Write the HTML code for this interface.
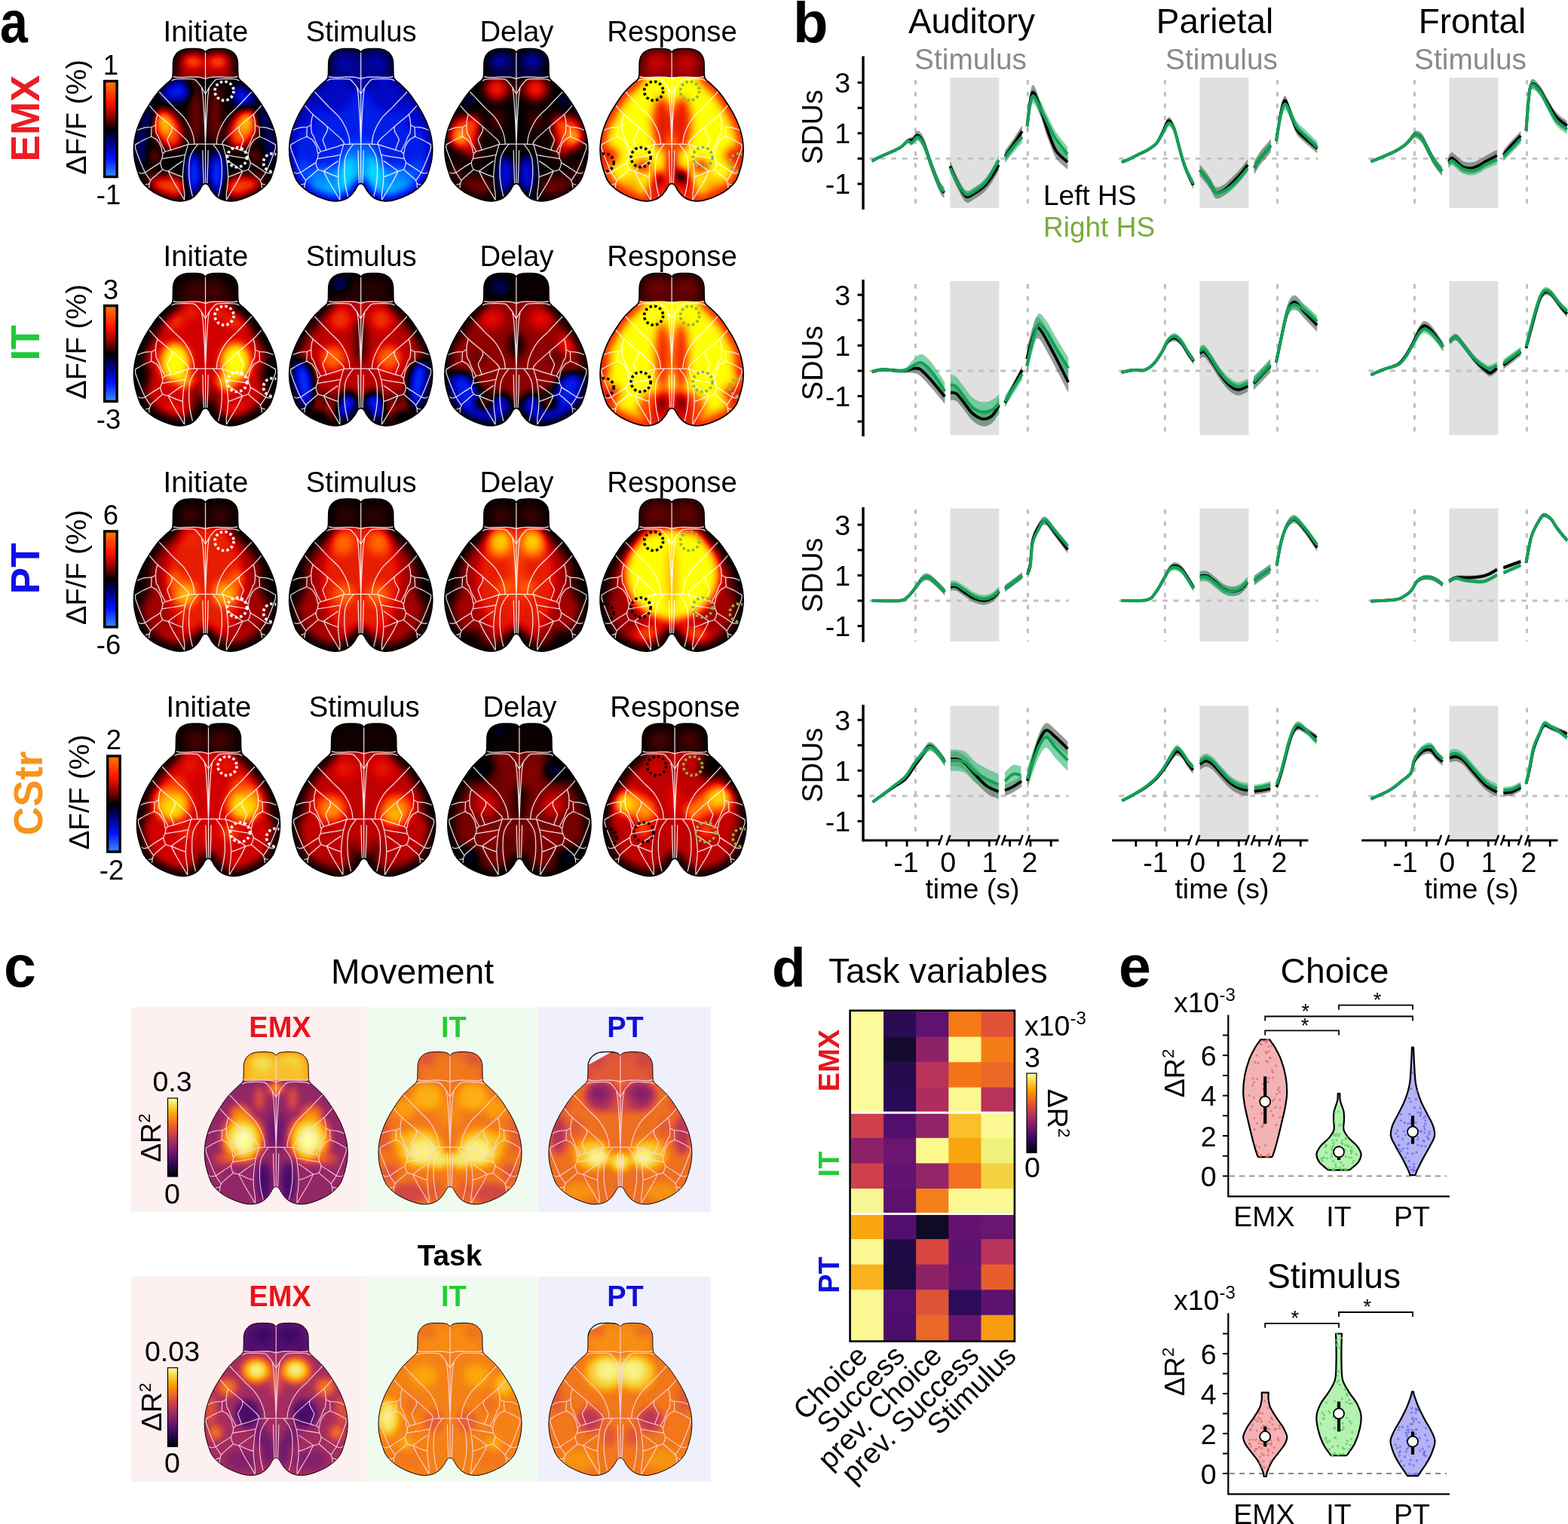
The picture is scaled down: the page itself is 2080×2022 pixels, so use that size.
<!DOCTYPE html><html><head><meta charset="utf-8"><title>Figure</title><style>html,body{margin:0;padding:0;background:#fff;}svg{display:block;}</style></head><body><svg xmlns="http://www.w3.org/2000/svg" width="2080" height="2022" viewBox="0 0 2080 2022" font-family='"Liberation Sans", Arial, sans-serif'><defs><path id="bpath" d="M0,4.3 C-0.87,4.3 -1.52,2.62 -2.6,2 C-3.68,1.38 -4.77,0.93 -6.5,0.6 C-8.23,0.27 -10.58,0.1 -13,0 C-15.42,-0.1 -18.58,-0.1 -21,0 C-23.42,0.1 -25.58,0.23 -27.5,0.6 C-29.42,0.97 -30.98,1.5 -32.5,2.2 C-34.02,2.9 -35.4,3.78 -36.6,4.8 C-37.8,5.82 -38.83,7.02 -39.7,8.3 C-40.57,9.58 -41.28,10.97 -41.8,12.5 C-42.32,14.03 -42.6,15.25 -42.8,17.5 C-43,19.75 -42.93,23.25 -43,26 C-43.07,28.75 -43.03,31.87 -43.2,34 C-43.37,36.13 -43.48,37.5 -44,38.8 C-44.52,40.1 -45.3,40.77 -46.3,41.8 C-47.3,42.83 -48.47,43.6 -50,45 C-51.53,46.4 -53.52,48.27 -55.5,50.2 C-57.48,52.13 -59.73,54.13 -61.9,56.6 C-64.07,59.07 -66.35,62 -68.5,65 C-70.65,68 -72.88,71.6 -74.8,74.6 C-76.72,77.6 -78.4,80.2 -80,83 C-81.6,85.8 -83.07,88.65 -84.4,91.4 C-85.73,94.15 -86.88,96.68 -88,99.5 C-89.12,102.32 -90.22,105.38 -91.1,108.3 C-91.98,111.22 -92.73,114.2 -93.3,117 C-93.87,119.8 -94.22,122.05 -94.5,125.1 C-94.78,128.15 -95.07,131.83 -95,135.3 C-94.93,138.77 -94.57,142.62 -94.1,145.9 C-93.63,149.18 -92.97,151.98 -92.2,155 C-91.43,158.02 -90.6,160.83 -89.5,164 C-88.4,167.17 -87.52,170.8 -85.6,174 C-83.68,177.2 -80.97,180.4 -78,183.2 C-75.03,186 -71.63,188.5 -67.8,190.8 C-63.97,193.1 -59.27,195.28 -55,197 C-50.73,198.72 -46.03,200.25 -42.2,201.1 C-38.37,201.95 -35.4,202.28 -32,202.1 C-28.6,201.92 -24.77,201.12 -21.8,200 C-18.83,198.88 -16.4,197.27 -14.2,195.4 C-12,193.53 -10.13,190.92 -8.6,188.8 C-7.07,186.68 -6.03,184.23 -5,182.7 C-3.97,181.17 -3.23,180.23 -2.4,179.6 C-1.57,178.97 -0.8,178.9 0,178.9 C0.8,178.9 1.57,178.97 2.4,179.6 C3.23,180.23 3.97,181.17 5,182.7 C6.03,184.23 7.07,186.68 8.6,188.8 C10.13,190.92 12,193.53 14.2,195.4 C16.4,197.27 18.83,198.88 21.8,200 C24.77,201.12 28.6,201.92 32,202.1 C35.4,202.28 38.37,201.95 42.2,201.1 C46.03,200.25 50.73,198.72 55,197 C59.27,195.28 63.97,193.1 67.8,190.8 C71.63,188.5 75.03,186 78,183.2 C80.97,180.4 83.68,177.2 85.6,174 C87.52,170.8 88.4,167.17 89.5,164 C90.6,160.83 91.43,158.02 92.2,155 C92.97,151.98 93.63,149.18 94.1,145.9 C94.57,142.62 94.93,138.77 95,135.3 C95.07,131.83 94.78,128.15 94.5,125.1 C94.22,122.05 93.87,119.8 93.3,117 C92.73,114.2 91.98,111.22 91.1,108.3 C90.22,105.38 89.12,102.32 88,99.5 C86.88,96.68 85.73,94.15 84.4,91.4 C83.07,88.65 81.6,85.8 80,83 C78.4,80.2 76.72,77.6 74.8,74.6 C72.88,71.6 70.65,68 68.5,65 C66.35,62 64.07,59.07 61.9,56.6 C59.73,54.13 57.48,52.13 55.5,50.2 C53.52,48.27 51.53,46.4 50,45 C48.47,43.6 47.3,42.83 46.3,41.8 C45.3,40.77 44.52,40.1 44,38.8 C43.48,37.5 43.37,36.13 43.2,34 C43.03,31.87 43.07,28.75 43,26 C42.93,23.25 43,19.75 42.8,17.5 C42.6,15.25 42.32,14.03 41.8,12.5 C41.28,10.97 40.57,9.58 39.7,8.3 C38.83,7.02 37.8,5.82 36.6,4.8 C35.4,3.78 34.02,2.9 32.5,2.2 C30.98,1.5 29.42,0.97 27.5,0.6 C25.58,0.23 23.42,0.1 21,0 C18.58,-0.1 15.42,-0.1 13,0 C10.58,0.1 8.23,0.27 6.5,0.6 C4.77,0.93 3.68,1.38 2.6,2 C1.52,2.62 0.87,4.3 0,4.3Z"/><clipPath id="bclip"><use href="#bpath"/></clipPath><path id="atlas" d="M-43.2,36.6 C-42.1,36.83 -39.8,37.83 -36.6,38 C-33.4,38.17 -28.2,37.68 -24,37.6 C-19.8,37.52 -14.73,37.33 -11.4,37.5 C-8.07,37.67 -5.9,38.18 -4,38.6 C-2.1,39.02 -0.67,39.77 0,40 M43.2,36.6 C42.1,36.83 39.8,37.83 36.6,38 C33.4,38.17 28.2,37.68 24,37.6 C19.8,37.52 14.73,37.33 11.4,37.5 C8.07,37.67 5.9,38.18 4,38.6 C2.1,39.02 0.67,39.77 0,40 M-44.5,42.2 C-43.75,41.9 -42.42,40.78 -40,40.4 C-37.58,40.02 -34.12,39.9 -30,39.9 C-25.88,39.9 -18.72,39.47 -15.3,40.4 C-11.88,41.33 -11.18,43.73 -9.5,45.5 C-7.82,47.27 -6.38,49.25 -5.2,51 C-4.02,52.75 -3.27,54.5 -2.4,56 C-1.53,57.5 -0.4,59.33 0,60 M44.5,42.2 C43.75,41.9 42.42,40.78 40,40.4 C37.58,40.02 34.12,39.9 30,39.9 C25.88,39.9 18.72,39.47 15.3,40.4 C11.88,41.33 11.18,43.73 9.5,45.5 C7.82,47.27 6.38,49.25 5.2,51 C4.02,52.75 3.27,54.5 2.4,56 C1.53,57.5 0.4,59.33 0,60 M-5.2,51 C-4.9,52.83 -3.85,58 -3.4,62 C-2.95,66 -2.85,69.5 -2.5,75 C-2.15,80.5 -1.63,88.33 -1.3,95 C-0.97,101.67 -0.72,109.75 -0.5,115 C-0.28,120.25 -0.08,124.58 0,126.5 M5.2,51 C4.9,52.83 3.85,58 3.4,62 C2.95,66 2.85,69.5 2.5,75 C2.15,80.5 1.63,88.33 1.3,95 C0.97,101.67 0.72,109.75 0.5,115 C0.28,120.25 0.08,124.58 0,126.5 M-61.9,56.6 C-60.25,58.33 -55.28,63.53 -52,67 C-48.72,70.47 -46.17,73.33 -42.2,77.4 C-38.23,81.47 -31.93,86.72 -28.2,91.4 C-24.47,96.08 -21.85,101.28 -19.8,105.5 C-17.75,109.72 -16.75,113.23 -15.9,116.7 C-15.05,120.17 -14.9,124.7 -14.7,126.3 M61.9,56.6 C60.25,58.33 55.28,63.53 52,67 C48.72,70.47 46.17,73.33 42.2,77.4 C38.23,81.47 31.93,86.72 28.2,91.4 C24.47,96.08 21.85,101.28 19.8,105.5 C17.75,109.72 16.75,113.23 15.9,116.7 C15.05,120.17 14.9,124.7 14.7,126.3 M-74.8,74.6 C-72.93,76.67 -68.55,82.32 -63.6,87 C-58.65,91.68 -51.47,97.1 -45.1,102.7 C-38.73,108.3 -29.25,116.58 -25.4,120.6 C-21.55,124.62 -22.57,125.77 -22,126.8 M74.8,74.6 C72.93,76.67 68.55,82.32 63.6,87 C58.65,91.68 51.47,97.1 45.1,102.7 C38.73,108.3 29.25,116.58 25.4,120.6 C21.55,124.62 22.57,125.77 22,126.8 M-22.9,126.8 C-21.08,126.75 -15.82,126.58 -12,126.5 C-8.18,126.42 -2,126.33 0,126.3 M22.9,126.8 C21.08,126.75 15.82,126.58 12,126.5 C8.18,126.42 2,126.33 0,126.3 M-63.6,87 C-63.97,88.68 -65.52,93.08 -65.8,97.1 C-66.08,101.12 -65.82,107.98 -65.3,111.1 C-64.78,114.22 -63.73,113.47 -62.7,115.8 C-61.67,118.13 -60.63,121.78 -59.1,125.1 C-57.57,128.42 -54.43,133.93 -53.5,135.7 M63.6,87 C63.97,88.68 65.52,93.08 65.8,97.1 C66.08,101.12 65.82,107.98 65.3,111.1 C64.78,114.22 63.73,113.47 62.7,115.8 C61.67,118.13 60.63,121.78 59.1,125.1 C57.57,128.42 54.43,133.93 53.5,135.7 M-65.8,101 C-66.73,101.47 -68.77,103.15 -71.4,103.8 C-74.03,104.45 -78.25,104.1 -81.6,104.9 C-84.95,105.7 -89.85,107.98 -91.5,108.6 M65.8,101 C66.73,101.47 68.77,103.15 71.4,103.8 C74.03,104.45 78.25,104.1 81.6,104.9 C84.95,105.7 89.85,107.98 91.5,108.6 M-71.4,103.8 C-71.43,104.83 -71.6,107.88 -71.6,110 C-71.6,112.12 -72.55,114.73 -71.4,116.5 C-70.25,118.27 -66.75,118.42 -64.7,120.6 C-62.65,122.78 -60.28,126.92 -59.1,129.6 C-57.92,132.28 -58.03,135.08 -57.6,136.7 C-57.17,138.32 -56.68,138.87 -56.5,139.3 M71.4,103.8 C71.43,104.83 71.6,107.88 71.6,110 C71.6,112.12 72.55,114.73 71.4,116.5 C70.25,118.27 66.75,118.42 64.7,120.6 C62.65,122.78 60.28,126.92 59.1,129.6 C57.92,132.28 58.03,135.08 57.6,136.7 C57.17,138.32 56.68,138.87 56.5,139.3 M-71.4,116.5 C-73.17,117.25 -78.43,119.22 -82,121 C-85.57,122.78 -91,126.17 -92.8,127.2 M71.4,116.5 C73.17,117.25 78.43,119.22 82,121 C85.57,122.78 91,126.17 92.8,127.2 M-45.1,102.7 C-45,103.63 -43.77,105.75 -44.5,108.3 C-45.23,110.85 -48.52,115.82 -49.5,118 C-50.48,120.18 -50.93,118.95 -50.4,121.4 C-49.87,123.85 -46.8,130.48 -46.3,132.7 C-45.8,134.92 -47.22,134.37 -47.4,134.7 M45.1,102.7 C45,103.63 43.77,105.75 44.5,108.3 C45.23,110.85 48.52,115.82 49.5,118 C50.48,120.18 50.93,118.95 50.4,121.4 C49.87,123.85 46.8,130.48 46.3,132.7 C45.8,134.92 47.22,134.37 47.4,134.7 M-22.9,126.8 C-24.92,127.5 -30.92,129.68 -35,131 C-39.08,132.32 -44.23,133.75 -47.4,134.7 C-50.57,135.65 -52.48,135.93 -54,136.7 C-55.52,137.47 -56.08,138.87 -56.5,139.3 M22.9,126.8 C24.92,127.5 30.92,129.68 35,131 C39.08,132.32 44.23,133.75 47.4,134.7 C50.57,135.65 52.48,135.93 54,136.7 C55.52,137.47 56.08,138.87 56.5,139.3 M-56.5,139.3 C-56.68,140.4 -57.08,143.95 -57.6,145.9 C-58.12,147.85 -59.78,148.62 -59.6,151 C-59.42,153.38 -58.2,158.32 -56.5,160.2 C-54.8,162.08 -50.58,161.95 -49.4,162.3 M56.5,139.3 C56.68,140.4 57.08,143.95 57.6,145.9 C58.12,147.85 59.78,148.62 59.6,151 C59.42,153.38 58.2,158.32 56.5,160.2 C54.8,162.08 50.58,161.95 49.4,162.3 M-57.6,145.9 C-55,145.5 -46.95,144.35 -42,143.5 C-37.05,142.65 -30.25,141.25 -27.9,140.8 M57.6,145.9 C55,145.5 46.95,144.35 42,143.5 C37.05,142.65 30.25,141.25 27.9,140.8 M-49.4,162.3 C-47.83,161.17 -43.15,157.72 -40,155.5 C-36.85,153.28 -32.08,150.08 -30.5,149 M49.4,162.3 C47.83,161.17 43.15,157.72 40,155.5 C36.85,153.28 32.08,150.08 30.5,149 M-49.4,162.3 C-47.83,163 -43.15,165.23 -40,166.5 C-36.85,167.77 -32.08,169.33 -30.5,169.9 M49.4,162.3 C47.83,163 43.15,165.23 40,166.5 C36.85,167.77 32.08,169.33 30.5,169.9 M-49.4,162.3 C-48.2,164.68 -44.6,172.23 -42.2,176.6 C-39.8,180.97 -37.28,184.68 -35,188.5 C-32.72,192.32 -29.58,197.67 -28.5,199.5 M49.4,162.3 C48.2,164.68 44.6,172.23 42.2,176.6 C39.8,180.97 37.28,184.68 35,188.5 C32.72,192.32 29.58,197.67 28.5,199.5 M-56.5,160.2 C-57.92,161.42 -62.27,165.03 -65,167.5 C-67.73,169.97 -71.25,172.22 -72.9,175 C-74.55,177.78 -74.55,181.78 -74.9,184.2 C-75.25,186.62 -74.98,188.62 -75,189.5 M56.5,160.2 C57.92,161.42 62.27,165.03 65,167.5 C67.73,169.97 71.25,172.22 72.9,175 C74.55,177.78 74.55,181.78 74.9,184.2 C75.25,186.62 74.98,188.62 75,189.5 M-72.9,175 C-74.08,173.22 -78.82,166.08 -80,164.3 M72.9,175 C74.08,173.22 78.82,166.08 80,164.3 M-59.6,151 C-61.33,152.08 -66.6,155.28 -70,157.5 C-73.4,159.72 -78.33,163.17 -80,164.3 M59.6,151 C61.33,152.08 66.6,155.28 70,157.5 C73.4,159.72 78.33,163.17 80,164.3 M-80,164.3 C-80.77,162.6 -83.1,157.65 -84.6,154.1 C-86.1,150.55 -87.63,146.67 -89,143 C-90.37,139.33 -92.17,134.73 -92.8,132.1 C-93.43,129.47 -92.8,128.02 -92.8,127.2 M80,164.3 C80.77,162.6 83.1,157.65 84.6,154.1 C86.1,150.55 87.63,146.67 89,143 C90.37,139.33 92.17,134.73 92.8,132.1 C93.43,129.47 92.8,128.02 92.8,127.2 M-80,164.3 C-81.02,164.47 -84.33,165.6 -86.1,165.3 C-87.87,165 -89.85,162.97 -90.6,162.5 M80,164.3 C81.02,164.47 84.33,165.6 86.1,165.3 C87.87,165 89.85,162.97 90.6,162.5 M-74.9,179.1 C-76.02,179.35 -79.95,181.2 -81.6,180.6 C-83.25,180 -84.27,176.35 -84.8,175.5 M74.9,179.1 C76.02,179.35 79.95,181.2 81.6,180.6 C83.25,180 84.27,176.35 84.8,175.5 M-22.9,126.8 C-23.33,128.33 -24.67,132.82 -25.5,136 C-26.33,139.18 -27.15,140.85 -27.9,145.9 C-28.65,150.95 -29.73,160.62 -30,166.3 C-30.27,171.98 -29.85,175.73 -29.5,180 C-29.15,184.27 -28.17,188.48 -27.9,191.9 C-27.63,195.32 -27.9,199.07 -27.9,200.5 M22.9,126.8 C23.33,128.33 24.67,132.82 25.5,136 C26.33,139.18 27.15,140.85 27.9,145.9 C28.65,150.95 29.73,160.62 30,166.3 C30.27,171.98 29.85,175.73 29.5,180 C29.15,184.27 28.17,188.48 27.9,191.9 C27.63,195.32 27.9,199.07 27.9,200.5 M-10.6,127.4 C-11.62,128.78 -15,132.62 -16.7,135.7 C-18.4,138.78 -19.95,140.8 -20.8,145.9 C-21.65,151 -21.9,160.28 -21.8,166.3 C-21.7,172.32 -20.97,177.15 -20.2,182 C-19.43,186.85 -17.7,193.17 -17.2,195.4 M10.6,127.4 C11.62,128.78 15,132.62 16.7,135.7 C18.4,138.78 19.95,140.8 20.8,145.9 C21.65,151 21.9,160.28 21.8,166.3 C21.7,172.32 20.97,177.15 20.2,182 C19.43,186.85 17.7,193.17 17.2,195.4 M-3.6,135 C-3.55,137.5 -3.43,145 -3.3,150 C-3.17,155 -2.98,160.17 -2.8,165 C-2.62,169.83 -2.3,176.67 -2.2,179 M3.6,135 C3.55,137.5 3.43,145 3.3,150 C3.17,155 2.98,160.17 2.8,165 C2.62,169.83 2.3,176.67 2.2,179 M0,4 L0,179" fill="none" stroke-linecap="round" stroke-linejoin="round"/><filter id="b3" filterUnits="userSpaceOnUse" x="-130" y="-40" width="260" height="290"><feGaussianBlur stdDeviation="3"/></filter><filter id="b4" filterUnits="userSpaceOnUse" x="-130" y="-40" width="260" height="290"><feGaussianBlur stdDeviation="4"/></filter><filter id="b5" filterUnits="userSpaceOnUse" x="-130" y="-40" width="260" height="290"><feGaussianBlur stdDeviation="5"/></filter><filter id="b6" filterUnits="userSpaceOnUse" x="-130" y="-40" width="260" height="290"><feGaussianBlur stdDeviation="6"/></filter><filter id="b7" filterUnits="userSpaceOnUse" x="-130" y="-40" width="260" height="290"><feGaussianBlur stdDeviation="7"/></filter><filter id="b8" filterUnits="userSpaceOnUse" x="-130" y="-40" width="260" height="290"><feGaussianBlur stdDeviation="8"/></filter><filter id="b10" filterUnits="userSpaceOnUse" x="-130" y="-40" width="260" height="290"><feGaussianBlur stdDeviation="10"/></filter><linearGradient id="hc" x1="0" y1="0" x2="0" y2="1"><stop offset="0" stop-color="#ff7a00"/><stop offset="0.22" stop-color="#ff1400"/><stop offset="0.38" stop-color="#8a0000"/><stop offset="0.5" stop-color="#000000"/><stop offset="0.62" stop-color="#000070"/><stop offset="0.8" stop-color="#0010ff"/><stop offset="1" stop-color="#3a8cff"/></linearGradient><linearGradient id="inf" x1="0" y1="0" x2="0" y2="1"><stop offset="0" stop-color="#fcffa4"/><stop offset="0.1" stop-color="#f6d746"/><stop offset="0.2" stop-color="#fca50a"/><stop offset="0.3" stop-color="#f37819"/><stop offset="0.4" stop-color="#dd513a"/><stop offset="0.5" stop-color="#bc3754"/><stop offset="0.6" stop-color="#932667"/><stop offset="0.7" stop-color="#6a176e"/><stop offset="0.8" stop-color="#420a68"/><stop offset="0.9" stop-color="#160b39"/><stop offset="1" stop-color="#000004"/></linearGradient><filter id="hc4" filterUnits="userSpaceOnUse" x="-130" y="-40" width="260" height="290" color-interpolation-filters="sRGB"><feGaussianBlur stdDeviation="4"/><feComponentTransfer><feFuncR type="table" tableValues="0 0 0 0 0 0 0.38 0.85 1 1 1"/><feFuncG type="table" tableValues="1 0.6 0.25 0.04 0 0 0 0 0.31 0.69 1"/><feFuncB type="table" tableValues="1 1 1 0.85 0.45 0 0 0 0 0 0"/></feComponentTransfer></filter><filter id="inf4" filterUnits="userSpaceOnUse" x="-130" y="-40" width="260" height="290" color-interpolation-filters="sRGB"><feGaussianBlur stdDeviation="4"/><feComponentTransfer><feFuncR type="table" tableValues="0 0.09 0.26 0.42 0.58 0.74 0.87 0.95 0.99 0.96 0.99"/><feFuncG type="table" tableValues="0 0.04 0.04 0.09 0.15 0.22 0.32 0.47 0.65 0.84 1"/><feFuncB type="table" tableValues="0.02 0.22 0.41 0.43 0.4 0.33 0.23 0.1 0.04 0.27 0.64"/></feComponentTransfer></filter><filter id="hc5" filterUnits="userSpaceOnUse" x="-130" y="-40" width="260" height="290" color-interpolation-filters="sRGB"><feGaussianBlur stdDeviation="5"/><feComponentTransfer><feFuncR type="table" tableValues="0 0 0 0 0 0 0.38 0.85 1 1 1"/><feFuncG type="table" tableValues="1 0.6 0.25 0.04 0 0 0 0 0.31 0.69 1"/><feFuncB type="table" tableValues="1 1 1 0.85 0.45 0 0 0 0 0 0"/></feComponentTransfer></filter><filter id="inf5" filterUnits="userSpaceOnUse" x="-130" y="-40" width="260" height="290" color-interpolation-filters="sRGB"><feGaussianBlur stdDeviation="5"/><feComponentTransfer><feFuncR type="table" tableValues="0 0.09 0.26 0.42 0.58 0.74 0.87 0.95 0.99 0.96 0.99"/><feFuncG type="table" tableValues="0 0.04 0.04 0.09 0.15 0.22 0.32 0.47 0.65 0.84 1"/><feFuncB type="table" tableValues="0.02 0.22 0.41 0.43 0.4 0.33 0.23 0.1 0.04 0.27 0.64"/></feComponentTransfer></filter><filter id="hc6" filterUnits="userSpaceOnUse" x="-130" y="-40" width="260" height="290" color-interpolation-filters="sRGB"><feGaussianBlur stdDeviation="6"/><feComponentTransfer><feFuncR type="table" tableValues="0 0 0 0 0 0 0.38 0.85 1 1 1"/><feFuncG type="table" tableValues="1 0.6 0.25 0.04 0 0 0 0 0.31 0.69 1"/><feFuncB type="table" tableValues="1 1 1 0.85 0.45 0 0 0 0 0 0"/></feComponentTransfer></filter><filter id="inf6" filterUnits="userSpaceOnUse" x="-130" y="-40" width="260" height="290" color-interpolation-filters="sRGB"><feGaussianBlur stdDeviation="6"/><feComponentTransfer><feFuncR type="table" tableValues="0 0.09 0.26 0.42 0.58 0.74 0.87 0.95 0.99 0.96 0.99"/><feFuncG type="table" tableValues="0 0.04 0.04 0.09 0.15 0.22 0.32 0.47 0.65 0.84 1"/><feFuncB type="table" tableValues="0.02 0.22 0.41 0.43 0.4 0.33 0.23 0.1 0.04 0.27 0.64"/></feComponentTransfer></filter><filter id="hc7" filterUnits="userSpaceOnUse" x="-130" y="-40" width="260" height="290" color-interpolation-filters="sRGB"><feGaussianBlur stdDeviation="7"/><feComponentTransfer><feFuncR type="table" tableValues="0 0 0 0 0 0 0.38 0.85 1 1 1"/><feFuncG type="table" tableValues="1 0.6 0.25 0.04 0 0 0 0 0.31 0.69 1"/><feFuncB type="table" tableValues="1 1 1 0.85 0.45 0 0 0 0 0 0"/></feComponentTransfer></filter><filter id="inf7" filterUnits="userSpaceOnUse" x="-130" y="-40" width="260" height="290" color-interpolation-filters="sRGB"><feGaussianBlur stdDeviation="7"/><feComponentTransfer><feFuncR type="table" tableValues="0 0.09 0.26 0.42 0.58 0.74 0.87 0.95 0.99 0.96 0.99"/><feFuncG type="table" tableValues="0 0.04 0.04 0.09 0.15 0.22 0.32 0.47 0.65 0.84 1"/><feFuncB type="table" tableValues="0.02 0.22 0.41 0.43 0.4 0.33 0.23 0.1 0.04 0.27 0.64"/></feComponentTransfer></filter><filter id="hc8" filterUnits="userSpaceOnUse" x="-130" y="-40" width="260" height="290" color-interpolation-filters="sRGB"><feGaussianBlur stdDeviation="8"/><feComponentTransfer><feFuncR type="table" tableValues="0 0 0 0 0 0 0.38 0.85 1 1 1"/><feFuncG type="table" tableValues="1 0.6 0.25 0.04 0 0 0 0 0.31 0.69 1"/><feFuncB type="table" tableValues="1 1 1 0.85 0.45 0 0 0 0 0 0"/></feComponentTransfer></filter><filter id="inf8" filterUnits="userSpaceOnUse" x="-130" y="-40" width="260" height="290" color-interpolation-filters="sRGB"><feGaussianBlur stdDeviation="8"/><feComponentTransfer><feFuncR type="table" tableValues="0 0.09 0.26 0.42 0.58 0.74 0.87 0.95 0.99 0.96 0.99"/><feFuncG type="table" tableValues="0 0.04 0.04 0.09 0.15 0.22 0.32 0.47 0.65 0.84 1"/><feFuncB type="table" tableValues="0.02 0.22 0.41 0.43 0.4 0.33 0.23 0.1 0.04 0.27 0.64"/></feComponentTransfer></filter><clipPath id="rtop"><rect x="-130" y="-40" width="260" height="77.8"/></clipPath><clipPath id="rbot"><rect x="-130" y="37.8" width="260" height="250"/></clipPath></defs><text x="0" y="56" font-size="78" font-weight="bold" transform="scale(0.85 1)">a</text><text x="52" y="157" font-size="53" text-anchor="middle" fill="#ee1c25" font-weight="bold" transform="rotate(-90 52 157)">EMX</text><text x="113.8" y="155.5" font-size="36.5" text-anchor="middle" fill="#000" transform="rotate(-90 113.8 155.5)" textLength="153" lengthAdjust="spacingAndGlyphs">&#916;F/F (%)</text><rect x="138.7" y="107.6" width="16.5" height="127" fill="url(#hc)" stroke="#000" stroke-width="3.4"/><text x="147" y="98.5" font-size="36.5" text-anchor="middle" fill="#000">1</text><text x="144" y="271" font-size="36.5" text-anchor="middle" fill="#000">-1</text><text x="273" y="55.3" font-size="38.3" text-anchor="middle" fill="#000">Initiate</text><g transform="translate(272.5,64.7)"><g clip-path="url(#bclip)"><g clip-path="url(#rtop)"><g filter="url(#hc6)"><rect x="-130" y="-40" width="260" height="120" fill="#a6a6a6"/><ellipse cx="-16" cy="15" rx="13" ry="11" fill="#cccccc"/><ellipse cx="16" cy="15" rx="13" ry="11" fill="#cccccc"/><use href="#bpath" fill="none" stroke="#838383" stroke-width="14"/></g></g><g clip-path="url(#rbot)"><g filter="url(#hc6)"><rect x="-130" y="0" width="260" height="250" fill="#808080"/><ellipse cx="-18" cy="50" rx="8" ry="10" fill="#969696"/><ellipse cx="-40" cy="56" rx="20" ry="13" fill="#434343"/><ellipse cx="52" cy="62" rx="15" ry="14" fill="#434343"/><ellipse cx="22" cy="55" rx="10" ry="10" fill="#898989"/><ellipse cx="-75" cy="85" rx="10" ry="18" fill="#535353"/><ellipse cx="75" cy="85" rx="10" ry="18" fill="#535353"/><ellipse cx="-88" cy="115" rx="8" ry="22" fill="#595959"/><ellipse cx="88" cy="115" rx="8" ry="22" fill="#595959"/><ellipse cx="-86" cy="140" rx="7" ry="12" fill="#606060"/><ellipse cx="86" cy="140" rx="7" ry="12" fill="#606060"/><ellipse cx="-13" cy="90" rx="8" ry="38" fill="#9f9f9f"/><ellipse cx="13" cy="90" rx="8" ry="38" fill="#9f9f9f"/><ellipse cx="-64" cy="80" rx="8" ry="6" fill="#808080"/><ellipse cx="64" cy="80" rx="8" ry="6" fill="#808080"/><ellipse cx="-28" cy="88" rx="7" ry="10" fill="#808080"/><ellipse cx="28" cy="88" rx="7" ry="10" fill="#808080"/><ellipse cx="-50" cy="106" rx="17" ry="27" fill="#cccccc" transform="rotate(-25 -50 106)"/><ellipse cx="50" cy="106" rx="17" ry="27" fill="#cccccc" transform="rotate(25 50 106)"/><ellipse cx="-54" cy="100" rx="9" ry="14" fill="#ececec" transform="rotate(-25 -54 100)"/><ellipse cx="54" cy="100" rx="9" ry="14" fill="#ececec" transform="rotate(25 54 100)"/><ellipse cx="-68" cy="142" rx="9" ry="8" fill="#9c9c9c"/><ellipse cx="68" cy="142" rx="9" ry="8" fill="#9c9c9c"/><ellipse cx="-45" cy="140" rx="8" ry="6" fill="#838383"/><ellipse cx="45" cy="140" rx="8" ry="6" fill="#838383"/><ellipse cx="-50" cy="184" rx="24" ry="15" fill="#c6c6c6"/><ellipse cx="50" cy="184" rx="24" ry="15" fill="#c6c6c6"/><ellipse cx="-72" cy="168" rx="8" ry="8" fill="#969696"/><ellipse cx="72" cy="168" rx="8" ry="8" fill="#969696"/><ellipse cx="-15" cy="168" rx="9" ry="30" fill="#363636"/><ellipse cx="15" cy="168" rx="9" ry="30" fill="#363636"/><ellipse cx="-32" cy="158" rx="5" ry="12" fill="#808080"/><ellipse cx="32" cy="158" rx="5" ry="12" fill="#808080"/><use href="#bpath" fill="none" stroke="#808080" stroke-width="8"/></g></g><use href="#atlas" stroke="#ffffff" stroke-width="1.25" stroke-opacity="0.88"/></g><circle cx="25" cy="56" r="12.5" fill="none" stroke="#fff" stroke-width="3.6" stroke-dasharray="3.4 3.2"/><circle cx="42" cy="144" r="13" fill="none" stroke="#fff" stroke-width="3.6" stroke-dasharray="3.4 3.2"/><g clip-path="url(#bclip)"><circle cx="89" cy="151" r="12" fill="none" stroke="#fff" stroke-width="3.6" stroke-dasharray="3.4 3.2"/></g><use href="#bpath" fill="none" stroke="#000" stroke-width="1.7"/></g><text x="479.2" y="55.3" font-size="38.3" text-anchor="middle" fill="#000">Stimulus</text><g transform="translate(478.7,64.7)"><g clip-path="url(#bclip)"><g clip-path="url(#rtop)"><g filter="url(#hc6)"><rect x="-130" y="-40" width="260" height="120" fill="#606060"/><ellipse cx="-22" cy="16" rx="14" ry="12" fill="#595959"/><ellipse cx="22" cy="16" rx="14" ry="12" fill="#595959"/><use href="#bpath" fill="none" stroke="#767676" stroke-width="12"/></g></g><g clip-path="url(#rbot)"><g filter="url(#hc6)"><rect x="-130" y="0" width="260" height="250" fill="#434343"/><ellipse cx="0" cy="45" rx="30" ry="12" fill="#5c5c5c"/><ellipse cx="-40" cy="62" rx="28" ry="22" fill="#525252"/><ellipse cx="40" cy="62" rx="28" ry="22" fill="#525252"/><ellipse cx="-70" cy="90" rx="14" ry="20" fill="#4c4c4c"/><ellipse cx="70" cy="90" rx="14" ry="20" fill="#4c4c4c"/><ellipse cx="-45" cy="178" rx="30" ry="22" fill="#202020"/><ellipse cx="45" cy="178" rx="30" ry="22" fill="#202020"/><ellipse cx="0" cy="160" rx="26" ry="32" fill="#1d1d1d"/><ellipse cx="-18" cy="168" rx="12" ry="26" fill="#0a0a0a"/><ellipse cx="18" cy="168" rx="12" ry="26" fill="#0a0a0a"/><ellipse cx="-50" cy="190" rx="22" ry="12" fill="#131313"/><ellipse cx="50" cy="190" rx="22" ry="12" fill="#131313"/><ellipse cx="-78" cy="165" rx="12" ry="18" fill="#303030"/><ellipse cx="78" cy="165" rx="12" ry="18" fill="#303030"/><ellipse cx="0" cy="132" rx="20" ry="10" fill="#292929"/><use href="#bpath" fill="none" stroke="#606060" stroke-width="10"/></g></g><use href="#atlas" stroke="#ffffff" stroke-width="1.25" stroke-opacity="0.88"/></g><use href="#bpath" fill="none" stroke="#000" stroke-width="1.7"/></g><text x="685.4" y="55.3" font-size="38.3" text-anchor="middle" fill="#000">Delay</text><g transform="translate(684.9,64.7)"><g clip-path="url(#bclip)"><g clip-path="url(#rtop)"><g filter="url(#hc6)"><rect x="-130" y="-40" width="260" height="120" fill="#737373"/><ellipse cx="-22" cy="14" rx="13" ry="11" fill="#565656"/><ellipse cx="22" cy="14" rx="13" ry="11" fill="#565656"/><use href="#bpath" fill="none" stroke="#808080" stroke-width="14"/></g></g><g clip-path="url(#rbot)"><g filter="url(#hc6)"><rect x="-130" y="0" width="260" height="250" fill="#838383"/><ellipse cx="-26" cy="53" rx="15" ry="15" fill="#bcbcbc"/><ellipse cx="26" cy="53" rx="15" ry="15" fill="#bcbcbc"/><ellipse cx="0" cy="55" rx="8" ry="8" fill="#969696"/><ellipse cx="-48" cy="44" rx="6" ry="6" fill="#808080"/><ellipse cx="48" cy="44" rx="6" ry="6" fill="#808080"/><ellipse cx="-66" cy="66" rx="10" ry="10" fill="#636363"/><ellipse cx="66" cy="66" rx="10" ry="10" fill="#636363"/><ellipse cx="0" cy="100" rx="10" ry="32" fill="#808080"/><ellipse cx="-25" cy="95" rx="8" ry="12" fill="#969696"/><ellipse cx="25" cy="95" rx="8" ry="12" fill="#969696"/><ellipse cx="-70" cy="112" rx="20" ry="22" fill="#c2c2c2"/><ellipse cx="70" cy="112" rx="20" ry="22" fill="#c2c2c2"/><ellipse cx="-76" cy="116" rx="10" ry="11" fill="#e6e6e6"/><ellipse cx="76" cy="116" rx="10" ry="11" fill="#e6e6e6"/><ellipse cx="-57" cy="99" rx="8" ry="9" fill="#d2d2d2"/><ellipse cx="57" cy="99" rx="8" ry="9" fill="#d2d2d2"/><ellipse cx="-60" cy="135" rx="10" ry="8" fill="#b2b2b2"/><ellipse cx="60" cy="135" rx="10" ry="8" fill="#b2b2b2"/><ellipse cx="-14" cy="168" rx="9" ry="26" fill="#464646"/><ellipse cx="14" cy="168" rx="9" ry="26" fill="#464646"/><ellipse cx="-35" cy="160" rx="7" ry="10" fill="#808080"/><ellipse cx="35" cy="160" rx="7" ry="10" fill="#808080"/><ellipse cx="-55" cy="183" rx="22" ry="13" fill="#9c9c9c"/><ellipse cx="55" cy="183" rx="22" ry="13" fill="#9c9c9c"/><ellipse cx="-82" cy="165" rx="8" ry="12" fill="#969696"/><ellipse cx="82" cy="165" rx="8" ry="12" fill="#969696"/><use href="#bpath" fill="none" stroke="#808080" stroke-width="8"/></g></g><use href="#atlas" stroke="#ffffff" stroke-width="1.25" stroke-opacity="0.88"/></g><use href="#bpath" fill="none" stroke="#000" stroke-width="1.7"/></g><text x="891.6" y="55.3" font-size="38.3" text-anchor="middle" fill="#000">Response</text><g transform="translate(891.1,64.7)"><g clip-path="url(#bclip)"><g clip-path="url(#rtop)"><g filter="url(#hc6)"><rect x="-130" y="-40" width="260" height="120" fill="#a3a3a3"/><ellipse cx="-20" cy="18" rx="14" ry="12" fill="#afafaf"/><ellipse cx="20" cy="18" rx="14" ry="12" fill="#afafaf"/><use href="#bpath" fill="none" stroke="#939393" stroke-width="10"/></g></g><g clip-path="url(#rbot)"><g filter="url(#hc6)"><rect x="-130" y="0" width="260" height="250" fill="#ffffff"/><ellipse cx="-13" cy="100" rx="13" ry="36" fill="#bcbcbc"/><ellipse cx="13" cy="100" rx="13" ry="36" fill="#bcbcbc"/><ellipse cx="-78" cy="65" rx="13" ry="11" fill="#c9c9c9"/><ellipse cx="78" cy="65" rx="13" ry="11" fill="#c9c9c9"/><ellipse cx="-82" cy="142" rx="12" ry="12" fill="#bfbfbf"/><ellipse cx="82" cy="142" rx="12" ry="12" fill="#bfbfbf"/><ellipse cx="-38" cy="156" rx="12" ry="9" fill="#bfbfbf"/><ellipse cx="38" cy="156" rx="12" ry="9" fill="#bfbfbf"/><ellipse cx="-17" cy="172" rx="6" ry="10" fill="#808080"/><ellipse cx="17" cy="172" rx="6" ry="10" fill="#808080"/><ellipse cx="13" cy="168" rx="6" ry="8" fill="#666666"/><ellipse cx="-25" cy="186" rx="8" ry="12" fill="#b9b9b9"/><ellipse cx="25" cy="186" rx="8" ry="12" fill="#b9b9b9"/><ellipse cx="-55" cy="182" rx="14" ry="12" fill="#e6e6e6"/><ellipse cx="55" cy="182" rx="14" ry="12" fill="#e6e6e6"/><ellipse cx="0" cy="155" rx="8" ry="28" fill="#acacac"/><ellipse cx="-70" cy="192" rx="10" ry="8" fill="#d2d2d2"/><ellipse cx="70" cy="192" rx="10" ry="8" fill="#d2d2d2"/><use href="#bpath" fill="none" stroke="#bcbcbc" stroke-width="16"/></g></g><use href="#atlas" stroke="#ffffff" stroke-width="1.25" stroke-opacity="0.88"/></g><circle cx="-24" cy="56" r="12.5" fill="none" stroke="#000" stroke-width="3.6" stroke-dasharray="3.4 3.2"/><circle cx="24" cy="56" r="12.5" fill="none" stroke="#8fb34a" stroke-width="3.6" stroke-dasharray="3.4 3.2"/><circle cx="-41" cy="144" r="13" fill="none" stroke="#000" stroke-width="3.6" stroke-dasharray="3.4 3.2"/><circle cx="41" cy="144" r="13" fill="none" stroke="#8fb34a" stroke-width="3.6" stroke-dasharray="3.4 3.2"/><g clip-path="url(#bclip)"><circle cx="-89" cy="151" r="12" fill="none" stroke="#000" stroke-width="3.6" stroke-dasharray="3.4 3.2"/><circle cx="89" cy="151" r="12" fill="none" stroke="#8fb34a" stroke-width="3.6" stroke-dasharray="3.4 3.2"/></g><use href="#bpath" fill="none" stroke="#000" stroke-width="1.7"/></g><text x="52" y="455" font-size="53" text-anchor="middle" fill="#22c83a" font-weight="bold" transform="rotate(-90 52 455)">IT</text><text x="113.8" y="453.5" font-size="36.5" text-anchor="middle" fill="#000" transform="rotate(-90 113.8 453.5)" textLength="153" lengthAdjust="spacingAndGlyphs">&#916;F/F (%)</text><rect x="138.7" y="405.6" width="16.5" height="127" fill="url(#hc)" stroke="#000" stroke-width="3.4"/><text x="147" y="396.5" font-size="36.5" text-anchor="middle" fill="#000">3</text><text x="144" y="569" font-size="36.5" text-anchor="middle" fill="#000">-3</text><text x="273" y="353.3" font-size="38.3" text-anchor="middle" fill="#000">Initiate</text><g transform="translate(272.5,362.7)"><g clip-path="url(#bclip)"><g clip-path="url(#rtop)"><g filter="url(#hc6)"><rect x="-130" y="-40" width="260" height="120" fill="#8c8c8c"/><ellipse cx="-30" cy="10" rx="10" ry="8" fill="#838383"/><ellipse cx="30" cy="10" rx="10" ry="8" fill="#838383"/><ellipse cx="-12" cy="22" rx="10" ry="10" fill="#939393"/><ellipse cx="12" cy="22" rx="10" ry="10" fill="#939393"/><use href="#bpath" fill="none" stroke="#808080" stroke-width="12"/></g></g><g clip-path="url(#rbot)"><g filter="url(#hc6)"><rect x="-130" y="0" width="260" height="250" fill="#b1b1b1"/><ellipse cx="-18" cy="52" rx="8" ry="8" fill="#bfbfbf"/><ellipse cx="18" cy="52" rx="8" ry="8" fill="#bfbfbf"/><ellipse cx="-42" cy="62" rx="14" ry="12" fill="#c2c2c2"/><ellipse cx="42" cy="62" rx="14" ry="12" fill="#c2c2c2"/><ellipse cx="-40" cy="118" rx="19" ry="25" fill="#ffffff"/><ellipse cx="40" cy="118" rx="19" ry="25" fill="#ffffff"/><ellipse cx="-27" cy="142" rx="10" ry="10" fill="#ececec"/><ellipse cx="27" cy="142" rx="10" ry="10" fill="#ececec"/><ellipse cx="27" cy="145" rx="11" ry="10" fill="#f2f2f2"/><ellipse cx="-86" cy="135" rx="12" ry="22" fill="#808080"/><ellipse cx="86" cy="135" rx="12" ry="22" fill="#808080"/><ellipse cx="-12" cy="162" rx="6" ry="14" fill="#969696"/><ellipse cx="12" cy="162" rx="6" ry="14" fill="#969696"/><ellipse cx="-45" cy="186" rx="20" ry="12" fill="#bcbcbc"/><ellipse cx="45" cy="186" rx="20" ry="12" fill="#bcbcbc"/><use href="#bpath" fill="none" stroke="#808080" stroke-width="22"/></g></g><use href="#atlas" stroke="#ffffff" stroke-width="1.25" stroke-opacity="0.88"/></g><circle cx="25" cy="56" r="12.5" fill="none" stroke="#fff" stroke-width="3.6" stroke-dasharray="3.4 3.2"/><circle cx="42" cy="144" r="13" fill="none" stroke="#fff" stroke-width="3.6" stroke-dasharray="3.4 3.2"/><g clip-path="url(#bclip)"><circle cx="89" cy="151" r="12" fill="none" stroke="#fff" stroke-width="3.6" stroke-dasharray="3.4 3.2"/></g><use href="#bpath" fill="none" stroke="#000" stroke-width="1.7"/></g><text x="479.2" y="353.3" font-size="38.3" text-anchor="middle" fill="#000">Stimulus</text><g transform="translate(478.7,362.7)"><g clip-path="url(#bclip)"><g clip-path="url(#rtop)"><g filter="url(#hc6)"><rect x="-130" y="-40" width="260" height="120" fill="#898989"/><ellipse cx="-28" cy="12" rx="11" ry="10" fill="#606060"/><use href="#bpath" fill="none" stroke="#808080" stroke-width="12"/></g></g><g clip-path="url(#rbot)"><g filter="url(#hc6)"><rect x="-130" y="0" width="260" height="250" fill="#acacac"/><ellipse cx="-27" cy="61" rx="14" ry="14" fill="#c2c2c2"/><ellipse cx="27" cy="61" rx="14" ry="14" fill="#c2c2c2"/><ellipse cx="0" cy="90" rx="8" ry="30" fill="#8f8f8f"/><ellipse cx="-60" cy="70" rx="10" ry="10" fill="#a6a6a6"/><ellipse cx="60" cy="70" rx="10" ry="10" fill="#a6a6a6"/><ellipse cx="-37" cy="112" rx="16" ry="16" fill="#d2d2d2"/><ellipse cx="37" cy="112" rx="16" ry="16" fill="#d2d2d2"/><ellipse cx="-80" cy="152" rx="17" ry="36" fill="#393939"/><ellipse cx="80" cy="152" rx="17" ry="36" fill="#393939"/><ellipse cx="-17" cy="182" rx="14" ry="24" fill="#3d3d3d"/><ellipse cx="17" cy="182" rx="14" ry="24" fill="#3d3d3d"/><ellipse cx="-58" cy="193" rx="14" ry="10" fill="#4c4c4c"/><ellipse cx="58" cy="193" rx="14" ry="10" fill="#4c4c4c"/><ellipse cx="-47" cy="166" rx="8" ry="8" fill="#868686"/><ellipse cx="47" cy="166" rx="8" ry="8" fill="#868686"/><use href="#bpath" fill="none" stroke="#808080" stroke-width="16"/></g></g><use href="#atlas" stroke="#ffffff" stroke-width="1.25" stroke-opacity="0.88"/></g><use href="#bpath" fill="none" stroke="#000" stroke-width="1.7"/></g><text x="685.4" y="353.3" font-size="38.3" text-anchor="middle" fill="#000">Delay</text><g transform="translate(684.9,362.7)"><g clip-path="url(#bclip)"><g clip-path="url(#rtop)"><g filter="url(#hc6)"><rect x="-130" y="-40" width="260" height="120" fill="#838383"/><ellipse cx="-22" cy="18" rx="12" ry="10" fill="#696969"/><use href="#bpath" fill="none" stroke="#808080" stroke-width="12"/></g></g><g clip-path="url(#rbot)"><g filter="url(#hc6)"><rect x="-130" y="0" width="260" height="250" fill="#a3a3a3"/><ellipse cx="-33" cy="60" rx="16" ry="14" fill="#b6b6b6"/><ellipse cx="33" cy="60" rx="16" ry="14" fill="#b6b6b6"/><ellipse cx="-83" cy="96" rx="10" ry="14" fill="#b6b6b6"/><ellipse cx="83" cy="96" rx="10" ry="14" fill="#b6b6b6"/><ellipse cx="67" cy="92" rx="10" ry="12" fill="#bfbfbf"/><ellipse cx="0" cy="95" rx="10" ry="16" fill="#808080"/><ellipse cx="-52" cy="113" rx="10" ry="10" fill="#999999"/><ellipse cx="52" cy="113" rx="10" ry="10" fill="#999999"/><ellipse cx="-75" cy="160" rx="24" ry="28" fill="#434343"/><ellipse cx="75" cy="160" rx="24" ry="28" fill="#434343"/><ellipse cx="-55" cy="192" rx="22" ry="14" fill="#404040"/><ellipse cx="55" cy="192" rx="22" ry="14" fill="#404040"/><ellipse cx="-20" cy="182" rx="14" ry="22" fill="#494949"/><ellipse cx="20" cy="182" rx="14" ry="22" fill="#494949"/><ellipse cx="-42" cy="160" rx="8" ry="8" fill="#797979"/><ellipse cx="42" cy="160" rx="8" ry="8" fill="#797979"/><use href="#bpath" fill="none" stroke="#808080" stroke-width="14"/></g></g><use href="#atlas" stroke="#ffffff" stroke-width="1.25" stroke-opacity="0.88"/></g><use href="#bpath" fill="none" stroke="#000" stroke-width="1.7"/></g><text x="891.6" y="353.3" font-size="38.3" text-anchor="middle" fill="#000">Response</text><g transform="translate(891.1,362.7)"><g clip-path="url(#bclip)"><g clip-path="url(#rtop)"><g filter="url(#hc6)"><rect x="-130" y="-40" width="260" height="120" fill="#969696"/><ellipse cx="-20" cy="18" rx="14" ry="12" fill="#9c9c9c"/><ellipse cx="20" cy="18" rx="14" ry="12" fill="#9c9c9c"/><use href="#bpath" fill="none" stroke="#868686" stroke-width="10"/></g></g><g clip-path="url(#rbot)"><g filter="url(#hc6)"><rect x="-130" y="0" width="260" height="250" fill="#ffffff"/><ellipse cx="-12" cy="110" rx="10" ry="45" fill="#bfbfbf"/><ellipse cx="12" cy="110" rx="10" ry="45" fill="#bfbfbf"/><ellipse cx="-70" cy="60" rx="12" ry="10" fill="#d2d2d2"/><ellipse cx="70" cy="60" rx="12" ry="10" fill="#d2d2d2"/><ellipse cx="0" cy="178" rx="45" ry="24" fill="#c2c2c2"/><ellipse cx="-80" cy="160" rx="12" ry="12" fill="#bfbfbf"/><ellipse cx="80" cy="160" rx="12" ry="12" fill="#bfbfbf"/><ellipse cx="-13" cy="178" rx="6" ry="18" fill="#898989"/><ellipse cx="13" cy="178" rx="6" ry="18" fill="#898989"/><ellipse cx="-30" cy="170" rx="10" ry="12" fill="#cccccc"/><ellipse cx="30" cy="170" rx="10" ry="12" fill="#cccccc"/><ellipse cx="-58" cy="188" rx="12" ry="9" fill="#efefef"/><ellipse cx="58" cy="188" rx="12" ry="9" fill="#efefef"/><ellipse cx="-88" cy="120" rx="6" ry="20" fill="#c6c6c6"/><ellipse cx="88" cy="120" rx="6" ry="20" fill="#c6c6c6"/><use href="#bpath" fill="none" stroke="#b9b9b9" stroke-width="14"/></g></g><use href="#atlas" stroke="#ffffff" stroke-width="1.25" stroke-opacity="0.88"/></g><circle cx="-24" cy="56" r="12.5" fill="none" stroke="#000" stroke-width="3.6" stroke-dasharray="3.4 3.2"/><circle cx="24" cy="56" r="12.5" fill="none" stroke="#8fb34a" stroke-width="3.6" stroke-dasharray="3.4 3.2"/><circle cx="-41" cy="144" r="13" fill="none" stroke="#000" stroke-width="3.6" stroke-dasharray="3.4 3.2"/><circle cx="41" cy="144" r="13" fill="none" stroke="#8fb34a" stroke-width="3.6" stroke-dasharray="3.4 3.2"/><g clip-path="url(#bclip)"><circle cx="-89" cy="151" r="12" fill="none" stroke="#000" stroke-width="3.6" stroke-dasharray="3.4 3.2"/><circle cx="89" cy="151" r="12" fill="none" stroke="#8fb34a" stroke-width="3.6" stroke-dasharray="3.4 3.2"/></g><use href="#bpath" fill="none" stroke="#000" stroke-width="1.7"/></g><text x="52" y="754.3" font-size="53" text-anchor="middle" fill="#1010e8" font-weight="bold" transform="rotate(-90 52 754.3)">PT</text><text x="113.8" y="752.8" font-size="36.5" text-anchor="middle" fill="#000" transform="rotate(-90 113.8 752.8)" textLength="153" lengthAdjust="spacingAndGlyphs">&#916;F/F (%)</text><rect x="138.7" y="704.9" width="16.5" height="127" fill="url(#hc)" stroke="#000" stroke-width="3.4"/><text x="147" y="695.8" font-size="36.5" text-anchor="middle" fill="#000">6</text><text x="144" y="868.3" font-size="36.5" text-anchor="middle" fill="#000">-6</text><text x="273" y="652.6" font-size="38.3" text-anchor="middle" fill="#000">Initiate</text><g transform="translate(272.5,662)"><g clip-path="url(#bclip)"><g clip-path="url(#rtop)"><g filter="url(#hc6)"><rect x="-130" y="-40" width="260" height="120" fill="#868686"/><ellipse cx="-20" cy="22" rx="12" ry="10" fill="#8f8f8f"/><ellipse cx="20" cy="22" rx="12" ry="10" fill="#8f8f8f"/><use href="#bpath" fill="none" stroke="#808080" stroke-width="10"/></g></g><g clip-path="url(#rbot)"><g filter="url(#hc6)"><rect x="-130" y="0" width="260" height="250" fill="#a7a7a7"/><ellipse cx="0" cy="110" rx="52" ry="75" fill="#bcbcbc"/><ellipse cx="-20" cy="52" rx="12" ry="12" fill="#bfbfbf"/><ellipse cx="20" cy="52" rx="12" ry="12" fill="#bfbfbf"/><ellipse cx="-26" cy="126" rx="16" ry="16" fill="#e6e6e6"/><ellipse cx="26" cy="126" rx="16" ry="16" fill="#e6e6e6"/><ellipse cx="-40" cy="108" rx="10" ry="14" fill="#d2d2d2" transform="rotate(-30 -40 108)"/><ellipse cx="40" cy="108" rx="10" ry="14" fill="#d2d2d2" transform="rotate(30 40 108)"/><ellipse cx="-86" cy="105" rx="14" ry="34" fill="#868686"/><ellipse cx="86" cy="105" rx="14" ry="34" fill="#868686"/><ellipse cx="-78" cy="58" rx="12" ry="12" fill="#8c8c8c"/><ellipse cx="78" cy="58" rx="12" ry="12" fill="#8c8c8c"/><ellipse cx="-50" cy="186" rx="20" ry="10" fill="#afafaf"/><ellipse cx="50" cy="186" rx="20" ry="10" fill="#afafaf"/><ellipse cx="0" cy="120" rx="12" ry="30" fill="#bcbcbc"/><use href="#bpath" fill="none" stroke="#808080" stroke-width="18"/></g></g><use href="#atlas" stroke="#ffffff" stroke-width="1.25" stroke-opacity="0.88"/></g><circle cx="25" cy="56" r="12.5" fill="none" stroke="#fff" stroke-width="3.6" stroke-dasharray="3.4 3.2"/><circle cx="42" cy="144" r="13" fill="none" stroke="#fff" stroke-width="3.6" stroke-dasharray="3.4 3.2"/><g clip-path="url(#bclip)"><circle cx="89" cy="151" r="12" fill="none" stroke="#fff" stroke-width="3.6" stroke-dasharray="3.4 3.2"/></g><use href="#bpath" fill="none" stroke="#000" stroke-width="1.7"/></g><text x="479.2" y="652.6" font-size="38.3" text-anchor="middle" fill="#000">Stimulus</text><g transform="translate(478.7,662)"><g clip-path="url(#bclip)"><g clip-path="url(#rtop)"><g filter="url(#hc6)"><rect x="-130" y="-40" width="260" height="120" fill="#868686"/><ellipse cx="-20" cy="22" rx="12" ry="10" fill="#8c8c8c"/><ellipse cx="20" cy="22" rx="12" ry="10" fill="#8c8c8c"/><use href="#bpath" fill="none" stroke="#808080" stroke-width="10"/></g></g><g clip-path="url(#rbot)"><g filter="url(#hc6)"><rect x="-130" y="0" width="260" height="250" fill="#a7a7a7"/><ellipse cx="0" cy="110" rx="52" ry="75" fill="#bcbcbc"/><ellipse cx="-24" cy="58" rx="15" ry="16" fill="#d2d2d2"/><ellipse cx="24" cy="58" rx="15" ry="16" fill="#d2d2d2"/><ellipse cx="-22" cy="127" rx="14" ry="14" fill="#d2d2d2"/><ellipse cx="22" cy="127" rx="14" ry="14" fill="#d2d2d2"/><ellipse cx="-86" cy="105" rx="14" ry="34" fill="#868686"/><ellipse cx="86" cy="105" rx="14" ry="34" fill="#868686"/><ellipse cx="-78" cy="58" rx="12" ry="12" fill="#8c8c8c"/><ellipse cx="78" cy="58" rx="12" ry="12" fill="#8c8c8c"/><ellipse cx="-50" cy="186" rx="20" ry="10" fill="#acacac"/><ellipse cx="50" cy="186" rx="20" ry="10" fill="#acacac"/><use href="#bpath" fill="none" stroke="#808080" stroke-width="18"/></g></g><use href="#atlas" stroke="#ffffff" stroke-width="1.25" stroke-opacity="0.88"/></g><use href="#bpath" fill="none" stroke="#000" stroke-width="1.7"/></g><text x="685.4" y="652.6" font-size="38.3" text-anchor="middle" fill="#000">Delay</text><g transform="translate(684.9,662)"><g clip-path="url(#bclip)"><g clip-path="url(#rtop)"><g filter="url(#hc6)"><rect x="-130" y="-40" width="260" height="120" fill="#868686"/><ellipse cx="-20" cy="22" rx="12" ry="10" fill="#8f8f8f"/><ellipse cx="20" cy="22" rx="12" ry="10" fill="#8f8f8f"/><use href="#bpath" fill="none" stroke="#808080" stroke-width="10"/></g></g><g clip-path="url(#rbot)"><g filter="url(#hc6)"><rect x="-130" y="0" width="260" height="250" fill="#a7a7a7"/><ellipse cx="0" cy="110" rx="52" ry="75" fill="#bcbcbc"/><ellipse cx="-22" cy="58" rx="18" ry="20" fill="#d9d9d9"/><ellipse cx="22" cy="58" rx="18" ry="20" fill="#d9d9d9"/><ellipse cx="-21" cy="57" rx="10" ry="12" fill="#f2f2f2"/><ellipse cx="21" cy="57" rx="10" ry="12" fill="#f2f2f2"/><ellipse cx="0" cy="100" rx="10" ry="40" fill="#c6c6c6"/><ellipse cx="-15" cy="118" rx="10" ry="10" fill="#d2d2d2"/><ellipse cx="15" cy="118" rx="10" ry="10" fill="#d2d2d2"/><ellipse cx="-86" cy="105" rx="14" ry="34" fill="#898989"/><ellipse cx="86" cy="105" rx="14" ry="34" fill="#898989"/><ellipse cx="-75" cy="58" rx="12" ry="12" fill="#8c8c8c"/><ellipse cx="75" cy="58" rx="12" ry="12" fill="#8c8c8c"/><ellipse cx="-62" cy="185" rx="18" ry="12" fill="#868686"/><ellipse cx="62" cy="185" rx="18" ry="12" fill="#868686"/><ellipse cx="-15" cy="160" rx="8" ry="12" fill="#b9b9b9"/><ellipse cx="15" cy="160" rx="8" ry="12" fill="#b9b9b9"/><use href="#bpath" fill="none" stroke="#808080" stroke-width="18"/></g></g><use href="#atlas" stroke="#ffffff" stroke-width="1.25" stroke-opacity="0.88"/></g><use href="#bpath" fill="none" stroke="#000" stroke-width="1.7"/></g><text x="891.6" y="652.6" font-size="38.3" text-anchor="middle" fill="#000">Response</text><g transform="translate(891.1,662)"><g clip-path="url(#bclip)"><g clip-path="url(#rtop)"><g filter="url(#hc6)"><rect x="-130" y="-40" width="260" height="120" fill="#939393"/><ellipse cx="-20" cy="18" rx="14" ry="12" fill="#999999"/><ellipse cx="20" cy="18" rx="14" ry="12" fill="#999999"/><use href="#bpath" fill="none" stroke="#868686" stroke-width="10"/></g></g><g clip-path="url(#rbot)"><g filter="url(#hc6)"><rect x="-130" y="0" width="260" height="250" fill="#a6a6a6"/><ellipse cx="0" cy="185" rx="50" ry="22" fill="#bcbcbc"/><ellipse cx="0" cy="100" rx="62" ry="60" fill="#ffffff"/><ellipse cx="-25" cy="60" rx="20" ry="16" fill="#ffffff"/><ellipse cx="25" cy="60" rx="20" ry="16" fill="#ffffff"/><ellipse cx="0" cy="105" rx="5" ry="45" fill="#dfdfdf"/><ellipse cx="-34" cy="178" rx="12" ry="10" fill="#c9c9c9"/><ellipse cx="34" cy="178" rx="12" ry="10" fill="#c9c9c9"/><ellipse cx="-55" cy="190" rx="16" ry="10" fill="#bcbcbc"/><ellipse cx="55" cy="190" rx="16" ry="10" fill="#bcbcbc"/><ellipse cx="-84" cy="112" rx="9" ry="24" fill="#9c9c9c"/><ellipse cx="84" cy="112" rx="9" ry="24" fill="#9c9c9c"/><use href="#bpath" fill="none" stroke="#808080" stroke-width="18"/></g></g><use href="#atlas" stroke="#ffffff" stroke-width="1.25" stroke-opacity="0.88"/></g><circle cx="-24" cy="56" r="12.5" fill="none" stroke="#000" stroke-width="3.6" stroke-dasharray="3.4 3.2"/><circle cx="24" cy="56" r="12.5" fill="none" stroke="#8fb34a" stroke-width="3.6" stroke-dasharray="3.4 3.2"/><circle cx="-41" cy="144" r="13" fill="none" stroke="#000" stroke-width="3.6" stroke-dasharray="3.4 3.2"/><circle cx="41" cy="144" r="13" fill="none" stroke="#8fb34a" stroke-width="3.6" stroke-dasharray="3.4 3.2"/><g clip-path="url(#bclip)"><circle cx="-89" cy="151" r="12" fill="none" stroke="#000" stroke-width="3.6" stroke-dasharray="3.4 3.2"/><circle cx="89" cy="151" r="12" fill="none" stroke="#8fb34a" stroke-width="3.6" stroke-dasharray="3.4 3.2"/></g><use href="#bpath" fill="none" stroke="#000" stroke-width="1.7"/></g><text x="56" y="1052.5" font-size="53" text-anchor="middle" fill="#f7941d" font-weight="bold" transform="rotate(-90 56 1052.5)">CStr</text><text x="117.8" y="1051" font-size="36.5" text-anchor="middle" fill="#000" transform="rotate(-90 117.8 1051)" textLength="153" lengthAdjust="spacingAndGlyphs">&#916;F/F (%)</text><rect x="142.7" y="1003.1" width="16.5" height="127" fill="url(#hc)" stroke="#000" stroke-width="3.4"/><text x="151" y="994" font-size="36.5" text-anchor="middle" fill="#000">2</text><text x="148" y="1166.5" font-size="36.5" text-anchor="middle" fill="#000">-2</text><text x="277" y="950.8" font-size="38.3" text-anchor="middle" fill="#000">Initiate</text><g transform="translate(276.5,960.2)"><g clip-path="url(#bclip)"><g clip-path="url(#rtop)"><g filter="url(#hc6)"><rect x="-130" y="-40" width="260" height="120" fill="#898989"/><ellipse cx="-15" cy="22" rx="12" ry="10" fill="#939393"/><ellipse cx="15" cy="22" rx="12" ry="10" fill="#939393"/><use href="#bpath" fill="none" stroke="#808080" stroke-width="10"/></g></g><g clip-path="url(#rbot)"><g filter="url(#hc6)"><rect x="-130" y="0" width="260" height="250" fill="#b1b1b1"/><ellipse cx="-48" cy="106" rx="24" ry="24" fill="#dcdcdc"/><ellipse cx="48" cy="106" rx="24" ry="24" fill="#dcdcdc"/><ellipse cx="-47" cy="108" rx="16" ry="18" fill="#f5f5f5"/><ellipse cx="47" cy="108" rx="16" ry="18" fill="#f5f5f5"/><ellipse cx="-54" cy="92" rx="11" ry="10" fill="#dfdfdf"/><ellipse cx="54" cy="92" rx="11" ry="10" fill="#dfdfdf"/><ellipse cx="-42" cy="80" rx="12" ry="10" fill="#c9c9c9"/><ellipse cx="42" cy="80" rx="12" ry="10" fill="#c9c9c9"/><ellipse cx="-25" cy="55" rx="14" ry="12" fill="#b9b9b9"/><ellipse cx="25" cy="55" rx="14" ry="12" fill="#b9b9b9"/><ellipse cx="-86" cy="112" rx="9" ry="20" fill="#969696"/><ellipse cx="86" cy="112" rx="9" ry="20" fill="#969696"/><ellipse cx="28" cy="145" rx="12" ry="10" fill="#c9c9c9"/><ellipse cx="-28" cy="145" rx="12" ry="9" fill="#bfbfbf"/><ellipse cx="-50" cy="186" rx="20" ry="10" fill="#b2b2b2"/><ellipse cx="50" cy="186" rx="20" ry="10" fill="#b2b2b2"/><ellipse cx="-15" cy="170" rx="8" ry="16" fill="#acacac"/><ellipse cx="15" cy="170" rx="8" ry="16" fill="#acacac"/><use href="#bpath" fill="none" stroke="#808080" stroke-width="16"/></g></g><use href="#atlas" stroke="#ffffff" stroke-width="1.25" stroke-opacity="0.88"/></g><circle cx="25" cy="56" r="12.5" fill="none" stroke="#fff" stroke-width="3.6" stroke-dasharray="3.4 3.2"/><circle cx="42" cy="144" r="13" fill="none" stroke="#fff" stroke-width="3.6" stroke-dasharray="3.4 3.2"/><g clip-path="url(#bclip)"><circle cx="89" cy="151" r="12" fill="none" stroke="#fff" stroke-width="3.6" stroke-dasharray="3.4 3.2"/></g><use href="#bpath" fill="none" stroke="#000" stroke-width="1.7"/></g><text x="483.2" y="950.8" font-size="38.3" text-anchor="middle" fill="#000">Stimulus</text><g transform="translate(482.7,960.2)"><g clip-path="url(#bclip)"><g clip-path="url(#rtop)"><g filter="url(#hc6)"><rect x="-130" y="-40" width="260" height="120" fill="#858585"/><use href="#bpath" fill="none" stroke="#808080" stroke-width="10"/></g></g><g clip-path="url(#rbot)"><g filter="url(#hc6)"><rect x="-130" y="0" width="260" height="250" fill="#adadad"/><ellipse cx="-44" cy="112" rx="20" ry="18" fill="#d2d2d2"/><ellipse cx="44" cy="112" rx="20" ry="18" fill="#d2d2d2"/><ellipse cx="-42" cy="115" rx="11" ry="10" fill="#dfdfdf"/><ellipse cx="40" cy="118" rx="18" ry="17" fill="#dcdcdc"/><ellipse cx="42" cy="122" rx="10" ry="10" fill="#e9e9e9"/><ellipse cx="-25" cy="60" rx="15" ry="13" fill="#b9b9b9"/><ellipse cx="25" cy="60" rx="15" ry="13" fill="#b9b9b9"/><ellipse cx="-86" cy="110" rx="9" ry="20" fill="#8f8f8f"/><ellipse cx="86" cy="110" rx="9" ry="20" fill="#8f8f8f"/><ellipse cx="-15" cy="170" rx="8" ry="16" fill="#999999"/><ellipse cx="15" cy="170" rx="8" ry="16" fill="#999999"/><ellipse cx="-50" cy="186" rx="20" ry="10" fill="#a9a9a9"/><ellipse cx="50" cy="186" rx="20" ry="10" fill="#a9a9a9"/><use href="#bpath" fill="none" stroke="#808080" stroke-width="16"/></g></g><use href="#atlas" stroke="#ffffff" stroke-width="1.25" stroke-opacity="0.88"/></g><use href="#bpath" fill="none" stroke="#000" stroke-width="1.7"/></g><text x="689.4" y="950.8" font-size="38.3" text-anchor="middle" fill="#000">Delay</text><g transform="translate(688.9,960.2)"><g clip-path="url(#bclip)"><g clip-path="url(#rtop)"><g filter="url(#hc6)"><rect x="-130" y="-40" width="260" height="120" fill="#838383"/><ellipse cx="-28" cy="10" rx="10" ry="8" fill="#707070"/><use href="#bpath" fill="none" stroke="#808080" stroke-width="10"/></g></g><g clip-path="url(#rbot)"><g filter="url(#hc6)"><rect x="-130" y="0" width="260" height="250" fill="#9e9e9e"/><ellipse cx="-55" cy="58" rx="22" ry="18" fill="#787878"/><ellipse cx="50" cy="62" rx="18" ry="15" fill="#737373"/><ellipse cx="-31" cy="72" rx="10" ry="9" fill="#999999"/><ellipse cx="22" cy="63" rx="10" ry="9" fill="#a3a3a3"/><ellipse cx="0" cy="105" rx="8" ry="25" fill="#868686"/><ellipse cx="7" cy="95" rx="5" ry="6" fill="#808080"/><ellipse cx="-45" cy="107" rx="15" ry="15" fill="#b2b2b2"/><ellipse cx="45" cy="107" rx="15" ry="15" fill="#b2b2b2"/><ellipse cx="-85" cy="100" rx="8" ry="12" fill="#a3a3a3"/><ellipse cx="85" cy="100" rx="8" ry="12" fill="#a3a3a3"/><ellipse cx="-74" cy="180" rx="22" ry="18" fill="#767676"/><ellipse cx="74" cy="180" rx="22" ry="18" fill="#767676"/><ellipse cx="66" cy="180" rx="18" ry="15" fill="#797979"/><ellipse cx="-15" cy="160" rx="8" ry="12" fill="#969696"/><ellipse cx="15" cy="160" rx="8" ry="12" fill="#969696"/><ellipse cx="-40" cy="150" rx="8" ry="8" fill="#a6a6a6"/><ellipse cx="40" cy="150" rx="8" ry="8" fill="#a6a6a6"/><use href="#bpath" fill="none" stroke="#808080" stroke-width="18"/></g></g><use href="#atlas" stroke="#ffffff" stroke-width="1.25" stroke-opacity="0.88"/></g><use href="#bpath" fill="none" stroke="#000" stroke-width="1.7"/></g><text x="895.6" y="950.8" font-size="38.3" text-anchor="middle" fill="#000">Response</text><g transform="translate(895.1,960.2)"><g clip-path="url(#bclip)"><g clip-path="url(#rtop)"><g filter="url(#hc6)"><rect x="-130" y="-40" width="260" height="120" fill="#898989"/><ellipse cx="-20" cy="22" rx="12" ry="10" fill="#939393"/><ellipse cx="20" cy="22" rx="12" ry="10" fill="#939393"/><use href="#bpath" fill="none" stroke="#808080" stroke-width="10"/></g></g><g clip-path="url(#rbot)"><g filter="url(#hc6)"><rect x="-130" y="0" width="260" height="250" fill="#adadad"/><ellipse cx="-25" cy="60" rx="12" ry="12" fill="#afafaf"/><ellipse cx="25" cy="60" rx="10" ry="10" fill="#acacac"/><ellipse cx="47" cy="60" rx="14" ry="13" fill="#808080"/><ellipse cx="-69" cy="65" rx="11" ry="10" fill="#999999"/><ellipse cx="69" cy="65" rx="11" ry="10" fill="#999999"/><ellipse cx="-56" cy="108" rx="30" ry="16" fill="#d9d9d9" transform="rotate(15 -56 108)"/><ellipse cx="-66" cy="104" rx="14" ry="13" fill="#f2f2f2"/><ellipse cx="-38" cy="117" rx="13" ry="12" fill="#dfdfdf"/><ellipse cx="55" cy="102" rx="30" ry="16" fill="#d9d9d9" transform="rotate(-15 55 102)"/><ellipse cx="58" cy="96" rx="14" ry="13" fill="#f2f2f2"/><ellipse cx="26" cy="116" rx="13" ry="12" fill="#d9d9d9"/><ellipse cx="-42" cy="141" rx="10" ry="9" fill="#cccccc"/><ellipse cx="42" cy="141" rx="10" ry="9" fill="#cccccc"/><ellipse cx="0" cy="100" rx="8" ry="20" fill="#b9b9b9"/><ellipse cx="-55" cy="186" rx="18" ry="10" fill="#afafaf"/><ellipse cx="55" cy="186" rx="18" ry="10" fill="#afafaf"/><ellipse cx="-86" cy="149" rx="7" ry="10" fill="#898989"/><ellipse cx="86" cy="149" rx="7" ry="10" fill="#898989"/><use href="#bpath" fill="none" stroke="#808080" stroke-width="16"/></g></g><use href="#atlas" stroke="#ffffff" stroke-width="1.25" stroke-opacity="0.88"/></g><circle cx="-24" cy="56" r="12.5" fill="none" stroke="#000" stroke-width="3.6" stroke-dasharray="3.4 3.2"/><circle cx="24" cy="56" r="12.5" fill="none" stroke="#8fb34a" stroke-width="3.6" stroke-dasharray="3.4 3.2"/><circle cx="-41" cy="144" r="13" fill="none" stroke="#000" stroke-width="3.6" stroke-dasharray="3.4 3.2"/><circle cx="41" cy="144" r="13" fill="none" stroke="#8fb34a" stroke-width="3.6" stroke-dasharray="3.4 3.2"/><g clip-path="url(#bclip)"><circle cx="-89" cy="151" r="12" fill="none" stroke="#000" stroke-width="3.6" stroke-dasharray="3.4 3.2"/><circle cx="89" cy="151" r="12" fill="none" stroke="#8fb34a" stroke-width="3.6" stroke-dasharray="3.4 3.2"/></g><use href="#bpath" fill="none" stroke="#000" stroke-width="1.7"/></g><text x="1052" y="55.5" font-size="76" text-anchor="start" fill="#000" font-weight="bold">b</text><text x="1289" y="43.5" font-size="45.8" text-anchor="middle" fill="#000">Auditory</text><text x="1287.5" y="91.7" font-size="38.8" text-anchor="middle" fill="#8a8a8a">Stimulus</text><text x="1611.5" y="43.5" font-size="45.8" text-anchor="middle" fill="#000">Parietal</text><text x="1620.5" y="91.7" font-size="38.8" text-anchor="middle" fill="#8a8a8a">Stimulus</text><text x="1953" y="43.5" font-size="45.8" text-anchor="middle" fill="#000">Frontal</text><text x="1950.5" y="91.7" font-size="38.8" text-anchor="middle" fill="#8a8a8a">Stimulus</text><rect x="1260.4" y="103" width="65" height="173" fill="#e0e0e0"/><line x1="1214.4" y1="106" x2="1214.4" y2="276" stroke="#c0c0c0" stroke-width="3.1" stroke-dasharray="6 9.8"/><line x1="1363.4" y1="106" x2="1363.4" y2="276" stroke="#c0c0c0" stroke-width="3.1" stroke-dasharray="6 9.8"/><line x1="1153.4" y1="210.4" x2="1417.4" y2="210.4" stroke="#c0c0c0" stroke-width="2.9" stroke-dasharray="6.5 8"/><path d="M1156.8,212.25 C1158.45,211.35 1160.62,209.78 1166.7,206.87 C1172.78,203.96 1187.1,198.57 1193.3,194.78 C1199.5,190.98 1200.88,186.47 1203.9,184.08 C1206.92,181.7 1209.18,182.21 1211.4,180.45 C1213.62,178.68 1214.92,173.22 1217.2,173.48 C1219.48,173.74 1222,175.49 1225.1,182.01 C1228.2,188.52 1232.25,203.01 1235.8,212.58 C1239.35,222.16 1243.63,233.53 1246.4,239.46 C1249.17,245.4 1251.4,246.74 1252.4,248.2 L1252.4,263.32 C1251.4,261.86 1249.17,260.52 1246.4,254.58 C1243.63,248.65 1239.35,237.28 1235.8,227.7 C1232.25,218.13 1228.2,204.16 1225.1,197.13 C1222,190.09 1219.48,186.69 1217.2,185.49 C1214.92,184.3 1213.62,189.14 1211.4,189.95 C1209.18,190.76 1206.92,189.04 1203.9,190.35 C1200.88,191.66 1199.5,194.54 1193.3,197.8 C1187.1,201.06 1172.78,206.98 1166.7,209.9 C1160.62,212.81 1158.45,214.38 1156.8,215.27Z" fill="#555" fill-opacity="0.6"/><path d="M1260.4,212.92 C1262.15,216.84 1267.37,229.72 1270.9,236.44 C1274.43,243.16 1278.05,251.11 1281.6,253.24 C1285.15,255.37 1288.23,251.45 1292.2,249.21 C1296.17,246.97 1301.42,243.61 1305.4,239.8 C1309.38,235.99 1312.87,231.12 1316.1,226.36 C1319.33,221.6 1323.35,213.76 1324.8,211.24 L1324.8,226.36 C1323.35,228.88 1319.33,236.72 1316.1,241.48 C1312.87,246.24 1309.38,251.11 1305.4,254.92 C1301.42,258.73 1296.17,262.09 1292.2,264.33 C1288.23,266.57 1285.15,270.49 1281.6,268.36 C1278.05,266.23 1274.43,258.28 1270.9,251.56 C1267.37,244.84 1262.15,231.96 1260.4,228.04Z" fill="#555" fill-opacity="0.6"/><path d="M1333.3,199.48 C1335.3,196.68 1341.53,188.17 1345.3,182.68 C1349.07,177.19 1354.13,169.24 1355.9,166.55 L1355.9,181.67 C1354.13,184.36 1349.07,192.31 1345.3,197.8 C1341.53,203.29 1335.3,211.8 1333.3,214.6Z" fill="#555" fill-opacity="0.6"/><path d="M1362.5,157.65 C1363.62,150.26 1366.32,117.33 1369.2,113.3 C1372.08,109.26 1376.27,124.78 1379.8,133.46 C1383.33,142.14 1386.87,155.86 1390.4,165.38 C1393.93,174.9 1396.7,183.91 1401,190.58 C1405.3,197.24 1413.67,202.9 1416.2,205.36 L1416.2,224.85 C1413.67,222.38 1405.3,216.73 1401,210.06 C1396.7,203.4 1393.93,194.38 1390.4,184.86 C1386.87,175.34 1383.33,161.62 1379.8,152.94 C1376.27,144.26 1372.08,128.75 1369.2,132.78 C1366.32,136.82 1363.62,169.74 1362.5,177.14Z" fill="#555" fill-opacity="0.6"/><path d="M1156.8,212.51 C1158.45,211.61 1160.62,210.05 1166.7,207.13 C1172.78,204.22 1187.1,198.79 1193.3,195.04 C1199.5,191.29 1201.25,186.13 1203.9,184.63 C1206.55,183.13 1206.98,187.32 1209.2,186.03 C1211.42,184.74 1214.55,177.1 1217.2,176.88 C1219.85,176.65 1222,178.49 1225.1,184.66 C1228.2,190.83 1232.25,204.54 1235.8,213.89 C1239.35,223.25 1243.63,235.12 1246.4,240.77 C1249.17,246.43 1251.4,246.65 1252.4,247.83 L1252.4,260.33 C1251.4,259.15 1249.17,258.93 1246.4,253.27 C1243.63,247.62 1239.35,235.75 1235.8,226.39 C1232.25,217.04 1228.2,203.76 1225.1,197.16 C1222,190.56 1219.85,187.48 1217.2,186.8 C1214.55,186.13 1211.42,192.6 1209.2,193.1 C1206.98,193.6 1206.55,189.07 1203.9,189.81 C1201.25,190.54 1199.5,194.23 1193.3,197.54 C1187.1,200.84 1172.78,206.72 1166.7,209.63 C1160.62,212.55 1158.45,214.11 1156.8,215.01Z" fill="#3dbb78" fill-opacity="0.65"/><path d="M1260.4,217.46 C1262.15,220.98 1267.37,232.74 1270.9,238.62 C1274.43,244.5 1278.05,251.06 1281.6,252.74 C1285.15,254.42 1288.23,251.06 1292.2,248.7 C1296.17,246.35 1301.42,242.94 1305.4,238.62 C1309.38,234.31 1312.87,228.1 1316.1,222.83 C1319.33,217.57 1323.35,209.67 1324.8,207.04 L1324.8,217.79 C1323.35,220.42 1319.33,228.32 1316.1,233.58 C1312.87,238.85 1309.38,245.06 1305.4,249.38 C1301.42,253.69 1296.17,257.1 1292.2,259.46 C1288.23,261.81 1285.15,265.17 1281.6,263.49 C1278.05,261.81 1274.43,255.26 1270.9,249.38 C1267.37,243.5 1262.15,231.74 1260.4,228.21Z" fill="#3dbb78" fill-opacity="0.65"/><path d="M1333.3,201.16 C1335.3,198.64 1341.53,190.52 1345.3,186.04 C1349.07,181.56 1354.13,176.24 1355.9,174.28 L1355.9,189.4 C1354.13,191.36 1349.07,196.68 1345.3,201.16 C1341.53,205.64 1335.3,213.76 1333.3,216.28Z" fill="#3dbb78" fill-opacity="0.65"/><path d="M1362.5,157.65 C1363.62,151.1 1366.32,122.37 1369.2,118.34 C1372.08,114.3 1376.27,127.3 1379.8,133.46 C1383.33,139.62 1386.87,148.3 1390.4,155.3 C1393.93,162.3 1396.7,168.85 1401,175.46 C1405.3,182.06 1413.67,191.7 1416.2,194.94 L1416.2,214.43 C1413.67,211.18 1405.3,201.55 1401,194.94 C1396.7,188.34 1393.93,181.78 1390.4,174.78 C1386.87,167.78 1383.33,159.1 1379.8,152.94 C1376.27,146.78 1372.08,133.79 1369.2,137.82 C1366.32,141.86 1363.62,170.58 1362.5,177.14Z" fill="#3dbb78" fill-opacity="0.65"/><path d="M1156.8,213.76 C1158.45,212.86 1160.62,211.3 1166.7,208.38 C1172.78,205.47 1187.1,199.82 1193.3,196.29 C1199.5,192.76 1200.88,189.06 1203.9,187.22 C1206.92,185.37 1209.18,186.49 1211.4,185.2 C1213.62,183.91 1214.92,178.76 1217.2,179.49 C1219.48,180.22 1222,182.79 1225.1,189.57 C1228.2,196.34 1232.25,210.57 1235.8,220.14 C1239.35,229.72 1243.63,241.09 1246.4,247.02 C1249.17,252.96 1251.4,254.3 1252.4,255.76" fill="none" stroke="#000" stroke-width="3.8" stroke-linejoin="round"/><path d="M1260.4,220.48 C1262.15,224.4 1267.37,237.28 1270.9,244 C1274.43,250.72 1278.05,258.67 1281.6,260.8 C1285.15,262.93 1288.23,259.01 1292.2,256.77 C1296.17,254.53 1301.42,251.17 1305.4,247.36 C1309.38,243.55 1312.87,238.68 1316.1,233.92 C1319.33,229.16 1323.35,221.32 1324.8,218.8" fill="none" stroke="#000" stroke-width="3.8" stroke-linejoin="round"/><path d="M1333.3,207.04 C1335.3,204.24 1341.53,195.73 1345.3,190.24 C1349.07,184.75 1354.13,176.8 1355.9,174.11" fill="none" stroke="#000" stroke-width="3.8" stroke-linejoin="round"/><path d="M1362.5,167.39 C1363.62,160 1366.32,127.07 1369.2,123.04 C1372.08,119.01 1376.27,134.52 1379.8,143.2 C1383.33,151.88 1386.87,165.6 1390.4,175.12 C1393.93,184.64 1396.7,193.66 1401,200.32 C1405.3,206.98 1413.67,212.64 1416.2,215.1" fill="none" stroke="#000" stroke-width="3.8" stroke-linejoin="round"/><path d="M1156.8,213.76 C1158.45,212.86 1160.62,211.3 1166.7,208.38 C1172.78,205.47 1187.1,199.82 1193.3,196.29 C1199.5,192.76 1201.25,188.34 1203.9,187.22 C1206.55,186.1 1206.98,190.46 1209.2,189.57 C1211.42,188.67 1214.55,181.62 1217.2,181.84 C1219.85,182.06 1222,184.53 1225.1,190.91 C1228.2,197.3 1232.25,210.79 1235.8,220.14 C1239.35,229.5 1243.63,241.37 1246.4,247.02 C1249.17,252.68 1251.4,252.9 1252.4,254.08" fill="none" stroke="#14a058" stroke-width="4" stroke-linejoin="round"/><path d="M1260.4,222.83 C1262.15,226.36 1267.37,238.12 1270.9,244 C1274.43,249.88 1278.05,256.43 1281.6,258.11 C1285.15,259.79 1288.23,256.43 1292.2,254.08 C1296.17,251.73 1301.42,248.31 1305.4,244 C1309.38,239.69 1312.87,233.47 1316.1,228.21 C1319.33,222.94 1323.35,215.05 1324.8,212.42" fill="none" stroke="#14a058" stroke-width="4" stroke-linejoin="round"/><path d="M1333.3,208.72 C1335.3,206.2 1341.53,198.08 1345.3,193.6 C1349.07,189.12 1354.13,183.8 1355.9,181.84" fill="none" stroke="#14a058" stroke-width="4" stroke-linejoin="round"/><path d="M1362.5,167.39 C1363.62,160.84 1366.32,132.11 1369.2,128.08 C1372.08,124.05 1376.27,137.04 1379.8,143.2 C1383.33,149.36 1386.87,158.04 1390.4,165.04 C1393.93,172.04 1396.7,178.59 1401,185.2 C1405.3,191.81 1413.67,201.44 1416.2,204.69" fill="none" stroke="#14a058" stroke-width="4" stroke-linejoin="round"/><rect x="1591.4" y="103" width="65" height="173" fill="#e0e0e0"/><line x1="1545.4" y1="106" x2="1545.4" y2="276" stroke="#c0c0c0" stroke-width="3.1" stroke-dasharray="6 9.8"/><line x1="1694.4" y1="106" x2="1694.4" y2="276" stroke="#c0c0c0" stroke-width="3.1" stroke-dasharray="6 9.8"/><line x1="1484.4" y1="210.4" x2="1748.4" y2="210.4" stroke="#c0c0c0" stroke-width="2.9" stroke-dasharray="6.5 8"/><path d="M1487.9,214.03 C1489.45,213.41 1493.75,211.9 1497.2,210.33 C1500.65,208.76 1504.32,206.75 1508.6,204.62 C1512.88,202.49 1518.62,200.37 1522.9,197.56 C1527.18,194.76 1530.97,192.25 1534.3,187.77 C1537.63,183.28 1540.28,176.04 1542.9,170.66 C1545.52,165.27 1547.62,156.45 1550,155.45 C1552.38,154.46 1555.05,159.86 1557.2,164.7 C1559.35,169.55 1561,177.64 1562.9,184.53 C1564.8,191.42 1566.7,199.82 1568.6,206.03 C1570.5,212.25 1571.92,216.11 1574.3,221.82 C1576.68,227.54 1581.47,237.22 1582.9,240.3 L1582.9,251.06 C1581.47,247.98 1576.68,238.29 1574.3,232.58 C1571.92,226.86 1570.5,223 1568.6,216.78 C1566.7,210.57 1564.8,202.17 1562.9,195.28 C1561,188.39 1559.35,180.58 1557.2,175.46 C1555.05,170.33 1552.38,164.19 1550,164.55 C1547.62,164.9 1545.52,172.99 1542.9,177.57 C1540.28,182.15 1537.63,188.35 1534.3,192.04 C1530.97,195.73 1527.18,197.26 1522.9,199.72 C1518.62,202.17 1512.88,204.64 1508.6,206.77 C1504.32,208.9 1500.65,210.92 1497.2,212.48 C1493.75,214.05 1489.45,215.56 1487.9,216.18Z" fill="#555" fill-opacity="0.6"/><path d="M1591.5,218.3 C1592.68,219.7 1596.22,223.62 1598.6,226.7 C1600.98,229.78 1603.42,233.19 1605.8,236.78 C1608.18,240.36 1610.05,246.8 1612.9,248.2 C1615.75,249.6 1619.8,246.86 1622.9,245.18 C1626,243.5 1628.4,240.98 1631.5,238.12 C1634.6,235.26 1638.63,231.12 1641.5,228.04 C1644.37,224.96 1646.43,222.44 1648.7,219.64 C1650.97,216.84 1654.03,212.64 1655.1,211.24 L1655.1,226.36 C1654.03,227.76 1650.97,231.96 1648.7,234.76 C1646.43,237.56 1644.37,240.08 1641.5,243.16 C1638.63,246.24 1634.6,250.38 1631.5,253.24 C1628.4,256.1 1626,258.62 1622.9,260.3 C1619.8,261.98 1615.75,264.72 1612.9,263.32 C1610.05,261.92 1608.18,255.48 1605.8,251.9 C1603.42,248.31 1600.98,244.9 1598.6,241.82 C1596.22,238.74 1592.68,234.82 1591.5,233.42Z" fill="#555" fill-opacity="0.6"/><path d="M1663.7,213.96 C1665,211.83 1668.77,205 1671.5,201.19 C1674.23,197.39 1677.72,193.97 1680.1,191.11 C1682.48,188.26 1684.85,185.23 1685.8,184.06 L1685.8,201.8 C1684.85,202.97 1682.48,206 1680.1,208.85 C1677.72,211.71 1674.23,215.13 1671.5,218.93 C1668.77,222.74 1665,229.57 1663.7,231.7Z" fill="#555" fill-opacity="0.6"/><path d="M1693,180.97 C1693.95,175.03 1696.8,154.37 1698.7,145.35 C1700.6,136.33 1702.25,127.15 1704.4,126.87 C1706.55,126.59 1708.98,137.23 1711.6,143.67 C1714.22,150.11 1716.77,159.91 1720.1,165.51 C1723.43,171.11 1727.07,173.07 1731.6,177.27 C1736.13,181.47 1744.68,188.47 1747.3,190.71 L1747.3,203.21 C1744.68,200.97 1736.13,193.97 1731.6,189.77 C1727.07,185.57 1723.43,183.61 1720.1,178.01 C1716.77,172.41 1714.22,162.61 1711.6,156.17 C1708.98,149.73 1706.55,139.09 1704.4,139.37 C1702.25,139.65 1700.6,148.83 1698.7,157.85 C1696.8,166.87 1693.95,187.53 1693,193.47Z" fill="#555" fill-opacity="0.6"/><path d="M1487.9,214.03 C1489.45,213.41 1493.75,211.9 1497.2,210.33 C1500.65,208.76 1504.32,206.75 1508.6,204.62 C1512.88,202.49 1518.62,200.37 1522.9,197.56 C1527.18,194.76 1530.97,191.97 1534.3,187.77 C1537.63,183.56 1540.28,177.16 1542.9,172.34 C1545.52,167.51 1547.62,160.09 1550,158.81 C1552.38,157.54 1555.05,160.42 1557.2,164.7 C1559.35,168.99 1561,177.64 1562.9,184.53 C1564.8,191.42 1566.7,199.82 1568.6,206.03 C1570.5,212.25 1571.92,216.45 1574.3,221.82 C1576.68,227.2 1581.47,235.54 1582.9,238.29 L1582.9,249.04 C1581.47,246.3 1576.68,237.95 1574.3,232.58 C1571.92,227.2 1570.5,223 1568.6,216.78 C1566.7,210.57 1564.8,202.17 1562.9,195.28 C1561,188.39 1559.35,180.02 1557.2,175.46 C1555.05,170.89 1552.38,167.27 1550,167.91 C1547.62,168.54 1545.52,175.23 1542.9,179.25 C1540.28,183.27 1537.63,188.63 1534.3,192.04 C1530.97,195.45 1527.18,197.26 1522.9,199.72 C1518.62,202.17 1512.88,204.64 1508.6,206.77 C1504.32,208.9 1500.65,210.92 1497.2,212.48 C1493.75,214.05 1489.45,215.56 1487.9,216.18Z" fill="#3dbb78" fill-opacity="0.65"/><path d="M1591.5,220.48 C1592.68,221.88 1596.22,225.8 1598.6,228.88 C1600.98,231.96 1603.42,235.38 1605.8,238.96 C1608.18,242.54 1610.05,248.82 1612.9,250.38 C1615.75,251.95 1619.8,249.54 1622.9,248.37 C1626,247.19 1628.4,245.74 1631.5,243.33 C1634.6,240.92 1638.63,236.83 1641.5,233.92 C1644.37,231.01 1646.43,228.54 1648.7,225.86 C1650.97,223.17 1654.03,219.14 1655.1,217.79 L1655.1,228.54 C1654.03,229.89 1650.97,233.92 1648.7,236.61 C1646.43,239.3 1644.37,241.76 1641.5,244.67 C1638.63,247.58 1634.6,251.67 1631.5,254.08 C1628.4,256.49 1626,257.94 1622.9,259.12 C1619.8,260.3 1615.75,262.7 1612.9,261.14 C1610.05,259.57 1608.18,253.3 1605.8,249.71 C1603.42,246.13 1600.98,242.71 1598.6,239.63 C1596.22,236.55 1592.68,232.63 1591.5,231.23Z" fill="#3dbb78" fill-opacity="0.65"/><path d="M1663.7,216.58 C1665,214.45 1668.77,207.62 1671.5,203.81 C1674.23,200.01 1677.72,196.59 1680.1,193.73 C1682.48,190.88 1684.85,187.85 1685.8,186.68 L1685.8,199.18 C1684.85,200.35 1682.48,203.38 1680.1,206.23 C1677.72,209.09 1674.23,212.51 1671.5,216.31 C1668.77,220.12 1665,226.95 1663.7,229.08Z" fill="#3dbb78" fill-opacity="0.65"/><path d="M1693,179.66 C1693.95,174.17 1696.8,154.9 1698.7,146.73 C1700.6,138.55 1702.25,131.33 1704.4,130.6 C1706.55,129.87 1708.98,137.32 1711.6,142.36 C1714.22,147.4 1716.77,155.8 1720.1,160.84 C1723.43,165.88 1727.07,168.12 1731.6,172.6 C1736.13,177.08 1744.68,185.2 1747.3,187.72 L1747.3,202.84 C1744.68,200.32 1736.13,192.2 1731.6,187.72 C1727.07,183.24 1723.43,181 1720.1,175.96 C1716.77,170.92 1714.22,162.52 1711.6,157.48 C1708.98,152.44 1706.55,144.99 1704.4,145.72 C1702.25,146.45 1700.6,153.67 1698.7,161.85 C1696.8,170.02 1693.95,189.29 1693,194.78Z" fill="#3dbb78" fill-opacity="0.65"/><path d="M1487.9,215.1 C1489.45,214.49 1493.75,212.98 1497.2,211.41 C1500.65,209.84 1504.32,207.82 1508.6,205.7 C1512.88,203.57 1518.62,201.27 1522.9,198.64 C1527.18,196.01 1530.97,193.99 1534.3,189.9 C1537.63,185.82 1540.28,179.1 1542.9,174.11 C1545.52,169.13 1547.62,160.67 1550,160 C1552.38,159.33 1555.05,165.1 1557.2,170.08 C1559.35,175.06 1561,183.02 1562.9,189.9 C1564.8,196.79 1566.7,205.19 1568.6,211.41 C1570.5,217.62 1571.92,221.49 1574.3,227.2 C1576.68,232.91 1581.47,242.6 1582.9,245.68" fill="none" stroke="#000" stroke-width="3.8" stroke-linejoin="round"/><path d="M1591.5,225.86 C1592.68,227.26 1596.22,231.18 1598.6,234.26 C1600.98,237.34 1603.42,240.75 1605.8,244.34 C1608.18,247.92 1610.05,254.36 1612.9,255.76 C1615.75,257.16 1619.8,254.42 1622.9,252.74 C1626,251.06 1628.4,248.54 1631.5,245.68 C1634.6,242.82 1638.63,238.68 1641.5,235.6 C1644.37,232.52 1646.43,230 1648.7,227.2 C1650.97,224.4 1654.03,220.2 1655.1,218.8" fill="none" stroke="#000" stroke-width="3.8" stroke-linejoin="round"/><path d="M1663.7,222.83 C1665,220.7 1668.77,213.87 1671.5,210.06 C1674.23,206.26 1677.72,202.84 1680.1,199.98 C1682.48,197.13 1684.85,194.1 1685.8,192.93" fill="none" stroke="#000" stroke-width="3.8" stroke-linejoin="round"/><path d="M1693,187.22 C1693.95,181.28 1696.8,160.62 1698.7,151.6 C1700.6,142.58 1702.25,133.4 1704.4,133.12 C1706.55,132.84 1708.98,143.48 1711.6,149.92 C1714.22,156.36 1716.77,166.16 1720.1,171.76 C1723.43,177.36 1727.07,179.32 1731.6,183.52 C1736.13,187.72 1744.68,194.72 1747.3,196.96" fill="none" stroke="#000" stroke-width="3.8" stroke-linejoin="round"/><path d="M1487.9,215.1 C1489.45,214.49 1493.75,212.98 1497.2,211.41 C1500.65,209.84 1504.32,207.82 1508.6,205.7 C1512.88,203.57 1518.62,201.27 1522.9,198.64 C1527.18,196.01 1530.97,193.71 1534.3,189.9 C1537.63,186.1 1540.28,180.22 1542.9,175.79 C1545.52,171.37 1547.62,164.31 1550,163.36 C1552.38,162.41 1555.05,165.66 1557.2,170.08 C1559.35,174.5 1561,183.02 1562.9,189.9 C1564.8,196.79 1566.7,205.19 1568.6,211.41 C1570.5,217.62 1571.92,221.82 1574.3,227.2 C1576.68,232.58 1581.47,240.92 1582.9,243.66" fill="none" stroke="#14a058" stroke-width="4" stroke-linejoin="round"/><path d="M1591.5,225.86 C1592.68,227.26 1596.22,231.18 1598.6,234.26 C1600.98,237.34 1603.42,240.75 1605.8,244.34 C1608.18,247.92 1610.05,254.19 1612.9,255.76 C1615.75,257.33 1619.8,254.92 1622.9,253.74 C1626,252.57 1628.4,251.11 1631.5,248.7 C1634.6,246.3 1638.63,242.21 1641.5,239.3 C1644.37,236.38 1646.43,233.92 1648.7,231.23 C1650.97,228.54 1654.03,224.51 1655.1,223.17" fill="none" stroke="#14a058" stroke-width="4" stroke-linejoin="round"/><path d="M1663.7,222.83 C1665,220.7 1668.77,213.87 1671.5,210.06 C1674.23,206.26 1677.72,202.84 1680.1,199.98 C1682.48,197.13 1684.85,194.1 1685.8,192.93" fill="none" stroke="#14a058" stroke-width="4" stroke-linejoin="round"/><path d="M1693,187.22 C1693.95,181.73 1696.8,162.46 1698.7,154.29 C1700.6,146.11 1702.25,138.89 1704.4,138.16 C1706.55,137.43 1708.98,144.88 1711.6,149.92 C1714.22,154.96 1716.77,163.36 1720.1,168.4 C1723.43,173.44 1727.07,175.68 1731.6,180.16 C1736.13,184.64 1744.68,192.76 1747.3,195.28" fill="none" stroke="#14a058" stroke-width="4" stroke-linejoin="round"/><rect x="1922.4" y="103" width="65" height="173" fill="#e0e0e0"/><line x1="1876.4" y1="106" x2="1876.4" y2="276" stroke="#c0c0c0" stroke-width="3.1" stroke-dasharray="6 9.8"/><line x1="2025.4" y1="106" x2="2025.4" y2="276" stroke="#c0c0c0" stroke-width="3.1" stroke-dasharray="6 9.8"/><line x1="1815.4" y1="210.4" x2="2079.4" y2="210.4" stroke="#c0c0c0" stroke-width="2.9" stroke-dasharray="6.5 8"/><path d="M1818.6,213.18 C1821.45,212.01 1830.47,208.37 1835.7,206.13 C1840.93,203.89 1845.47,202.28 1850,199.74 C1854.53,197.2 1859.57,193.74 1862.9,190.87 C1866.23,188.01 1867.62,185.38 1870,182.55 C1872.38,179.72 1874.57,174.85 1877.2,173.87 C1879.83,172.9 1883.18,174.07 1885.8,176.71 C1888.42,179.34 1890.05,184.46 1892.9,189.7 C1895.75,194.95 1899.57,202.97 1902.9,208.18 C1906.23,213.39 1911.23,218.82 1912.9,220.95 L1912.9,233.45 C1911.23,231.32 1906.23,225.89 1902.9,220.68 C1899.57,215.47 1895.75,207.48 1892.9,202.2 C1890.05,196.92 1888.42,192.18 1885.8,188.99 C1883.18,185.8 1879.83,183.05 1877.2,183.09 C1874.57,183.12 1872.38,187.21 1870,189.19 C1867.62,191.18 1866.23,192.81 1862.9,194.98 C1859.57,197.16 1854.53,199.97 1850,202.24 C1845.47,204.52 1840.93,206.39 1835.7,208.63 C1830.47,210.87 1821.45,214.51 1818.6,215.68Z" fill="#555" fill-opacity="0.6"/><path d="M1921.5,206.87 C1922.22,206.09 1924.13,202.28 1925.8,202.17 C1927.47,202.06 1929.12,204.3 1931.5,206.2 C1933.88,208.1 1936.77,212.02 1940.1,213.59 C1943.43,215.16 1947.93,215.83 1951.5,215.61 C1955.07,215.38 1958.17,213.82 1961.5,212.25 C1964.83,210.68 1967.45,208.44 1971.5,206.2 C1975.55,203.96 1983.42,200.04 1985.8,198.81 L1985.8,213.93 C1983.42,215.16 1975.55,219.08 1971.5,221.32 C1967.45,223.56 1964.83,225.8 1961.5,227.37 C1958.17,228.94 1955.07,230.5 1951.5,230.73 C1947.93,230.95 1943.43,230.28 1940.1,228.71 C1936.77,227.14 1933.88,223.22 1931.5,221.32 C1929.12,219.42 1927.47,217.18 1925.8,217.29 C1924.13,217.4 1922.22,221.21 1921.5,221.99Z" fill="#555" fill-opacity="0.6"/><path d="M1994.4,199.11 C1996.3,196.87 2001.98,189.87 2005.8,185.67 C2009.62,181.47 2015.38,175.87 2017.3,173.91 L2017.3,186.41 C2015.38,188.37 2009.62,193.97 2005.8,198.17 C2001.98,202.37 1996.3,209.37 1994.4,211.61Z" fill="#555" fill-opacity="0.6"/><path d="M2024.4,167.19 C2025.12,158.79 2027.27,127.15 2028.7,116.79 C2030.13,106.43 2030.62,105.59 2033,105.03 C2035.38,104.47 2039.9,109.51 2043,113.43 C2046.1,117.35 2048.03,122.67 2051.6,128.55 C2055.17,134.43 2059.88,143.39 2064.4,148.71 C2068.92,154.03 2076.32,158.51 2078.7,160.47 L2078.7,172.97 C2076.32,171.01 2068.92,166.53 2064.4,161.21 C2059.88,155.89 2055.17,146.93 2051.6,141.05 C2048.03,135.17 2046.1,129.85 2043,125.93 C2039.9,122.01 2035.38,116.97 2033,117.53 C2030.62,118.09 2030.13,118.93 2028.7,129.29 C2027.27,139.65 2025.12,171.29 2024.4,179.69Z" fill="#555" fill-opacity="0.6"/><path d="M1818.6,213.36 C1821.45,212.18 1830.47,208.54 1835.7,206.3 C1840.93,204.06 1845.47,202.44 1850,199.92 C1854.53,197.39 1859.57,193.98 1862.9,191.16 C1866.23,188.34 1867.62,185.79 1870,183.02 C1872.38,180.24 1874.57,175.43 1877.2,174.52 C1879.83,173.61 1883.18,174.89 1885.8,177.56 C1888.42,180.24 1890.05,185.33 1892.9,190.58 C1895.75,195.82 1899.57,203.85 1902.9,209.06 C1906.23,214.26 1911.23,219.7 1912.9,221.82 L1912.9,232.58 C1911.23,230.45 1906.23,225.02 1902.9,219.81 C1899.57,214.6 1895.75,206.61 1892.9,201.33 C1890.05,196.05 1888.42,191.28 1885.8,188.13 C1883.18,184.98 1879.83,182.34 1877.2,182.44 C1874.57,182.54 1872.38,186.69 1870,188.73 C1867.62,190.77 1866.23,192.47 1862.9,194.69 C1859.57,196.92 1854.53,199.77 1850,202.07 C1845.47,204.36 1840.93,206.21 1835.7,208.45 C1830.47,210.69 1821.45,214.33 1818.6,215.51Z" fill="#3dbb78" fill-opacity="0.65"/><path d="M1921.5,210.87 C1922.22,210.2 1924.13,206.84 1925.8,206.84 C1927.47,206.84 1929.12,209.08 1931.5,210.87 C1933.88,212.66 1936.77,216.02 1940.1,217.59 C1943.43,219.16 1947.93,220.28 1951.5,220.28 C1955.07,220.28 1958.17,219.05 1961.5,217.59 C1964.83,216.13 1967.45,213.56 1971.5,211.54 C1975.55,209.53 1983.42,206.5 1985.8,205.49 L1985.8,217.99 C1983.42,219 1975.55,222.03 1971.5,224.04 C1967.45,226.06 1964.83,228.63 1961.5,230.09 C1958.17,231.55 1955.07,232.78 1951.5,232.78 C1947.93,232.78 1943.43,231.66 1940.1,230.09 C1936.77,228.52 1933.88,225.16 1931.5,223.37 C1929.12,221.58 1927.47,219.34 1925.8,219.34 C1924.13,219.34 1922.22,222.7 1921.5,223.37Z" fill="#3dbb78" fill-opacity="0.65"/><path d="M1994.4,201.46 C1996.3,199.56 2001.98,193.96 2005.8,190.04 C2009.62,186.12 2015.38,179.96 2017.3,177.94 L2017.3,190.44 C2015.38,192.46 2009.62,198.62 2005.8,202.54 C2001.98,206.46 1996.3,212.06 1994.4,213.96Z" fill="#3dbb78" fill-opacity="0.65"/><path d="M2024.4,167.19 C2025.12,158.79 2027.27,126.98 2028.7,116.79 C2030.13,106.6 2030.62,106.32 2033,106.04 C2035.38,105.76 2039.9,110.97 2043,115.11 C2046.1,119.25 2048.03,124.46 2051.6,130.9 C2055.17,137.34 2059.88,147.98 2064.4,153.75 C2068.92,159.52 2076.32,163.55 2078.7,165.51 L2078.7,178.01 C2076.32,176.05 2068.92,172.02 2064.4,166.25 C2059.88,160.48 2055.17,149.84 2051.6,143.4 C2048.03,136.96 2046.1,131.75 2043,127.61 C2039.9,123.47 2035.38,118.26 2033,118.54 C2030.62,118.82 2030.13,119.1 2028.7,129.29 C2027.27,139.48 2025.12,171.29 2024.4,179.69Z" fill="#3dbb78" fill-opacity="0.65"/><path d="M1818.6,214.43 C1821.45,213.26 1830.47,209.62 1835.7,207.38 C1840.93,205.14 1845.47,203.4 1850,200.99 C1854.53,198.58 1859.57,195.45 1862.9,192.93 C1866.23,190.41 1867.62,188.28 1870,185.87 C1872.38,183.46 1874.57,178.98 1877.2,178.48 C1879.83,177.98 1883.18,179.94 1885.8,182.85 C1888.42,185.76 1890.05,190.69 1892.9,195.95 C1895.75,201.22 1899.57,209.22 1902.9,214.43 C1906.23,219.64 1911.23,225.07 1912.9,227.2" fill="none" stroke="#000" stroke-width="3.8" stroke-linejoin="round"/><path d="M1921.5,214.43 C1922.22,213.65 1924.13,209.84 1925.8,209.73 C1927.47,209.62 1929.12,211.86 1931.5,213.76 C1933.88,215.66 1936.77,219.58 1940.1,221.15 C1943.43,222.72 1947.93,223.39 1951.5,223.17 C1955.07,222.94 1958.17,221.38 1961.5,219.81 C1964.83,218.24 1967.45,216 1971.5,213.76 C1975.55,211.52 1983.42,207.6 1985.8,206.37" fill="none" stroke="#000" stroke-width="3.8" stroke-linejoin="round"/><path d="M1994.4,205.36 C1996.3,203.12 2001.98,196.12 2005.8,191.92 C2009.62,187.72 2015.38,182.12 2017.3,180.16" fill="none" stroke="#000" stroke-width="3.8" stroke-linejoin="round"/><path d="M2024.4,173.44 C2025.12,165.04 2027.27,133.4 2028.7,123.04 C2030.13,112.68 2030.62,111.84 2033,111.28 C2035.38,110.72 2039.9,115.76 2043,119.68 C2046.1,123.6 2048.03,128.92 2051.6,134.8 C2055.17,140.68 2059.88,149.64 2064.4,154.96 C2068.92,160.28 2076.32,164.76 2078.7,166.72" fill="none" stroke="#000" stroke-width="3.8" stroke-linejoin="round"/><path d="M1818.6,214.43 C1821.45,213.26 1830.47,209.62 1835.7,207.38 C1840.93,205.14 1845.47,203.4 1850,200.99 C1854.53,198.58 1859.57,195.45 1862.9,192.93 C1866.23,190.41 1867.62,188.28 1870,185.87 C1872.38,183.46 1874.57,178.98 1877.2,178.48 C1879.83,177.98 1883.18,179.94 1885.8,182.85 C1888.42,185.76 1890.05,190.69 1892.9,195.95 C1895.75,201.22 1899.57,209.22 1902.9,214.43 C1906.23,219.64 1911.23,225.07 1912.9,227.2" fill="none" stroke="#14a058" stroke-width="4" stroke-linejoin="round"/><path d="M1921.5,217.12 C1922.22,216.45 1924.13,213.09 1925.8,213.09 C1927.47,213.09 1929.12,215.33 1931.5,217.12 C1933.88,218.91 1936.77,222.27 1940.1,223.84 C1943.43,225.41 1947.93,226.53 1951.5,226.53 C1955.07,226.53 1958.17,225.3 1961.5,223.84 C1964.83,222.38 1967.45,219.81 1971.5,217.79 C1975.55,215.78 1983.42,212.75 1985.8,211.74" fill="none" stroke="#14a058" stroke-width="4" stroke-linejoin="round"/><path d="M1994.4,207.71 C1996.3,205.81 2001.98,200.21 2005.8,196.29 C2009.62,192.37 2015.38,186.21 2017.3,184.19" fill="none" stroke="#14a058" stroke-width="4" stroke-linejoin="round"/><path d="M2024.4,173.44 C2025.12,165.04 2027.27,133.23 2028.7,123.04 C2030.13,112.85 2030.62,112.57 2033,112.29 C2035.38,112.01 2039.9,117.22 2043,121.36 C2046.1,125.5 2048.03,130.71 2051.6,137.15 C2055.17,143.59 2059.88,154.23 2064.4,160 C2068.92,165.77 2076.32,169.8 2078.7,171.76" fill="none" stroke="#14a058" stroke-width="4" stroke-linejoin="round"/><line x1="1145" y1="74.5" x2="1145" y2="278" stroke="#000" stroke-width="3.4"/><line x1="1137.5" y1="244" x2="1145" y2="244" stroke="#000" stroke-width="3"/><line x1="1137.5" y1="210.4" x2="1145" y2="210.4" stroke="#000" stroke-width="3"/><line x1="1137.5" y1="176.8" x2="1145" y2="176.8" stroke="#000" stroke-width="3"/><line x1="1137.5" y1="143.2" x2="1145" y2="143.2" stroke="#000" stroke-width="3"/><line x1="1137.5" y1="109.6" x2="1145" y2="109.6" stroke="#000" stroke-width="3"/><text x="1128" y="122.9" font-size="37.5" text-anchor="end" fill="#000">3</text><text x="1128" y="190.1" font-size="37.5" text-anchor="end" fill="#000">1</text><text x="1128" y="257.3" font-size="37.5" text-anchor="end" fill="#000">-1</text><text x="1091" y="168.7" font-size="38" text-anchor="middle" fill="#000" transform="rotate(-90 1091 168.7)">SDUs</text><rect x="1260.4" y="373" width="65" height="204" fill="#e0e0e0"/><line x1="1214.4" y1="377" x2="1214.4" y2="577" stroke="#c0c0c0" stroke-width="3.1" stroke-dasharray="6 9.8"/><line x1="1363.4" y1="377" x2="1363.4" y2="577" stroke="#c0c0c0" stroke-width="3.1" stroke-dasharray="6 9.8"/><line x1="1153.4" y1="492" x2="1417.4" y2="492" stroke="#c0c0c0" stroke-width="2.9" stroke-dasharray="6.5 8"/><path d="M1156.8,491.4 C1159.1,490.89 1163.7,488.68 1170.6,488.37 C1177.5,488.06 1191.05,490.62 1198.2,489.55 C1205.35,488.48 1209.67,483.28 1213.5,481.93 C1217.33,480.58 1218.13,479.96 1221.2,481.47 C1224.27,482.98 1228.33,487.33 1231.9,490.99 C1235.47,494.65 1239.03,499.17 1242.6,503.42 C1246.17,507.68 1251.52,514.34 1253.3,516.53 L1253.3,536.02 C1251.52,533.83 1246.17,527.17 1242.6,522.91 C1239.03,518.66 1235.47,514.44 1231.9,510.48 C1228.33,506.52 1224.27,501.69 1221.2,499.17 C1218.13,496.65 1217.33,496.14 1213.5,495.35 C1209.67,494.56 1205.35,494.96 1198.2,494.45 C1191.05,493.94 1177.5,492.13 1170.6,492.27 C1163.7,492.41 1159.1,494.79 1156.8,495.29Z" fill="#555" fill-opacity="0.6"/><path d="M1261,511.15 C1262.27,511.38 1265.8,510.48 1268.6,512.5 C1271.4,514.51 1274.22,518.88 1277.8,523.25 C1281.38,527.62 1285.75,534.9 1290.1,538.7 C1294.45,542.51 1299.57,545.59 1303.9,546.1 C1308.23,546.6 1312.53,544.75 1316.1,541.73 C1319.67,538.7 1323.77,530.25 1325.3,527.95 L1325.3,547.44 C1323.77,549.74 1319.67,558.19 1316.1,561.22 C1312.53,564.24 1308.23,566.09 1303.9,565.58 C1299.57,565.08 1294.45,562 1290.1,558.19 C1285.75,554.38 1281.38,547.1 1277.8,542.74 C1274.22,538.37 1271.4,534 1268.6,531.98 C1265.8,529.97 1262.27,530.86 1261,530.64Z" fill="#555" fill-opacity="0.6"/><path d="M1333,528.96 C1336.82,521.74 1352.08,492.84 1355.9,485.62 L1355.9,496.37 C1352.08,503.59 1336.82,532.49 1333,539.71Z" fill="#555" fill-opacity="0.6"/><path d="M1362.1,462.43 C1363.37,457.73 1367.15,441.15 1369.7,434.21 C1372.25,427.26 1373.57,418.92 1377.4,420.77 C1381.23,422.62 1386.07,433.26 1392.7,445.3 C1399.33,457.34 1413.12,485.06 1417.2,493.01 L1417.2,521.23 C1413.12,513.28 1399.33,485.56 1392.7,473.52 C1386.07,461.48 1381.23,450.84 1377.4,448.99 C1373.57,447.14 1372.25,455.49 1369.7,462.43 C1367.15,469.38 1363.37,485.95 1362.1,490.66Z" fill="#555" fill-opacity="0.6"/><path d="M1156.8,490.96 C1159.1,490.45 1163.7,488.26 1170.6,487.93 C1177.5,487.61 1191.55,490.59 1198.2,489 C1204.85,487.42 1206.67,481.58 1210.5,478.43 C1214.33,475.27 1217.63,470.36 1221.2,470.07 C1224.77,469.79 1228.33,473.31 1231.9,476.71 C1235.47,480.11 1239.03,485.39 1242.6,490.49 C1246.17,495.58 1251.52,504.49 1253.3,507.29 L1253.3,531.14 C1251.52,528.34 1246.17,519.44 1242.6,514.34 C1239.03,509.25 1235.47,504.33 1231.9,500.57 C1228.33,496.8 1224.77,493.04 1221.2,491.75 C1217.63,490.46 1214.33,492.27 1210.5,492.81 C1206.67,493.35 1204.85,495.02 1198.2,495 C1191.55,494.98 1177.5,492.58 1170.6,492.71 C1163.7,492.83 1159.1,495.23 1156.8,495.73Z" fill="#3dbb78" fill-opacity="0.65"/><path d="M1261,496.91 C1262.27,497.41 1265.8,497.41 1268.6,499.93 C1271.4,502.45 1274.22,507.43 1277.8,512.03 C1281.38,516.62 1285.75,523.9 1290.1,527.48 C1294.45,531.07 1299.57,533.03 1303.9,533.53 C1308.23,534.03 1312.53,532.3 1316.1,530.51 C1319.67,528.71 1323.77,524.07 1325.3,522.78 L1325.3,549.25 C1323.77,550.54 1319.67,555.19 1316.1,556.98 C1312.53,558.77 1308.23,560.51 1303.9,560.01 C1299.57,559.5 1294.45,557.54 1290.1,553.96 C1285.75,550.37 1281.38,543.09 1277.8,538.5 C1274.22,533.91 1271.4,528.93 1268.6,526.41 C1265.8,523.89 1262.27,523.89 1261,523.38Z" fill="#3dbb78" fill-opacity="0.65"/><path d="M1333,525.43 C1336.82,519.33 1352.08,494.91 1355.9,488.81 L1355.9,503.93 C1352.08,510.03 1336.82,534.45 1333,540.55Z" fill="#3dbb78" fill-opacity="0.65"/><path d="M1362.1,471.5 C1363.37,465.9 1367.15,447.09 1369.7,437.9 C1372.25,428.72 1374.33,418.47 1377.4,416.4 C1380.47,414.33 1384.28,420.38 1388.1,425.47 C1391.92,430.57 1395.45,438.8 1400.3,446.98 C1405.15,455.15 1414.38,469.94 1417.2,474.53 L1417.2,502.75 C1414.38,498.16 1405.15,483.38 1400.3,475.2 C1395.45,467.02 1391.92,458.79 1388.1,453.7 C1384.28,448.6 1380.47,442.55 1377.4,444.62 C1374.33,446.7 1372.25,456.94 1369.7,466.13 C1367.15,475.31 1363.37,494.13 1362.1,499.73Z" fill="#3dbb78" fill-opacity="0.65"/><path d="M1156.8,493.34 C1159.1,492.84 1163.7,490.54 1170.6,490.32 C1177.5,490.1 1191.05,492.28 1198.2,492 C1205.35,491.72 1209.67,488.92 1213.5,488.64 C1217.33,488.36 1218.13,488.3 1221.2,490.32 C1224.27,492.34 1228.33,496.93 1231.9,500.74 C1235.47,504.54 1239.03,508.91 1242.6,513.17 C1246.17,517.42 1251.52,524.09 1253.3,526.27" fill="none" stroke="#000" stroke-width="3.8" stroke-linejoin="round"/><path d="M1261,520.9 C1262.27,521.12 1265.8,520.22 1268.6,522.24 C1271.4,524.26 1274.22,528.62 1277.8,532.99 C1281.38,537.36 1285.75,544.64 1290.1,548.45 C1294.45,552.26 1299.57,555.34 1303.9,555.84 C1308.23,556.34 1312.53,554.5 1316.1,551.47 C1319.67,548.45 1323.77,539.99 1325.3,537.7" fill="none" stroke="#000" stroke-width="3.8" stroke-linejoin="round"/><path d="M1333,534.34 C1336.82,527.11 1352.08,498.22 1355.9,490.99" fill="none" stroke="#000" stroke-width="3.8" stroke-linejoin="round"/><path d="M1362.1,476.54 C1363.37,471.84 1367.15,455.26 1369.7,448.32 C1372.25,441.38 1373.57,433.03 1377.4,434.88 C1381.23,436.73 1386.07,447.37 1392.7,459.41 C1399.33,471.45 1413.12,499.17 1417.2,507.12" fill="none" stroke="#000" stroke-width="3.8" stroke-linejoin="round"/><path d="M1156.8,493.34 C1159.1,492.84 1163.7,490.54 1170.6,490.32 C1177.5,490.1 1191.55,492.78 1198.2,492 C1204.85,491.22 1206.67,487.46 1210.5,485.62 C1214.33,483.77 1217.63,480.41 1221.2,480.91 C1224.77,481.42 1228.33,485.06 1231.9,488.64 C1235.47,492.22 1239.03,497.32 1242.6,502.42 C1246.17,507.51 1251.52,516.42 1253.3,519.22" fill="none" stroke="#14a058" stroke-width="4" stroke-linejoin="round"/><path d="M1261,510.14 C1262.27,510.65 1265.8,510.65 1268.6,513.17 C1271.4,515.69 1274.22,520.67 1277.8,525.26 C1281.38,529.86 1285.75,537.14 1290.1,540.72 C1294.45,544.3 1299.57,546.26 1303.9,546.77 C1308.23,547.27 1312.53,545.54 1316.1,543.74 C1319.67,541.95 1323.77,537.3 1325.3,536.02" fill="none" stroke="#14a058" stroke-width="4" stroke-linejoin="round"/><path d="M1333,532.99 C1336.82,526.89 1352.08,502.47 1355.9,496.37" fill="none" stroke="#14a058" stroke-width="4" stroke-linejoin="round"/><path d="M1362.1,485.62 C1363.37,480.02 1367.15,461.2 1369.7,452.02 C1372.25,442.83 1374.33,432.58 1377.4,430.51 C1380.47,428.44 1384.28,434.49 1388.1,439.58 C1391.92,444.68 1395.45,452.91 1400.3,461.09 C1405.15,469.26 1414.38,484.05 1417.2,488.64" fill="none" stroke="#14a058" stroke-width="4" stroke-linejoin="round"/><rect x="1591.4" y="373" width="65" height="204" fill="#e0e0e0"/><line x1="1545.4" y1="377" x2="1545.4" y2="577" stroke="#c0c0c0" stroke-width="3.1" stroke-dasharray="6 9.8"/><line x1="1694.4" y1="377" x2="1694.4" y2="577" stroke="#c0c0c0" stroke-width="3.1" stroke-dasharray="6 9.8"/><line x1="1484.4" y1="492" x2="1748.4" y2="492" stroke="#c0c0c0" stroke-width="2.9" stroke-dasharray="6.5 8"/><path d="M1487.7,493.12 C1490.25,492.61 1497.9,490.6 1503,490.09 C1508.1,489.59 1513.72,491.56 1518.3,490.09 C1522.88,488.63 1526.67,485.57 1530.5,481.29 C1534.33,477.02 1538.23,469.71 1541.3,464.45 C1544.37,459.18 1546.1,453.13 1548.9,449.69 C1551.7,446.26 1555.03,443.68 1558.1,443.82 C1561.17,443.96 1564.5,447.4 1567.3,450.54 C1570.1,453.67 1572.22,458.6 1574.9,462.63 C1577.58,466.67 1581.98,472.71 1583.4,474.73 L1583.4,483.73 C1581.98,481.72 1577.58,475.67 1574.9,471.64 C1572.22,467.61 1570.1,462.68 1567.3,459.54 C1564.5,456.41 1561.17,453.24 1558.1,452.82 C1555.03,452.4 1551.7,454.19 1548.9,457.03 C1546.1,459.86 1544.37,465.35 1541.3,469.82 C1538.23,474.3 1534.33,480.21 1530.5,483.89 C1526.67,487.57 1522.88,490.56 1518.3,491.89 C1513.72,493.23 1508.1,491.39 1503,491.89 C1497.9,492.4 1490.25,494.41 1487.7,494.92Z" fill="#555" fill-opacity="0.6"/><path d="M1591.8,460.92 C1592.82,460.64 1595.35,457.56 1597.9,459.24 C1600.45,460.92 1603.78,466.24 1607.1,471 C1610.42,475.76 1613.97,482.48 1617.8,487.8 C1621.63,493.12 1626.02,499.28 1630.1,502.92 C1634.18,506.56 1638.1,509.36 1642.3,509.64 C1646.5,509.92 1653.13,505.44 1655.3,504.6 L1655.3,519.72 C1653.13,520.56 1646.5,525.04 1642.3,524.76 C1638.1,524.48 1634.18,521.68 1630.1,518.04 C1626.02,514.4 1621.63,508.24 1617.8,502.92 C1613.97,497.6 1610.42,490.88 1607.1,486.12 C1603.78,481.36 1600.45,476.04 1597.9,474.36 C1595.35,472.68 1592.82,475.76 1591.8,476.04Z" fill="#555" fill-opacity="0.6"/><path d="M1663,499.93 C1666.7,496.01 1681.5,480.33 1685.2,476.41 L1685.2,494.15 C1681.5,498.07 1666.7,513.75 1663,517.67Z" fill="#555" fill-opacity="0.6"/><path d="M1692.9,472.04 C1694.17,465.94 1697.95,446.9 1700.5,435.42 C1703.05,423.94 1705.38,410.44 1708.2,403.16 C1711.02,395.88 1713.58,391.29 1717.4,391.74 C1721.22,392.19 1726.13,400.7 1731.1,405.85 C1736.07,411 1744.52,419.85 1747.2,422.65 L1747.2,440.39 C1744.52,437.59 1736.07,428.74 1731.1,423.59 C1726.13,418.44 1721.22,409.93 1717.4,409.48 C1713.58,409.03 1711.02,413.62 1708.2,420.9 C1705.38,428.18 1703.05,441.68 1700.5,453.16 C1697.95,464.64 1694.17,483.68 1692.9,489.78Z" fill="#555" fill-opacity="0.6"/><path d="M1487.7,493.12 C1490.25,492.61 1497.9,490.6 1503,490.09 C1508.1,489.59 1513.72,491.56 1518.3,490.09 C1522.88,488.63 1526.67,485.57 1530.5,481.29 C1534.33,477.02 1538.23,469.94 1541.3,464.45 C1544.37,458.96 1546.1,452.12 1548.9,448.35 C1551.7,444.58 1555.03,441.72 1558.1,441.8 C1561.17,441.89 1564.5,445.61 1567.3,448.86 C1570.1,452.11 1572.22,457.2 1574.9,461.29 C1577.58,465.38 1581.98,471.37 1583.4,473.39 L1583.4,482.39 C1581.98,480.37 1577.58,474.38 1574.9,470.29 C1572.22,466.21 1570.1,461.11 1567.3,457.86 C1564.5,454.61 1561.17,451.17 1558.1,450.81 C1555.03,450.44 1551.7,452.51 1548.9,455.68 C1546.1,458.85 1544.37,465.12 1541.3,469.82 C1538.23,474.53 1534.33,480.21 1530.5,483.89 C1526.67,487.57 1522.88,490.56 1518.3,491.89 C1513.72,493.23 1508.1,491.39 1503,491.89 C1497.9,492.4 1490.25,494.41 1487.7,494.92Z" fill="#3dbb78" fill-opacity="0.65"/><path d="M1591.8,459.54 C1592.82,459.26 1595.35,456.07 1597.9,457.86 C1600.45,459.65 1603.78,465.42 1607.1,470.29 C1610.42,475.17 1613.97,482 1617.8,487.09 C1621.63,492.19 1626.02,497.57 1630.1,500.87 C1634.18,504.17 1638.1,506.69 1642.3,506.92 C1646.5,507.14 1653.13,503 1655.3,502.21 L1655.3,514.71 C1653.13,515.5 1646.5,519.64 1642.3,519.42 C1638.1,519.19 1634.18,516.67 1630.1,513.37 C1626.02,510.07 1621.63,504.69 1617.8,499.59 C1613.97,494.5 1610.42,487.67 1607.1,482.79 C1603.78,477.92 1600.45,472.15 1597.9,470.36 C1595.35,468.57 1592.82,471.76 1591.8,472.04Z" fill="#3dbb78" fill-opacity="0.65"/><path d="M1663,499.56 C1666.7,495.7 1681.5,480.24 1685.2,476.38 L1685.2,491.5 C1681.5,495.36 1666.7,510.82 1663,514.68Z" fill="#3dbb78" fill-opacity="0.65"/><path d="M1692.9,473.35 C1694.17,467.25 1697.95,448.21 1700.5,436.73 C1703.05,425.25 1705.38,411.19 1708.2,404.47 C1711.02,397.75 1713.58,396.41 1717.4,396.41 C1721.22,396.41 1726.13,400.72 1731.1,404.47 C1736.07,408.22 1744.52,416.51 1747.2,418.92 L1747.2,434.04 C1744.52,431.63 1736.07,423.34 1731.1,419.59 C1726.13,415.84 1721.22,411.53 1717.4,411.53 C1713.58,411.53 1711.02,412.87 1708.2,419.59 C1705.38,426.31 1703.05,440.37 1700.5,451.85 C1697.95,463.33 1694.17,482.37 1692.9,488.47Z" fill="#3dbb78" fill-opacity="0.65"/><path d="M1487.7,494.02 C1490.25,493.51 1497.9,491.5 1503,490.99 C1508.1,490.49 1513.72,492.39 1518.3,490.99 C1522.88,489.59 1526.67,486.57 1530.5,482.59 C1534.33,478.62 1538.23,472.01 1541.3,467.14 C1544.37,462.26 1546.1,456.5 1548.9,453.36 C1551.7,450.22 1555.03,448.04 1558.1,448.32 C1561.17,448.6 1564.5,451.9 1567.3,455.04 C1570.1,458.18 1572.22,463.1 1574.9,467.14 C1577.58,471.17 1581.98,477.22 1583.4,479.23" fill="none" stroke="#000" stroke-width="3.8" stroke-linejoin="round"/><path d="M1591.8,468.48 C1592.82,468.2 1595.35,465.12 1597.9,466.8 C1600.45,468.48 1603.78,473.8 1607.1,478.56 C1610.42,483.32 1613.97,490.04 1617.8,495.36 C1621.63,500.68 1626.02,506.84 1630.1,510.48 C1634.18,514.12 1638.1,516.92 1642.3,517.2 C1646.5,517.48 1653.13,513 1655.3,512.16" fill="none" stroke="#000" stroke-width="3.8" stroke-linejoin="round"/><path d="M1663,508.8 C1666.7,504.88 1681.5,489.2 1685.2,485.28" fill="none" stroke="#000" stroke-width="3.8" stroke-linejoin="round"/><path d="M1692.9,480.91 C1694.17,474.81 1697.95,455.77 1700.5,444.29 C1703.05,432.81 1705.38,419.31 1708.2,412.03 C1711.02,404.75 1713.58,400.16 1717.4,400.61 C1721.22,401.06 1726.13,409.57 1731.1,414.72 C1736.07,419.87 1744.52,428.72 1747.2,431.52" fill="none" stroke="#000" stroke-width="3.8" stroke-linejoin="round"/><path d="M1487.7,494.02 C1490.25,493.51 1497.9,491.5 1503,490.99 C1508.1,490.49 1513.72,492.39 1518.3,490.99 C1522.88,489.59 1526.67,486.57 1530.5,482.59 C1534.33,478.62 1538.23,472.23 1541.3,467.14 C1544.37,462.04 1546.1,455.49 1548.9,452.02 C1551.7,448.54 1555.03,446.08 1558.1,446.3 C1561.17,446.53 1564.5,450.11 1567.3,453.36 C1570.1,456.61 1572.22,461.7 1574.9,465.79 C1577.58,469.88 1581.98,475.87 1583.4,477.89" fill="none" stroke="#14a058" stroke-width="4" stroke-linejoin="round"/><path d="M1591.8,465.79 C1592.82,465.51 1595.35,462.32 1597.9,464.11 C1600.45,465.9 1603.78,471.67 1607.1,476.54 C1610.42,481.42 1613.97,488.25 1617.8,493.34 C1621.63,498.44 1626.02,503.82 1630.1,507.12 C1634.18,510.42 1638.1,512.94 1642.3,513.17 C1646.5,513.39 1653.13,509.25 1655.3,508.46" fill="none" stroke="#14a058" stroke-width="4" stroke-linejoin="round"/><path d="M1663,507.12 C1666.7,503.26 1681.5,487.8 1685.2,483.94" fill="none" stroke="#14a058" stroke-width="4" stroke-linejoin="round"/><path d="M1692.9,480.91 C1694.17,474.81 1697.95,455.77 1700.5,444.29 C1703.05,432.81 1705.38,418.75 1708.2,412.03 C1711.02,405.31 1713.58,403.97 1717.4,403.97 C1721.22,403.97 1726.13,408.28 1731.1,412.03 C1736.07,415.78 1744.52,424.07 1747.2,426.48" fill="none" stroke="#14a058" stroke-width="4" stroke-linejoin="round"/><rect x="1922.4" y="373" width="65" height="204" fill="#e0e0e0"/><line x1="1876.4" y1="377" x2="1876.4" y2="577" stroke="#c0c0c0" stroke-width="3.1" stroke-dasharray="6 9.8"/><line x1="2025.4" y1="377" x2="2025.4" y2="577" stroke="#c0c0c0" stroke-width="3.1" stroke-dasharray="6 9.8"/><line x1="1815.4" y1="492" x2="2079.4" y2="492" stroke="#c0c0c0" stroke-width="2.9" stroke-dasharray="6.5 8"/><path d="M1818.6,496.13 C1821.45,494.89 1829.75,491.09 1835.7,488.73 C1841.65,486.38 1849.53,485.1 1854.3,482.01 C1859.07,478.93 1860.97,475.39 1864.3,470.21 C1867.63,465.03 1871.2,457.22 1874.3,450.95 C1877.4,444.69 1880.28,436.78 1882.9,432.62 C1885.52,428.45 1887.13,425.77 1890,425.94 C1892.87,426.12 1896.03,429.02 1900.1,433.67 C1904.17,438.32 1912.02,450.47 1914.4,453.83 L1914.4,466.33 C1912.02,462.97 1904.17,450.82 1900.1,446.17 C1896.03,441.52 1892.87,438.83 1890,438.44 C1887.13,438.06 1885.52,440.42 1882.9,443.86 C1880.28,447.31 1877.4,453.97 1874.3,459.13 C1871.2,464.29 1867.63,470.58 1864.3,474.82 C1860.97,479.05 1859.07,481.78 1854.3,484.51 C1849.53,487.25 1841.65,488.88 1835.7,491.23 C1829.75,493.59 1821.45,497.39 1818.6,498.63Z" fill="#555" fill-opacity="0.6"/><path d="M1922.9,448.52 C1924.33,447.57 1928.17,441.63 1931.5,442.81 C1934.83,443.99 1938.62,450.37 1942.9,455.58 C1947.18,460.79 1952.43,468.74 1957.2,474.06 C1961.97,479.38 1968.17,484.81 1971.5,487.5 C1974.83,490.19 1974.82,490.75 1977.2,490.19 C1979.58,489.63 1984.37,485.15 1985.8,484.14 L1985.8,493.14 C1984.37,494.15 1979.58,498.63 1977.2,499.19 C1974.82,499.75 1974.83,499.19 1971.5,496.5 C1968.17,493.81 1961.97,488.38 1957.2,483.06 C1952.43,477.74 1947.18,469.79 1942.9,464.58 C1938.62,459.37 1934.83,452.99 1931.5,451.81 C1928.17,450.64 1924.33,456.57 1922.9,457.53Z" fill="#555" fill-opacity="0.6"/><path d="M1994.4,479.23 C1998.22,476.26 2013.48,464.39 2017.3,461.42 L2017.3,472.18 C2013.48,475.14 1998.22,487.02 1994.4,489.98Z" fill="#555" fill-opacity="0.6"/><path d="M2024.4,457.26 C2025.6,452.78 2028.73,440.74 2031.6,430.38 C2034.47,420.02 2038.75,402.94 2041.6,395.1 C2044.45,387.26 2046.08,385.02 2048.7,383.34 C2051.32,381.66 2053.97,382.22 2057.3,385.02 C2060.63,387.82 2065.13,395.66 2068.7,400.14 C2072.27,404.62 2077.03,409.94 2078.7,411.9 L2078.7,420.9 C2077.03,418.94 2072.27,413.62 2068.7,409.14 C2065.13,404.66 2060.63,396.82 2057.3,394.02 C2053.97,391.22 2051.32,390.66 2048.7,392.34 C2046.08,394.02 2044.45,396.26 2041.6,404.1 C2038.75,411.94 2034.47,429.02 2031.6,439.38 C2028.73,449.74 2025.6,461.78 2024.4,466.26Z" fill="#555" fill-opacity="0.6"/><path d="M1818.6,496.3 C1821.45,495.07 1829.75,491.09 1835.7,488.91 C1841.65,486.72 1849.53,485.98 1854.3,483.2 C1859.07,480.41 1860.97,477.15 1864.3,472.21 C1867.63,467.27 1871.2,459.45 1874.3,453.54 C1877.4,447.63 1880.28,440.49 1882.9,436.76 C1885.52,433.04 1887.13,430.99 1890,431.18 C1892.87,431.37 1896.03,433.98 1900.1,437.9 C1904.17,441.82 1912.02,451.9 1914.4,454.7 L1914.4,465.46 C1912.02,462.66 1904.17,452.58 1900.1,448.66 C1896.03,444.74 1892.87,442.31 1890,441.94 C1887.13,441.57 1885.52,443.33 1882.9,446.44 C1880.28,449.54 1877.4,455.62 1874.3,460.57 C1871.2,465.53 1867.63,472.04 1864.3,476.17 C1860.97,480.3 1859.07,482.87 1854.3,485.35 C1849.53,487.83 1841.65,488.88 1835.7,491.06 C1829.75,493.24 1821.45,497.22 1818.6,498.45Z" fill="#3dbb78" fill-opacity="0.65"/><path d="M1922.9,448.52 C1924.33,447.57 1928.17,441.63 1931.5,442.81 C1934.83,443.99 1938.62,450.59 1942.9,455.58 C1947.18,460.56 1952.43,468.07 1957.2,472.71 C1961.97,477.36 1968.17,481.56 1971.5,483.47 C1974.83,485.37 1974.82,484.7 1977.2,484.14 C1979.58,483.58 1984.37,480.78 1985.8,480.11 L1985.8,489.11 C1984.37,489.78 1979.58,492.58 1977.2,493.14 C1974.82,493.7 1974.83,494.37 1971.5,492.47 C1968.17,490.57 1961.97,486.37 1957.2,481.72 C1952.43,477.07 1947.18,469.57 1942.9,464.58 C1938.62,459.6 1934.83,452.99 1931.5,451.81 C1928.17,450.64 1924.33,456.57 1922.9,457.53Z" fill="#3dbb78" fill-opacity="0.65"/><path d="M1994.4,476.54 C1998.22,473.86 2013.48,463.1 2017.3,460.42 L2017.3,471.17 C2013.48,473.86 1998.22,484.61 1994.4,487.3Z" fill="#3dbb78" fill-opacity="0.65"/><path d="M2024.4,455.58 C2025.6,450.82 2028.73,437.49 2031.6,427.02 C2034.47,416.55 2038.75,400.36 2041.6,392.75 C2044.45,385.13 2046.08,382.78 2048.7,381.32 C2051.32,379.87 2053.97,381.15 2057.3,384.01 C2060.63,386.87 2065.13,394.37 2068.7,398.46 C2072.27,402.55 2077.03,406.86 2078.7,408.54 L2078.7,417.54 C2077.03,415.86 2072.27,411.55 2068.7,407.46 C2065.13,403.37 2060.63,395.87 2057.3,393.01 C2053.97,390.16 2051.32,388.87 2048.7,390.33 C2046.08,391.78 2044.45,394.13 2041.6,401.75 C2038.75,409.37 2034.47,425.55 2031.6,436.02 C2028.73,446.49 2025.6,459.82 2024.4,464.58Z" fill="#3dbb78" fill-opacity="0.65"/><path d="M1818.6,497.38 C1821.45,496.14 1829.75,492.34 1835.7,489.98 C1841.65,487.63 1849.53,486.18 1854.3,483.26 C1859.07,480.35 1860.97,477.22 1864.3,472.51 C1867.63,467.81 1871.2,460.75 1874.3,455.04 C1877.4,449.33 1880.28,442.05 1882.9,438.24 C1885.52,434.43 1887.13,431.91 1890,432.19 C1892.87,432.47 1896.03,435.27 1900.1,439.92 C1904.17,444.57 1912.02,456.72 1914.4,460.08" fill="none" stroke="#000" stroke-width="3.8" stroke-linejoin="round"/><path d="M1922.9,453.02 C1924.33,452.07 1928.17,446.14 1931.5,447.31 C1934.83,448.49 1938.62,454.87 1942.9,460.08 C1947.18,465.29 1952.43,473.24 1957.2,478.56 C1961.97,483.88 1968.17,489.31 1971.5,492 C1974.83,494.69 1974.82,495.25 1977.2,494.69 C1979.58,494.13 1984.37,489.65 1985.8,488.64" fill="none" stroke="#000" stroke-width="3.8" stroke-linejoin="round"/><path d="M1994.4,484.61 C1998.22,481.64 2013.48,469.77 2017.3,466.8" fill="none" stroke="#000" stroke-width="3.8" stroke-linejoin="round"/><path d="M2024.4,461.76 C2025.6,457.28 2028.73,445.24 2031.6,434.88 C2034.47,424.52 2038.75,407.44 2041.6,399.6 C2044.45,391.76 2046.08,389.52 2048.7,387.84 C2051.32,386.16 2053.97,386.72 2057.3,389.52 C2060.63,392.32 2065.13,400.16 2068.7,404.64 C2072.27,409.12 2077.03,414.44 2078.7,416.4" fill="none" stroke="#000" stroke-width="3.8" stroke-linejoin="round"/><path d="M1818.6,497.38 C1821.45,496.14 1829.75,492.17 1835.7,489.98 C1841.65,487.8 1849.53,486.9 1854.3,484.27 C1859.07,481.64 1860.97,478.73 1864.3,474.19 C1867.63,469.66 1871.2,462.49 1874.3,457.06 C1877.4,451.62 1880.28,445.02 1882.9,441.6 C1885.52,438.18 1887.13,436.28 1890,436.56 C1892.87,436.84 1896.03,439.36 1900.1,443.28 C1904.17,447.2 1912.02,457.28 1914.4,460.08" fill="none" stroke="#14a058" stroke-width="4" stroke-linejoin="round"/><path d="M1922.9,453.02 C1924.33,452.07 1928.17,446.14 1931.5,447.31 C1934.83,448.49 1938.62,455.1 1942.9,460.08 C1947.18,465.06 1952.43,472.57 1957.2,477.22 C1961.97,481.86 1968.17,486.06 1971.5,487.97 C1974.83,489.87 1974.82,489.2 1977.2,488.64 C1979.58,488.08 1984.37,485.28 1985.8,484.61" fill="none" stroke="#14a058" stroke-width="4" stroke-linejoin="round"/><path d="M1994.4,481.92 C1998.22,479.23 2013.48,468.48 2017.3,465.79" fill="none" stroke="#14a058" stroke-width="4" stroke-linejoin="round"/><path d="M2024.4,460.08 C2025.6,455.32 2028.73,441.99 2031.6,431.52 C2034.47,421.05 2038.75,404.86 2041.6,397.25 C2044.45,389.63 2046.08,387.28 2048.7,385.82 C2051.32,384.37 2053.97,385.66 2057.3,388.51 C2060.63,391.37 2065.13,398.87 2068.7,402.96 C2072.27,407.05 2077.03,411.36 2078.7,413.04" fill="none" stroke="#14a058" stroke-width="4" stroke-linejoin="round"/><line x1="1145" y1="371" x2="1145" y2="579" stroke="#000" stroke-width="3.4"/><line x1="1137.5" y1="559.2" x2="1145" y2="559.2" stroke="#000" stroke-width="3"/><line x1="1137.5" y1="525.6" x2="1145" y2="525.6" stroke="#000" stroke-width="3"/><line x1="1137.5" y1="492" x2="1145" y2="492" stroke="#000" stroke-width="3"/><line x1="1137.5" y1="458.4" x2="1145" y2="458.4" stroke="#000" stroke-width="3"/><line x1="1137.5" y1="424.8" x2="1145" y2="424.8" stroke="#000" stroke-width="3"/><line x1="1137.5" y1="391.2" x2="1145" y2="391.2" stroke="#000" stroke-width="3"/><text x="1128" y="404.5" font-size="37.5" text-anchor="end" fill="#000">3</text><text x="1128" y="471.7" font-size="37.5" text-anchor="end" fill="#000">1</text><text x="1128" y="538.9" font-size="37.5" text-anchor="end" fill="#000">-1</text><text x="1091" y="481.5" font-size="38" text-anchor="middle" fill="#000" transform="rotate(-90 1091 481.5)">SDUs</text><rect x="1260.4" y="674.5" width="65" height="176.5" fill="#e0e0e0"/><line x1="1214.4" y1="676" x2="1214.4" y2="851" stroke="#c0c0c0" stroke-width="3.1" stroke-dasharray="6 9.8"/><line x1="1363.4" y1="676" x2="1363.4" y2="851" stroke="#c0c0c0" stroke-width="3.1" stroke-dasharray="6 9.8"/><line x1="1153.4" y1="797" x2="1417.4" y2="797" stroke="#c0c0c0" stroke-width="2.9" stroke-dasharray="6.5 8"/><path d="M1156.8,796.1 C1162.93,796.1 1185.68,797.16 1193.6,796.1 C1201.52,795.03 1200.98,792.76 1204.3,789.71 C1207.62,786.65 1210.43,782.03 1213.5,777.77 C1216.57,773.51 1219.88,766.97 1222.7,764.16 C1225.52,761.35 1227.6,760.45 1230.4,760.91 C1233.2,761.38 1235.68,763.66 1239.5,766.96 C1243.32,770.27 1251,778.44 1253.3,780.74 L1253.3,789.74 C1251,787.45 1243.32,779.27 1239.5,775.97 C1235.68,772.66 1233.2,770.46 1230.4,769.92 C1227.6,769.38 1225.52,770.38 1222.7,772.72 C1219.88,775.07 1216.57,780.5 1213.5,783.97 C1210.43,787.44 1207.62,791.22 1204.3,793.54 C1200.98,795.86 1201.52,797.17 1193.6,797.9 C1185.68,798.63 1162.93,797.9 1156.8,797.9Z" fill="#555" fill-opacity="0.6"/><path d="M1261,773.14 C1262.27,773.14 1265.28,771.74 1268.6,773.14 C1271.92,774.54 1276.82,778.91 1280.9,781.54 C1284.98,784.18 1289.02,787.26 1293.1,788.94 C1297.18,790.62 1301.57,791.74 1305.4,791.62 C1309.23,791.51 1312.78,790.28 1316.1,788.26 C1319.42,786.25 1323.77,780.98 1325.3,779.53 L1325.3,790.28 C1323.77,791.74 1319.42,797 1316.1,799.02 C1312.78,801.03 1309.23,802.26 1305.4,802.38 C1301.57,802.49 1297.18,801.37 1293.1,799.69 C1289.02,798.01 1284.98,794.93 1280.9,792.3 C1276.82,789.66 1271.92,785.3 1268.6,783.9 C1265.28,782.5 1262.27,783.9 1261,783.9Z" fill="#555" fill-opacity="0.6"/><path d="M1333,776.37 C1336.82,773.57 1352.08,762.37 1355.9,759.57 L1355.9,768.57 C1352.08,771.37 1336.82,782.57 1333,785.37Z" fill="#555" fill-opacity="0.6"/><path d="M1362.8,757.02 C1363.45,754.66 1365.55,750.3 1366.7,742.9 C1367.85,735.51 1367.92,720.78 1369.7,712.66 C1371.48,704.54 1374.58,698.66 1377.4,694.18 C1380.22,689.7 1382.78,684.38 1386.6,685.78 C1390.42,687.18 1395.33,696.26 1400.3,702.58 C1405.27,708.91 1413.72,720.22 1416.4,723.75 L1416.4,734.5 C1413.72,730.98 1405.27,719.66 1400.3,713.34 C1395.33,707.01 1390.42,697.94 1386.6,696.54 C1382.78,695.14 1380.22,700.46 1377.4,704.94 C1374.58,709.42 1371.48,715.3 1369.7,723.42 C1367.92,731.54 1367.85,746.26 1366.7,753.66 C1365.55,761.05 1363.45,765.42 1362.8,767.77Z" fill="#555" fill-opacity="0.6"/><path d="M1156.8,796.1 C1162.93,796.1 1185.68,797.16 1193.6,796.1 C1201.52,795.03 1200.98,792.76 1204.3,789.71 C1207.62,786.65 1210.43,782.03 1213.5,777.77 C1216.57,773.51 1219.88,766.97 1222.7,764.16 C1225.52,761.35 1227.6,760.45 1230.4,760.91 C1233.2,761.38 1235.68,763.66 1239.5,766.96 C1243.32,770.27 1251,778.44 1253.3,780.74 L1253.3,789.74 C1251,787.45 1243.32,779.27 1239.5,775.97 C1235.68,772.66 1233.2,770.46 1230.4,769.92 C1227.6,769.38 1225.52,770.38 1222.7,772.72 C1219.88,775.07 1216.57,780.5 1213.5,783.97 C1210.43,787.44 1207.62,791.22 1204.3,793.54 C1200.98,795.86 1201.52,797.17 1193.6,797.9 C1185.68,798.63 1162.93,797.9 1156.8,797.9Z" fill="#3dbb78" fill-opacity="0.65"/><path d="M1261,770.79 C1262.27,770.79 1265.28,769.5 1268.6,770.79 C1271.92,772.08 1276.82,775.94 1280.9,778.52 C1284.98,781.1 1289.02,784.46 1293.1,786.25 C1297.18,788.04 1301.57,789.27 1305.4,789.27 C1309.23,789.27 1312.78,788.04 1316.1,786.25 C1319.42,784.46 1323.77,779.81 1325.3,778.52 L1325.3,789.27 C1323.77,790.56 1319.42,795.21 1316.1,797 C1312.78,798.79 1309.23,800.02 1305.4,800.02 C1301.57,800.02 1297.18,798.79 1293.1,797 C1289.02,795.21 1284.98,791.85 1280.9,789.27 C1276.82,786.7 1271.92,782.83 1268.6,781.54 C1265.28,780.26 1262.27,781.54 1261,781.54Z" fill="#3dbb78" fill-opacity="0.65"/><path d="M1333,776.37 C1336.82,773.57 1352.08,762.37 1355.9,759.57 L1355.9,768.57 C1352.08,771.37 1336.82,782.57 1333,785.37Z" fill="#3dbb78" fill-opacity="0.65"/><path d="M1362.8,757.89 C1363.45,756.1 1365.55,754.03 1366.7,747.14 C1367.85,740.25 1367.92,724.74 1369.7,716.56 C1371.48,708.39 1374.58,703.18 1377.4,698.08 C1380.22,692.99 1382.78,685.48 1386.6,685.99 C1390.42,686.49 1395.33,695.39 1400.3,701.11 C1405.27,706.82 1413.72,717.07 1416.4,720.26 L1416.4,729.26 C1413.72,726.07 1405.27,715.82 1400.3,710.11 C1395.33,704.4 1390.42,695.49 1386.6,694.99 C1382.78,694.49 1380.22,701.99 1377.4,707.09 C1374.58,712.18 1371.48,717.39 1369.7,725.57 C1367.92,733.74 1367.85,749.25 1366.7,756.14 C1365.55,763.03 1363.45,765.1 1362.8,766.89Z" fill="#3dbb78" fill-opacity="0.65"/><path d="M1156.8,797 C1162.93,797 1185.68,797.9 1193.6,797 C1201.52,796.1 1200.98,794.31 1204.3,791.62 C1207.62,788.94 1210.43,784.74 1213.5,780.87 C1216.57,777.01 1219.88,771.02 1222.7,768.44 C1225.52,765.86 1227.6,764.91 1230.4,765.42 C1233.2,765.92 1235.68,768.16 1239.5,771.46 C1243.32,774.77 1251,782.94 1253.3,785.24" fill="none" stroke="#000" stroke-width="3.8" stroke-linejoin="round"/><path d="M1261,778.52 C1262.27,778.52 1265.28,777.12 1268.6,778.52 C1271.92,779.92 1276.82,784.29 1280.9,786.92 C1284.98,789.55 1289.02,792.63 1293.1,794.31 C1297.18,795.99 1301.57,797.11 1305.4,797 C1309.23,796.89 1312.78,795.66 1316.1,793.64 C1319.42,791.62 1323.77,786.36 1325.3,784.9" fill="none" stroke="#000" stroke-width="3.8" stroke-linejoin="round"/><path d="M1333,780.87 C1336.82,778.07 1352.08,766.87 1355.9,764.07" fill="none" stroke="#000" stroke-width="3.8" stroke-linejoin="round"/><path d="M1362.8,762.39 C1363.45,760.04 1365.55,755.67 1366.7,748.28 C1367.85,740.89 1367.92,726.16 1369.7,718.04 C1371.48,709.92 1374.58,704.04 1377.4,699.56 C1380.22,695.08 1382.78,689.76 1386.6,691.16 C1390.42,692.56 1395.33,701.63 1400.3,707.96 C1405.27,714.29 1413.72,725.6 1416.4,729.13" fill="none" stroke="#000" stroke-width="3.8" stroke-linejoin="round"/><path d="M1156.8,797 C1162.93,797 1185.68,797.9 1193.6,797 C1201.52,796.1 1200.98,794.31 1204.3,791.62 C1207.62,788.94 1210.43,784.74 1213.5,780.87 C1216.57,777.01 1219.88,771.02 1222.7,768.44 C1225.52,765.86 1227.6,764.91 1230.4,765.42 C1233.2,765.92 1235.68,768.16 1239.5,771.46 C1243.32,774.77 1251,782.94 1253.3,785.24" fill="none" stroke="#14a058" stroke-width="4" stroke-linejoin="round"/><path d="M1261,776.17 C1262.27,776.17 1265.28,774.88 1268.6,776.17 C1271.92,777.46 1276.82,781.32 1280.9,783.9 C1284.98,786.47 1289.02,789.83 1293.1,791.62 C1297.18,793.42 1301.57,794.65 1305.4,794.65 C1309.23,794.65 1312.78,793.42 1316.1,791.62 C1319.42,789.83 1323.77,785.18 1325.3,783.9" fill="none" stroke="#14a058" stroke-width="4" stroke-linejoin="round"/><path d="M1333,780.87 C1336.82,778.07 1352.08,766.87 1355.9,764.07" fill="none" stroke="#14a058" stroke-width="4" stroke-linejoin="round"/><path d="M1362.8,762.39 C1363.45,760.6 1365.55,758.53 1366.7,751.64 C1367.85,744.75 1367.92,729.24 1369.7,721.06 C1371.48,712.89 1374.58,707.68 1377.4,702.58 C1380.22,697.49 1382.78,689.98 1386.6,690.49 C1390.42,690.99 1395.33,699.9 1400.3,705.61 C1405.27,711.32 1413.72,721.57 1416.4,724.76" fill="none" stroke="#14a058" stroke-width="4" stroke-linejoin="round"/><rect x="1591.4" y="674.5" width="65" height="176.5" fill="#e0e0e0"/><line x1="1545.4" y1="676" x2="1545.4" y2="851" stroke="#c0c0c0" stroke-width="3.1" stroke-dasharray="6 9.8"/><line x1="1694.4" y1="676" x2="1694.4" y2="851" stroke="#c0c0c0" stroke-width="3.1" stroke-dasharray="6 9.8"/><line x1="1484.4" y1="797" x2="1748.4" y2="797" stroke="#c0c0c0" stroke-width="2.9" stroke-dasharray="6.5 8"/><path d="M1487.7,796.1 C1493.3,795.93 1513.65,797.18 1521.3,795.09 C1528.95,793 1529.77,788.72 1533.6,783.54 C1537.43,778.36 1541.23,769.62 1544.3,764.02 C1547.37,758.42 1549.45,752.91 1552,749.93 C1554.55,746.94 1556.8,745.75 1559.6,746.13 C1562.4,746.5 1564.83,747.36 1568.8,752.18 C1572.77,756.99 1580.97,771.22 1583.4,775.03 L1583.4,784.03 C1580.97,780.22 1572.77,766 1568.8,761.18 C1564.83,756.37 1562.4,755.66 1559.6,755.13 C1556.8,754.61 1554.55,755.55 1552,758.06 C1549.45,760.56 1547.37,765.36 1544.3,770.17 C1541.23,774.98 1537.43,782.48 1533.6,786.94 C1529.77,791.39 1528.95,795.07 1521.3,796.89 C1513.65,798.72 1493.3,797.73 1487.7,797.9Z" fill="#555" fill-opacity="0.6"/><path d="M1591.8,757.82 C1593.33,757.82 1597.68,756.53 1601,757.82 C1604.32,759.11 1607.88,762.64 1611.7,765.55 C1615.52,768.46 1620.07,773.17 1623.9,775.29 C1627.73,777.42 1631.12,778.26 1634.7,778.32 C1638.28,778.37 1642.08,777.59 1645.4,775.63 C1648.72,773.67 1653.07,768.07 1654.6,766.56 L1654.6,779.06 C1653.07,780.57 1648.72,786.17 1645.4,788.13 C1642.08,790.09 1638.28,790.87 1634.7,790.82 C1631.12,790.76 1627.73,789.92 1623.9,787.79 C1620.07,785.67 1615.52,780.96 1611.7,778.05 C1607.88,775.14 1604.32,771.61 1601,770.32 C1597.68,769.03 1593.33,770.32 1591.8,770.32Z" fill="#555" fill-opacity="0.6"/><path d="M1663.8,763.87 C1667.37,761.29 1681.63,750.99 1685.2,748.41 L1685.2,760.91 C1681.63,763.49 1667.37,773.79 1663.8,776.37Z" fill="#555" fill-opacity="0.6"/><path d="M1693.6,744.92 C1694.5,740.05 1696.82,724.37 1699,715.69 C1701.18,707.01 1703.65,698.22 1706.7,692.84 C1709.75,687.46 1713.23,682.65 1717.3,683.43 C1721.37,684.22 1726.12,691.27 1731.1,697.54 C1736.08,703.82 1744.52,717.14 1747.2,721.06 L1747.2,731.82 C1744.52,727.9 1736.08,714.57 1731.1,708.3 C1726.12,702.02 1721.37,694.97 1717.3,694.18 C1713.23,693.4 1709.75,698.22 1706.7,703.59 C1703.65,708.97 1701.18,717.76 1699,726.44 C1696.82,735.12 1694.5,750.8 1693.6,755.67Z" fill="#555" fill-opacity="0.6"/><path d="M1487.7,796.1 C1493.3,795.93 1513.65,797.18 1521.3,795.09 C1528.95,793 1529.77,788.72 1533.6,783.54 C1537.43,778.36 1541.23,769.51 1544.3,764.02 C1547.37,758.53 1549.45,753.24 1552,750.6 C1554.55,747.95 1556.8,747.6 1559.6,748.15 C1562.4,748.69 1564.83,749.15 1568.8,753.86 C1572.77,758.56 1580.97,772.62 1583.4,776.37 L1583.4,785.37 C1580.97,781.62 1572.77,767.57 1568.8,762.86 C1564.83,758.16 1562.4,757.84 1559.6,757.15 C1556.8,756.46 1554.55,756.56 1552,758.73 C1549.45,760.9 1547.37,765.47 1544.3,770.17 C1541.23,774.87 1537.43,782.48 1533.6,786.94 C1529.77,791.39 1528.95,795.07 1521.3,796.89 C1513.65,798.72 1493.3,797.73 1487.7,797.9Z" fill="#3dbb78" fill-opacity="0.65"/><path d="M1591.8,759.17 C1593.33,759.17 1597.68,757.88 1601,759.17 C1604.32,760.45 1607.88,764.09 1611.7,766.89 C1615.52,769.69 1620.07,774.06 1623.9,775.97 C1627.73,777.87 1631.12,778.54 1634.7,778.32 C1638.28,778.09 1642.08,776.81 1645.4,774.62 C1648.72,772.44 1653.07,766.78 1654.6,765.21 L1654.6,777.71 C1653.07,779.28 1648.72,784.94 1645.4,787.12 C1642.08,789.31 1638.28,790.59 1634.7,790.82 C1631.12,791.04 1627.73,790.37 1623.9,788.47 C1620.07,786.56 1615.52,782.19 1611.7,779.39 C1607.88,776.59 1604.32,772.95 1601,771.67 C1597.68,770.38 1593.33,771.67 1591.8,771.67Z" fill="#3dbb78" fill-opacity="0.65"/><path d="M1663.8,763.87 C1667.37,761.29 1681.63,750.99 1685.2,748.41 L1685.2,760.91 C1681.63,763.49 1667.37,773.79 1663.8,776.37Z" fill="#3dbb78" fill-opacity="0.65"/><path d="M1693.6,745.79 C1694.5,740.92 1696.82,725.24 1699,716.56 C1701.18,707.88 1703.65,699.2 1706.7,693.71 C1709.75,688.23 1713.23,683.13 1717.3,683.63 C1721.37,684.14 1726.12,690.91 1731.1,696.74 C1736.08,702.56 1744.52,714.94 1747.2,718.58 L1747.2,727.58 C1744.52,723.94 1736.08,711.57 1731.1,705.74 C1726.12,699.92 1721.37,693.14 1717.3,692.64 C1713.23,692.13 1709.75,697.23 1706.7,702.72 C1703.65,708.21 1701.18,716.89 1699,725.57 C1696.82,734.25 1694.5,749.93 1693.6,754.8Z" fill="#3dbb78" fill-opacity="0.65"/><path d="M1487.7,797 C1493.3,796.83 1513.65,797.95 1521.3,795.99 C1528.95,794.03 1529.77,790.06 1533.6,785.24 C1537.43,780.42 1541.23,772.3 1544.3,767.1 C1547.37,761.89 1549.45,756.74 1552,753.99 C1554.55,751.25 1556.8,750.18 1559.6,750.63 C1562.4,751.08 1564.83,751.86 1568.8,756.68 C1572.77,761.5 1580.97,775.72 1583.4,779.53" fill="none" stroke="#000" stroke-width="3.8" stroke-linejoin="round"/><path d="M1591.8,764.07 C1593.33,764.07 1597.68,762.78 1601,764.07 C1604.32,765.36 1607.88,768.89 1611.7,771.8 C1615.52,774.71 1620.07,779.42 1623.9,781.54 C1627.73,783.67 1631.12,784.51 1634.7,784.57 C1638.28,784.62 1642.08,783.84 1645.4,781.88 C1648.72,779.92 1653.07,774.32 1654.6,772.81" fill="none" stroke="#000" stroke-width="3.8" stroke-linejoin="round"/><path d="M1663.8,770.12 C1667.37,767.54 1681.63,757.24 1685.2,754.66" fill="none" stroke="#000" stroke-width="3.8" stroke-linejoin="round"/><path d="M1693.6,750.3 C1694.5,745.42 1696.82,729.74 1699,721.06 C1701.18,712.38 1703.65,703.59 1706.7,698.22 C1709.75,692.84 1713.23,688.02 1717.3,688.81 C1721.37,689.59 1726.12,696.65 1731.1,702.92 C1736.08,709.19 1744.52,722.52 1747.2,726.44" fill="none" stroke="#000" stroke-width="3.8" stroke-linejoin="round"/><path d="M1487.7,797 C1493.3,796.83 1513.65,797.95 1521.3,795.99 C1528.95,794.03 1529.77,790.06 1533.6,785.24 C1537.43,780.42 1541.23,772.19 1544.3,767.1 C1547.37,762 1549.45,757.07 1552,754.66 C1554.55,752.26 1556.8,752.03 1559.6,752.65 C1562.4,753.26 1564.83,753.66 1568.8,758.36 C1572.77,763.06 1580.97,777.12 1583.4,780.87" fill="none" stroke="#14a058" stroke-width="4" stroke-linejoin="round"/><path d="M1591.8,765.42 C1593.33,765.42 1597.68,764.13 1601,765.42 C1604.32,766.7 1607.88,770.34 1611.7,773.14 C1615.52,775.94 1620.07,780.31 1623.9,782.22 C1627.73,784.12 1631.12,784.79 1634.7,784.57 C1638.28,784.34 1642.08,783.06 1645.4,780.87 C1648.72,778.69 1653.07,773.03 1654.6,771.46" fill="none" stroke="#14a058" stroke-width="4" stroke-linejoin="round"/><path d="M1663.8,770.12 C1667.37,767.54 1681.63,757.24 1685.2,754.66" fill="none" stroke="#14a058" stroke-width="4" stroke-linejoin="round"/><path d="M1693.6,750.3 C1694.5,745.42 1696.82,729.74 1699,721.06 C1701.18,712.38 1703.65,703.7 1706.7,698.22 C1709.75,692.73 1713.23,687.63 1717.3,688.14 C1721.37,688.64 1726.12,695.42 1731.1,701.24 C1736.08,707.06 1744.52,719.44 1747.2,723.08" fill="none" stroke="#14a058" stroke-width="4" stroke-linejoin="round"/><rect x="1922.4" y="674.5" width="65" height="176.5" fill="#e0e0e0"/><line x1="1876.4" y1="676" x2="1876.4" y2="851" stroke="#c0c0c0" stroke-width="3.1" stroke-dasharray="6 9.8"/><line x1="2025.4" y1="676" x2="2025.4" y2="851" stroke="#c0c0c0" stroke-width="3.1" stroke-dasharray="6 9.8"/><line x1="1815.4" y1="797" x2="2079.4" y2="797" stroke="#c0c0c0" stroke-width="2.9" stroke-dasharray="6.5 8"/><path d="M1818.6,797.03 C1823.83,796.7 1843.1,795.88 1850,795.02 C1856.9,794.15 1856.42,793.95 1860,791.85 C1863.58,789.74 1868.17,786.29 1871.5,782.4 C1874.83,778.51 1877.15,771.71 1880,768.52 C1882.85,765.33 1885.73,764.11 1888.6,763.23 C1891.47,762.35 1894.33,762.67 1897.2,763.23 C1900.07,763.79 1903.07,765.08 1905.8,766.59 C1908.53,768.1 1912.3,771.35 1913.6,772.3 L1913.6,778.69 C1912.3,777.74 1908.53,774.49 1905.8,772.98 C1903.07,771.46 1900.07,770.18 1897.2,769.62 C1894.33,769.06 1891.47,768.93 1888.6,769.62 C1885.73,770.3 1882.85,770.99 1880,773.74 C1877.15,776.48 1874.83,782.79 1871.5,786.07 C1868.17,789.35 1863.58,791.71 1860,793.42 C1856.42,795.12 1856.9,795.48 1850,796.29 C1843.1,797.11 1823.83,797.97 1818.6,798.31Z" fill="#555" fill-opacity="0.6"/><path d="M1922.2,768.37 C1923.75,767.59 1926.85,764.45 1931.5,763.67 C1936.15,762.88 1944.38,763.95 1950.1,763.67 C1955.82,763.39 1961.52,762.83 1965.8,761.99 C1970.08,761.15 1972.47,760.14 1975.8,758.63 C1979.13,757.12 1984.13,753.87 1985.8,752.92 L1985.8,758.43 C1984.13,759.38 1979.13,762.63 1975.8,764.14 C1972.47,765.65 1970.08,766.66 1965.8,767.5 C1961.52,768.34 1955.82,768.9 1950.1,769.18 C1944.38,769.46 1936.15,768.4 1931.5,769.18 C1926.85,769.96 1923.75,773.1 1922.2,773.88Z" fill="#555" fill-opacity="0.6"/><path d="M1994.4,750.56 C1998.22,749.16 2013.48,743.56 2017.3,742.16 L2017.3,747.68 C2013.48,749.08 1998.22,754.68 1994.4,756.08Z" fill="#555" fill-opacity="0.6"/><path d="M2024.4,744.18 C2025.6,738.24 2028.5,718.31 2031.6,708.56 C2034.7,698.82 2040.15,690.36 2043,685.72 C2045.85,681.07 2046.32,680.68 2048.7,680.68 C2051.08,680.68 2054.43,682.75 2057.3,685.72 C2060.17,688.68 2062.33,693.72 2065.9,698.48 C2069.47,703.24 2076.57,711.64 2078.7,714.28 L2078.7,719.79 C2076.57,717.16 2069.47,708.76 2065.9,704 C2062.33,699.24 2060.17,694.2 2057.3,691.23 C2054.43,688.26 2051.08,686.19 2048.7,686.19 C2046.32,686.19 2045.85,686.58 2043,691.23 C2040.15,695.88 2034.7,704.33 2031.6,714.08 C2028.5,723.82 2025.6,743.76 2024.4,749.69Z" fill="#555" fill-opacity="0.6"/><path d="M1818.6,797.03 C1823.83,796.7 1843.1,795.88 1850,795.02 C1856.9,794.15 1856.42,793.95 1860,791.85 C1863.58,789.74 1868.17,786.29 1871.5,782.4 C1874.83,778.51 1877.15,771.71 1880,768.52 C1882.85,765.33 1885.73,764.11 1888.6,763.23 C1891.47,762.35 1894.33,762.67 1897.2,763.23 C1900.07,763.79 1903.07,765.08 1905.8,766.59 C1908.53,768.1 1912.3,771.35 1913.6,772.3 L1913.6,778.69 C1912.3,777.74 1908.53,774.49 1905.8,772.98 C1903.07,771.46 1900.07,770.18 1897.2,769.62 C1894.33,769.06 1891.47,768.93 1888.6,769.62 C1885.73,770.3 1882.85,770.99 1880,773.74 C1877.15,776.48 1874.83,782.79 1871.5,786.07 C1868.17,789.35 1863.58,791.71 1860,793.42 C1856.42,795.12 1856.9,795.48 1850,796.29 C1843.1,797.11 1823.83,797.97 1818.6,798.31Z" fill="#3dbb78" fill-opacity="0.65"/><path d="M1922.2,768.37 C1923.75,767.7 1928.05,764.56 1931.5,764.34 C1934.95,764.12 1937.42,766.24 1942.9,767.03 C1948.38,767.81 1958.92,769.27 1964.4,769.04 C1969.88,768.82 1972.23,767.2 1975.8,765.68 C1979.37,764.17 1984.13,760.92 1985.8,759.97 L1985.8,765.48 C1984.13,766.44 1979.37,769.68 1975.8,771.2 C1972.23,772.71 1969.88,774.33 1964.4,774.56 C1958.92,774.78 1948.38,773.32 1942.9,772.54 C1937.42,771.76 1934.95,769.63 1931.5,769.85 C1928.05,770.08 1923.75,773.21 1922.2,773.88Z" fill="#3dbb78" fill-opacity="0.65"/><path d="M1994.4,757.28 C1998.22,755.6 2013.48,748.88 2017.3,747.2 L2017.3,752.72 C2013.48,754.4 1998.22,761.12 1994.4,762.8Z" fill="#3dbb78" fill-opacity="0.65"/><path d="M2024.4,744.18 C2025.6,738.24 2028.5,718.31 2031.6,708.56 C2034.7,698.82 2040.15,690.36 2043,685.72 C2045.85,681.07 2046.32,680.68 2048.7,680.68 C2051.08,680.68 2054.43,682.75 2057.3,685.72 C2060.17,688.68 2062.33,693.72 2065.9,698.48 C2069.47,703.24 2076.57,711.64 2078.7,714.28 L2078.7,719.79 C2076.57,717.16 2069.47,708.76 2065.9,704 C2062.33,699.24 2060.17,694.2 2057.3,691.23 C2054.43,688.26 2051.08,686.19 2048.7,686.19 C2046.32,686.19 2045.85,686.58 2043,691.23 C2040.15,695.88 2034.7,704.33 2031.6,714.08 C2028.5,723.82 2025.6,743.76 2024.4,749.69Z" fill="#3dbb78" fill-opacity="0.65"/><path d="M1818.6,797.67 C1823.83,797.34 1843.1,796.5 1850,795.66 C1856.9,794.82 1856.42,794.54 1860,792.63 C1863.58,790.73 1868.17,787.82 1871.5,784.23 C1874.83,780.65 1877.15,774.1 1880,771.13 C1882.85,768.16 1885.73,767.21 1888.6,766.42 C1891.47,765.64 1894.33,765.86 1897.2,766.42 C1900.07,766.98 1903.07,768.27 1905.8,769.78 C1908.53,771.3 1912.3,774.54 1913.6,775.5" fill="none" stroke="#000" stroke-width="3.8" stroke-linejoin="round"/><path d="M1922.2,771.13 C1923.75,770.34 1926.85,767.21 1931.5,766.42 C1936.15,765.64 1944.38,766.7 1950.1,766.42 C1955.82,766.14 1961.52,765.58 1965.8,764.74 C1970.08,763.9 1972.47,762.9 1975.8,761.38 C1979.13,759.87 1984.13,756.62 1985.8,755.67" fill="none" stroke="#000" stroke-width="3.8" stroke-linejoin="round"/><path d="M1994.4,753.32 C1998.22,751.92 2013.48,746.32 2017.3,744.92" fill="none" stroke="#000" stroke-width="3.8" stroke-linejoin="round"/><path d="M2024.4,746.94 C2025.6,741 2028.5,721.06 2031.6,711.32 C2034.7,701.58 2040.15,693.12 2043,688.47 C2045.85,683.82 2046.32,683.43 2048.7,683.43 C2051.08,683.43 2054.43,685.5 2057.3,688.47 C2060.17,691.44 2062.33,696.48 2065.9,701.24 C2069.47,706 2076.57,714.4 2078.7,717.03" fill="none" stroke="#000" stroke-width="3.8" stroke-linejoin="round"/><path d="M1818.6,797.67 C1823.83,797.34 1843.1,796.5 1850,795.66 C1856.9,794.82 1856.42,794.54 1860,792.63 C1863.58,790.73 1868.17,787.82 1871.5,784.23 C1874.83,780.65 1877.15,774.1 1880,771.13 C1882.85,768.16 1885.73,767.21 1888.6,766.42 C1891.47,765.64 1894.33,765.86 1897.2,766.42 C1900.07,766.98 1903.07,768.27 1905.8,769.78 C1908.53,771.3 1912.3,774.54 1913.6,775.5" fill="none" stroke="#14a058" stroke-width="4" stroke-linejoin="round"/><path d="M1922.2,771.13 C1923.75,770.46 1928.05,767.32 1931.5,767.1 C1934.95,766.87 1937.42,769 1942.9,769.78 C1948.38,770.57 1958.92,772.02 1964.4,771.8 C1969.88,771.58 1972.23,769.95 1975.8,768.44 C1979.37,766.93 1984.13,763.68 1985.8,762.73" fill="none" stroke="#14a058" stroke-width="4" stroke-linejoin="round"/><path d="M1994.4,760.04 C1998.22,758.36 2013.48,751.64 2017.3,749.96" fill="none" stroke="#14a058" stroke-width="4" stroke-linejoin="round"/><path d="M2024.4,746.94 C2025.6,741 2028.5,721.06 2031.6,711.32 C2034.7,701.58 2040.15,693.12 2043,688.47 C2045.85,683.82 2046.32,683.43 2048.7,683.43 C2051.08,683.43 2054.43,685.5 2057.3,688.47 C2060.17,691.44 2062.33,696.48 2065.9,701.24 C2069.47,706 2076.57,714.4 2078.7,717.03" fill="none" stroke="#14a058" stroke-width="4" stroke-linejoin="round"/><line x1="1145" y1="673" x2="1145" y2="852" stroke="#000" stroke-width="3.4"/><line x1="1137.5" y1="830.6" x2="1145" y2="830.6" stroke="#000" stroke-width="3"/><line x1="1137.5" y1="797" x2="1145" y2="797" stroke="#000" stroke-width="3"/><line x1="1137.5" y1="763.4" x2="1145" y2="763.4" stroke="#000" stroke-width="3"/><line x1="1137.5" y1="729.8" x2="1145" y2="729.8" stroke="#000" stroke-width="3"/><line x1="1137.5" y1="696.2" x2="1145" y2="696.2" stroke="#000" stroke-width="3"/><text x="1128" y="709.5" font-size="37.5" text-anchor="end" fill="#000">3</text><text x="1128" y="776.7" font-size="37.5" text-anchor="end" fill="#000">1</text><text x="1128" y="843.9" font-size="37.5" text-anchor="end" fill="#000">-1</text><text x="1091" y="763" font-size="38" text-anchor="middle" fill="#000" transform="rotate(-90 1091 763)">SDUs</text><rect x="1260.4" y="936.5" width="65" height="176" fill="#e0e0e0"/><line x1="1214.4" y1="939" x2="1214.4" y2="1112" stroke="#c0c0c0" stroke-width="3.1" stroke-dasharray="6 9.8"/><line x1="1363.4" y1="939" x2="1363.4" y2="1112" stroke="#c0c0c0" stroke-width="3.1" stroke-dasharray="6 9.8"/><line x1="1153.4" y1="1056" x2="1417.4" y2="1056" stroke="#c0c0c0" stroke-width="2.9" stroke-dasharray="6.5 8"/><path d="M1157.6,1062.99 C1159.77,1061.42 1165.88,1056.94 1170.6,1053.58 C1175.32,1050.22 1180.78,1046.48 1185.9,1042.83 C1191.02,1039.18 1196.7,1036.8 1201.3,1031.66 C1205.9,1026.52 1209.68,1018.05 1213.5,1011.98 C1217.32,1005.9 1221.13,999.69 1224.2,995.21 C1227.27,990.74 1229.6,986.51 1231.9,985.1 C1234.2,983.7 1235.45,984.82 1238,986.78 C1240.55,988.74 1244.65,993.78 1247.2,996.86 C1249.75,999.94 1252.28,1003.86 1253.3,1005.26 L1253.3,1016.02 C1252.28,1014.62 1249.75,1010.7 1247.2,1007.62 C1244.65,1004.54 1240.55,999.5 1238,997.54 C1235.45,995.58 1234.2,994.46 1231.9,995.86 C1229.6,997.25 1227.27,1001.98 1224.2,1005.91 C1221.13,1009.83 1217.32,1014.48 1213.5,1019.38 C1209.68,1024.28 1205.9,1031.05 1201.3,1035.32 C1196.7,1039.58 1191.02,1041.58 1185.9,1044.98 C1180.78,1048.38 1175.32,1052.37 1170.6,1055.73 C1165.88,1059.09 1159.77,1063.57 1157.6,1065.14Z" fill="#555" fill-opacity="0.6"/><path d="M1261,997.54 C1262.53,997.54 1266.88,996.53 1270.2,997.54 C1273.52,998.54 1277.08,1000.28 1280.9,1003.58 C1284.72,1006.89 1288.5,1012.49 1293.1,1017.36 C1297.7,1022.23 1303.27,1028.95 1308.5,1032.82 C1313.73,1036.68 1321.83,1039.26 1324.5,1040.54 L1324.5,1060.03 C1321.83,1058.74 1313.73,1056.17 1308.5,1052.3 C1303.27,1048.44 1297.7,1041.72 1293.1,1036.85 C1288.5,1031.98 1284.72,1026.38 1280.9,1023.07 C1277.08,1019.77 1273.52,1018.03 1270.2,1017.02 C1266.88,1016.02 1262.53,1017.02 1261,1017.02Z" fill="#555" fill-opacity="0.6"/><path d="M1333,1041.05 C1334.78,1040.26 1340,1038.36 1343.7,1036.34 C1347.4,1034.33 1353.28,1030.18 1355.2,1028.95 L1355.2,1044.07 C1353.28,1045.3 1347.4,1049.45 1343.7,1051.46 C1340,1053.48 1334.78,1055.38 1333,1056.17Z" fill="#555" fill-opacity="0.6"/><path d="M1362.8,1026.1 C1363.95,1021.9 1367.02,1009.86 1369.7,1000.9 C1372.38,991.94 1375.83,979.28 1378.9,972.34 C1381.97,965.39 1384.53,959.9 1388.1,959.23 C1391.67,958.56 1395.58,964.22 1400.3,968.3 C1405.02,972.39 1413.72,981.18 1416.4,983.76 L1416.4,1003.25 C1413.72,1000.67 1405.02,991.88 1400.3,987.79 C1395.58,983.7 1391.67,978.05 1388.1,978.72 C1384.53,979.39 1381.97,984.88 1378.9,991.82 C1375.83,998.77 1372.38,1011.42 1369.7,1020.38 C1367.02,1029.34 1363.95,1041.38 1362.8,1045.58Z" fill="#555" fill-opacity="0.6"/><path d="M1157.6,1062.99 C1159.77,1061.42 1165.88,1057.16 1170.6,1053.58 C1175.32,1050 1180.78,1045.7 1185.9,1041.48 C1191.02,1037.27 1196.7,1033.83 1201.3,1028.3 C1205.9,1022.77 1209.68,1013.96 1213.5,1008.28 C1217.32,1002.6 1221.13,997.9 1224.2,994.21 C1227.27,990.51 1229.6,987.24 1231.9,986.11 C1234.2,984.99 1235.45,985.61 1238,987.46 C1240.55,989.3 1244.65,994.01 1247.2,997.2 C1249.75,1000.39 1252.28,1005.04 1253.3,1006.61 L1253.3,1017.36 C1252.28,1015.79 1249.75,1011.14 1247.2,1007.95 C1244.65,1004.76 1240.55,1000.06 1238,998.21 C1235.45,996.36 1234.2,995.75 1231.9,996.86 C1229.6,997.98 1227.27,1001.76 1224.2,1004.9 C1221.13,1008.03 1217.32,1011.18 1213.5,1015.69 C1209.68,1020.2 1205.9,1027.3 1201.3,1031.96 C1196.7,1036.61 1191.02,1039.67 1185.9,1043.64 C1180.78,1047.6 1175.32,1052.15 1170.6,1055.73 C1165.88,1059.32 1159.77,1063.57 1157.6,1065.14Z" fill="#3dbb78" fill-opacity="0.65"/><path d="M1261,994.85 C1262.53,994.85 1266.88,994.34 1270.2,994.85 C1273.52,995.35 1277.08,995.35 1280.9,997.87 C1284.72,1000.39 1288.5,1006.38 1293.1,1009.97 C1297.7,1013.55 1303.27,1016.58 1308.5,1019.38 C1313.73,1022.18 1321.83,1025.54 1324.5,1026.77 L1324.5,1054.99 C1321.83,1053.76 1313.73,1050.4 1308.5,1047.6 C1303.27,1044.8 1297.7,1041.78 1293.1,1038.19 C1288.5,1034.61 1284.72,1028.62 1280.9,1026.1 C1277.08,1023.58 1273.52,1023.58 1270.2,1023.07 C1266.88,1022.57 1262.53,1023.07 1261,1023.07Z" fill="#3dbb78" fill-opacity="0.65"/><path d="M1333,1024.58 C1334.78,1023.02 1340.13,1016.46 1343.7,1015.18 C1347.27,1013.89 1352.62,1016.58 1354.4,1016.86 L1354.4,1040.71 C1352.62,1040.43 1347.27,1037.74 1343.7,1039.03 C1340.13,1040.32 1334.78,1046.87 1333,1048.44Z" fill="#3dbb78" fill-opacity="0.65"/><path d="M1362.8,1019.38 C1363.95,1015.79 1367.02,1005.32 1369.7,997.87 C1372.38,990.42 1375.83,980.34 1378.9,974.69 C1381.97,969.03 1384.53,963.43 1388.1,963.94 C1391.67,964.44 1395.58,972.56 1400.3,977.71 C1405.02,982.86 1413.72,991.99 1416.4,994.85 L1416.4,1023.07 C1413.72,1020.22 1405.02,1011.09 1400.3,1005.94 C1395.58,1000.78 1391.67,992.66 1388.1,992.16 C1384.53,991.66 1381.97,997.26 1378.9,1002.91 C1375.83,1008.57 1372.38,1018.65 1369.7,1026.1 C1367.02,1033.54 1363.95,1044.02 1362.8,1047.6Z" fill="#3dbb78" fill-opacity="0.65"/><path d="M1157.6,1064.06 C1159.77,1062.5 1165.88,1058.02 1170.6,1054.66 C1175.32,1051.3 1180.78,1047.43 1185.9,1043.9 C1191.02,1040.38 1196.7,1038.19 1201.3,1033.49 C1205.9,1028.78 1209.68,1021.17 1213.5,1015.68 C1217.32,1010.19 1221.13,1004.76 1224.2,1000.56 C1227.27,996.36 1229.6,991.88 1231.9,990.48 C1234.2,989.08 1235.45,990.2 1238,992.16 C1240.55,994.12 1244.65,999.16 1247.2,1002.24 C1249.75,1005.32 1252.28,1009.24 1253.3,1010.64" fill="none" stroke="#000" stroke-width="3.8" stroke-linejoin="round"/><path d="M1261,1007.28 C1262.53,1007.28 1266.88,1006.27 1270.2,1007.28 C1273.52,1008.29 1277.08,1010.02 1280.9,1013.33 C1284.72,1016.63 1288.5,1022.23 1293.1,1027.1 C1297.7,1031.98 1303.27,1038.7 1308.5,1042.56 C1313.73,1046.42 1321.83,1049 1324.5,1050.29" fill="none" stroke="#000" stroke-width="3.8" stroke-linejoin="round"/><path d="M1333,1048.61 C1334.78,1047.82 1340,1045.92 1343.7,1043.9 C1347.4,1041.89 1353.28,1037.74 1355.2,1036.51" fill="none" stroke="#000" stroke-width="3.8" stroke-linejoin="round"/><path d="M1362.8,1035.84 C1363.95,1031.64 1367.02,1019.6 1369.7,1010.64 C1372.38,1001.68 1375.83,989.02 1378.9,982.08 C1381.97,975.14 1384.53,969.65 1388.1,968.98 C1391.67,968.3 1395.58,973.96 1400.3,978.05 C1405.02,982.14 1413.72,990.93 1416.4,993.5" fill="none" stroke="#000" stroke-width="3.8" stroke-linejoin="round"/><path d="M1157.6,1064.06 C1159.77,1062.5 1165.88,1058.24 1170.6,1054.66 C1175.32,1051.07 1180.78,1046.65 1185.9,1042.56 C1191.02,1038.47 1196.7,1035.22 1201.3,1030.13 C1205.9,1025.03 1209.68,1017.08 1213.5,1011.98 C1217.32,1006.89 1221.13,1002.97 1224.2,999.55 C1227.27,996.14 1229.6,992.61 1231.9,991.49 C1234.2,990.37 1235.45,990.98 1238,992.83 C1240.55,994.68 1244.65,999.38 1247.2,1002.58 C1249.75,1005.77 1252.28,1010.42 1253.3,1011.98" fill="none" stroke="#14a058" stroke-width="4" stroke-linejoin="round"/><path d="M1261,1008.96 C1262.53,1008.96 1266.88,1008.46 1270.2,1008.96 C1273.52,1009.46 1277.08,1009.46 1280.9,1011.98 C1284.72,1014.5 1288.5,1020.5 1293.1,1024.08 C1297.7,1027.66 1303.27,1030.69 1308.5,1033.49 C1313.73,1036.29 1321.83,1039.65 1324.5,1040.88" fill="none" stroke="#14a058" stroke-width="4" stroke-linejoin="round"/><path d="M1333,1036.51 C1334.78,1034.94 1340.13,1028.39 1343.7,1027.1 C1347.27,1025.82 1352.62,1028.5 1354.4,1028.78" fill="none" stroke="#14a058" stroke-width="4" stroke-linejoin="round"/><path d="M1362.8,1033.49 C1363.95,1029.9 1367.02,1019.43 1369.7,1011.98 C1372.38,1004.54 1375.83,994.46 1378.9,988.8 C1381.97,983.14 1384.53,977.54 1388.1,978.05 C1391.67,978.55 1395.58,986.67 1400.3,991.82 C1405.02,996.98 1413.72,1006.1 1416.4,1008.96" fill="none" stroke="#14a058" stroke-width="4" stroke-linejoin="round"/><rect x="1591.4" y="936.5" width="65" height="176" fill="#e0e0e0"/><line x1="1545.4" y1="939" x2="1545.4" y2="1112" stroke="#c0c0c0" stroke-width="3.1" stroke-dasharray="6 9.8"/><line x1="1694.4" y1="939" x2="1694.4" y2="1112" stroke="#c0c0c0" stroke-width="3.1" stroke-dasharray="6 9.8"/><line x1="1484.4" y1="1056" x2="1748.4" y2="1056" stroke="#c0c0c0" stroke-width="2.9" stroke-dasharray="6.5 8"/><path d="M1488.4,1061.31 C1490.83,1060.02 1497.77,1056.55 1503,1053.58 C1508.23,1050.61 1514.7,1047.24 1519.8,1043.5 C1524.9,1039.76 1529.52,1035.7 1533.6,1031.12 C1537.68,1026.55 1540.98,1021.14 1544.3,1016.04 C1547.62,1010.94 1550.68,1004.55 1553.5,1000.52 C1556.32,996.48 1558.65,992.43 1561.2,991.82 C1563.75,991.22 1566.52,994.46 1568.8,996.86 C1571.08,999.27 1572.6,1003.02 1574.9,1006.27 C1577.2,1009.52 1581.32,1014.67 1582.6,1016.35 L1582.6,1027.1 C1581.32,1025.42 1577.2,1020.27 1574.9,1017.02 C1572.6,1013.78 1571.08,1010.02 1568.8,1007.62 C1566.52,1005.21 1563.75,1002.06 1561.2,1002.58 C1558.65,1003.09 1556.32,1007.22 1553.5,1010.68 C1550.68,1014.15 1547.62,1019.3 1544.3,1023.38 C1540.98,1027.47 1537.68,1031.47 1533.6,1035.18 C1529.52,1038.89 1524.9,1042.23 1519.8,1045.65 C1514.7,1049.08 1508.23,1052.76 1503,1055.73 C1497.77,1058.7 1490.83,1062.17 1488.4,1063.46Z" fill="#555" fill-opacity="0.6"/><path d="M1591.8,1006.44 C1593.07,1005.71 1596.6,1002.07 1599.4,1002.07 C1602.2,1002.07 1605.02,1003.47 1608.6,1006.44 C1612.18,1009.41 1616.82,1015.57 1620.9,1019.88 C1624.98,1024.19 1629.03,1029.12 1633.1,1032.31 C1637.17,1035.5 1641.6,1037.58 1645.3,1039.03 C1649,1040.49 1653.63,1040.71 1655.3,1041.05 L1655.3,1056.17 C1653.63,1055.83 1649,1055.61 1645.3,1054.15 C1641.6,1052.7 1637.17,1050.62 1633.1,1047.43 C1629.03,1044.24 1624.98,1039.31 1620.9,1035 C1616.82,1030.69 1612.18,1024.53 1608.6,1021.56 C1605.02,1018.59 1602.2,1017.19 1599.4,1017.19 C1596.6,1017.19 1593.07,1020.83 1591.8,1021.56Z" fill="#555" fill-opacity="0.6"/><path d="M1663.8,1045.45 C1665.58,1045.23 1670.93,1044.72 1674.5,1044.11 C1678.07,1043.49 1683.42,1042.15 1685.2,1041.75 L1685.2,1050.76 C1683.42,1051.15 1678.07,1052.49 1674.5,1053.11 C1670.93,1053.73 1665.58,1054.23 1663.8,1054.45Z" fill="#555" fill-opacity="0.6"/><path d="M1693.6,1039.74 C1694.75,1036.1 1697.82,1027.42 1700.5,1017.9 C1703.18,1008.38 1707.15,991.3 1709.7,982.62 C1712.25,973.94 1713.75,969.57 1715.8,965.82 C1717.85,962.07 1719.45,960.39 1722,960.11 C1724.55,959.83 1727.03,961.79 1731.1,964.14 C1735.17,966.49 1743.85,972.54 1746.4,974.22 L1746.4,983.22 C1743.85,981.54 1735.17,975.49 1731.1,973.14 C1727.03,970.79 1724.55,968.83 1722,969.11 C1719.45,969.39 1717.85,971.07 1715.8,974.82 C1713.75,978.57 1712.25,982.94 1709.7,991.62 C1707.15,1000.3 1703.18,1017.38 1700.5,1026.9 C1697.82,1036.42 1694.75,1045.1 1693.6,1048.74Z" fill="#555" fill-opacity="0.6"/><path d="M1488.4,1061.48 C1490.83,1060.2 1497.77,1056.84 1503,1053.76 C1508.23,1050.68 1514.7,1046.94 1519.8,1043 C1524.9,1039.06 1529.52,1034.78 1533.6,1030.11 C1537.68,1025.44 1540.98,1020.26 1544.3,1014.96 C1547.62,1009.66 1550.68,1002.76 1553.5,998.32 C1556.32,993.88 1558.65,988.87 1561.2,988.33 C1563.75,987.78 1566.52,992.36 1568.8,995.05 C1571.08,997.74 1572.6,1001.38 1574.9,1004.46 C1577.2,1007.54 1581.32,1012.02 1582.6,1013.53 L1582.6,1022.53 C1581.32,1021.02 1577.2,1016.54 1574.9,1013.46 C1572.6,1010.38 1571.08,1006.74 1568.8,1004.05 C1566.52,1001.37 1563.75,996.87 1561.2,997.33 C1558.65,997.8 1556.32,1002.87 1553.5,1006.83 C1550.68,1010.8 1547.62,1016.66 1544.3,1021.11 C1540.98,1025.55 1537.68,1029.56 1533.6,1033.51 C1529.52,1037.46 1524.9,1041.13 1519.8,1044.8 C1514.7,1048.48 1508.23,1052.48 1503,1055.56 C1497.77,1058.64 1490.83,1062 1488.4,1063.28Z" fill="#3dbb78" fill-opacity="0.65"/><path d="M1591.8,1004.05 C1593.07,1003.33 1596.6,999.69 1599.4,999.69 C1602.2,999.69 1605.02,1001.03 1608.6,1004.05 C1612.18,1007.08 1616.82,1013.46 1620.9,1017.83 C1624.98,1022.2 1629.03,1027.07 1633.1,1030.26 C1637.17,1033.45 1641.6,1035.58 1645.3,1036.98 C1649,1038.38 1653.63,1038.38 1655.3,1038.66 L1655.3,1051.16 C1653.63,1050.88 1649,1050.88 1645.3,1049.48 C1641.6,1048.08 1637.17,1045.95 1633.1,1042.76 C1629.03,1039.57 1624.98,1034.7 1620.9,1030.33 C1616.82,1025.96 1612.18,1019.58 1608.6,1016.55 C1605.02,1013.53 1602.2,1012.19 1599.4,1012.19 C1596.6,1012.19 1593.07,1015.83 1591.8,1016.55Z" fill="#3dbb78" fill-opacity="0.65"/><path d="M1663.8,1041.08 C1665.58,1040.8 1670.93,1040.19 1674.5,1039.4 C1678.07,1038.62 1683.42,1036.88 1685.2,1036.38 L1685.2,1045.38 C1683.42,1045.89 1678.07,1047.62 1674.5,1048.41 C1670.93,1049.19 1665.58,1049.81 1663.8,1050.09Z" fill="#3dbb78" fill-opacity="0.65"/><path d="M1693.6,1036.38 C1694.75,1032.85 1697.82,1024.62 1700.5,1015.21 C1703.18,1005.8 1707.15,988.61 1709.7,979.93 C1712.25,971.25 1713.75,966.99 1715.8,963.13 C1717.85,959.27 1719.45,956.75 1722,956.75 C1724.55,956.75 1727.03,959.38 1731.1,963.13 C1735.17,966.88 1743.85,976.57 1746.4,979.26 L1746.4,988.26 C1743.85,985.57 1735.17,975.89 1731.1,972.13 C1727.03,968.38 1724.55,965.75 1722,965.75 C1719.45,965.75 1717.85,968.27 1715.8,972.13 C1713.75,976 1712.25,980.25 1709.7,988.93 C1707.15,997.61 1703.18,1014.81 1700.5,1024.21 C1697.82,1033.62 1694.75,1041.85 1693.6,1045.38Z" fill="#3dbb78" fill-opacity="0.65"/><path d="M1488.4,1062.38 C1490.83,1061.1 1497.77,1057.62 1503,1054.66 C1508.23,1051.69 1514.7,1048.16 1519.8,1044.58 C1524.9,1040.99 1529.52,1037.3 1533.6,1033.15 C1537.68,1029.01 1540.98,1024.3 1544.3,1019.71 C1547.62,1015.12 1550.68,1009.35 1553.5,1005.6 C1556.32,1001.85 1558.65,997.76 1561.2,997.2 C1563.75,996.64 1566.52,999.83 1568.8,1002.24 C1571.08,1004.65 1572.6,1008.4 1574.9,1011.65 C1577.2,1014.9 1581.32,1020.05 1582.6,1021.73" fill="none" stroke="#000" stroke-width="3.8" stroke-linejoin="round"/><path d="M1591.8,1014 C1593.07,1013.27 1596.6,1009.63 1599.4,1009.63 C1602.2,1009.63 1605.02,1011.03 1608.6,1014 C1612.18,1016.97 1616.82,1023.13 1620.9,1027.44 C1624.98,1031.75 1629.03,1036.68 1633.1,1039.87 C1637.17,1043.06 1641.6,1045.14 1645.3,1046.59 C1649,1048.05 1653.63,1048.27 1655.3,1048.61" fill="none" stroke="#000" stroke-width="3.8" stroke-linejoin="round"/><path d="M1663.8,1049.95 C1665.58,1049.73 1670.93,1049.22 1674.5,1048.61 C1678.07,1047.99 1683.42,1046.65 1685.2,1046.26" fill="none" stroke="#000" stroke-width="3.8" stroke-linejoin="round"/><path d="M1693.6,1044.24 C1694.75,1040.6 1697.82,1031.92 1700.5,1022.4 C1703.18,1012.88 1707.15,995.8 1709.7,987.12 C1712.25,978.44 1713.75,974.07 1715.8,970.32 C1717.85,966.57 1719.45,964.89 1722,964.61 C1724.55,964.33 1727.03,966.29 1731.1,968.64 C1735.17,970.99 1743.85,977.04 1746.4,978.72" fill="none" stroke="#000" stroke-width="3.8" stroke-linejoin="round"/><path d="M1488.4,1062.38 C1490.83,1061.1 1497.77,1057.74 1503,1054.66 C1508.23,1051.58 1514.7,1047.71 1519.8,1043.9 C1524.9,1040.1 1529.52,1036.12 1533.6,1031.81 C1537.68,1027.5 1540.98,1022.9 1544.3,1018.03 C1547.62,1013.16 1550.68,1006.78 1553.5,1002.58 C1556.32,998.38 1558.65,993.34 1561.2,992.83 C1563.75,992.33 1566.52,996.86 1568.8,999.55 C1571.08,1002.24 1572.6,1005.88 1574.9,1008.96 C1577.2,1012.04 1581.32,1016.52 1582.6,1018.03" fill="none" stroke="#14a058" stroke-width="4" stroke-linejoin="round"/><path d="M1591.8,1010.3 C1593.07,1009.58 1596.6,1005.94 1599.4,1005.94 C1602.2,1005.94 1605.02,1007.28 1608.6,1010.3 C1612.18,1013.33 1616.82,1019.71 1620.9,1024.08 C1624.98,1028.45 1629.03,1033.32 1633.1,1036.51 C1637.17,1039.7 1641.6,1041.83 1645.3,1043.23 C1649,1044.63 1653.63,1044.63 1655.3,1044.91" fill="none" stroke="#14a058" stroke-width="4" stroke-linejoin="round"/><path d="M1663.8,1045.58 C1665.58,1045.3 1670.93,1044.69 1674.5,1043.9 C1678.07,1043.12 1683.42,1041.38 1685.2,1040.88" fill="none" stroke="#14a058" stroke-width="4" stroke-linejoin="round"/><path d="M1693.6,1040.88 C1694.75,1037.35 1697.82,1029.12 1700.5,1019.71 C1703.18,1010.3 1707.15,993.11 1709.7,984.43 C1712.25,975.75 1713.75,971.5 1715.8,967.63 C1717.85,963.77 1719.45,961.25 1722,961.25 C1724.55,961.25 1727.03,963.88 1731.1,967.63 C1735.17,971.38 1743.85,981.07 1746.4,983.76" fill="none" stroke="#14a058" stroke-width="4" stroke-linejoin="round"/><rect x="1922.4" y="936.5" width="65" height="176" fill="#e0e0e0"/><line x1="1876.4" y1="939" x2="1876.4" y2="1112" stroke="#c0c0c0" stroke-width="3.1" stroke-dasharray="6 9.8"/><line x1="2025.4" y1="939" x2="2025.4" y2="1112" stroke="#c0c0c0" stroke-width="3.1" stroke-dasharray="6 9.8"/><line x1="1815.4" y1="1056" x2="2079.4" y2="1056" stroke="#c0c0c0" stroke-width="2.9" stroke-dasharray="6.5 8"/><path d="M1818.6,1058.96 C1822.65,1057.05 1836,1051.61 1842.9,1047.53 C1849.8,1043.46 1855.23,1038.66 1860,1034.52 C1864.77,1030.38 1868.87,1027.28 1871.5,1022.67 C1874.13,1018.07 1873.9,1011.38 1875.8,1006.89 C1877.7,1002.4 1880.53,998.51 1882.9,995.72 C1885.27,992.93 1887.38,991.07 1890,990.14 C1892.62,989.21 1895.97,988.74 1898.6,990.14 C1901.23,991.54 1903.3,996.02 1905.8,998.54 C1908.3,1001.06 1912.3,1004.14 1913.6,1005.26 L1913.6,1016.02 C1912.3,1014.9 1908.3,1011.82 1905.8,1009.3 C1903.3,1006.78 1901.23,1002.3 1898.6,1000.9 C1895.97,999.5 1892.62,1000.15 1890,1000.9 C1887.38,1001.65 1885.27,1003.15 1882.9,1005.4 C1880.53,1007.65 1877.7,1010.48 1875.8,1014.39 C1873.9,1018.3 1874.13,1025.05 1871.5,1028.85 C1868.87,1032.64 1864.77,1033.69 1860,1037.16 C1855.23,1040.63 1849.8,1045.69 1842.9,1049.68 C1836,1053.67 1822.65,1059.2 1818.6,1061.11Z" fill="#555" fill-opacity="0.6"/><path d="M1922.9,999.35 C1924.33,999.07 1928.4,997.11 1931.5,997.67 C1934.6,998.23 1937.68,999.35 1941.5,1002.71 C1945.32,1006.07 1949.4,1012.23 1954.4,1017.83 C1959.4,1023.43 1966.27,1031.83 1971.5,1036.31 C1976.73,1040.79 1983.42,1043.31 1985.8,1044.71 L1985.8,1057.21 C1983.42,1055.81 1976.73,1053.29 1971.5,1048.81 C1966.27,1044.33 1959.4,1035.93 1954.4,1030.33 C1949.4,1024.73 1945.32,1018.57 1941.5,1015.21 C1937.68,1011.85 1934.6,1010.73 1931.5,1010.17 C1928.4,1009.61 1924.33,1011.57 1922.9,1011.85Z" fill="#555" fill-opacity="0.6"/><path d="M1994.4,1047.47 C1996.3,1047.24 2001.98,1047.3 2005.8,1046.12 C2009.62,1044.95 2015.38,1041.36 2017.3,1040.41 L2017.3,1049.41 C2015.38,1050.37 2009.62,1053.95 2005.8,1055.13 C2001.98,1056.3 1996.3,1056.25 1994.4,1056.47Z" fill="#555" fill-opacity="0.6"/><path d="M2024.4,1036.24 C2025.12,1033.33 2027.03,1026.44 2028.7,1018.77 C2030.37,1011.1 2032.02,998.61 2034.4,990.21 C2036.78,981.81 2040.62,973.69 2043,968.37 C2045.38,963.05 2046.32,959.41 2048.7,958.29 C2051.08,957.17 2054.43,960.53 2057.3,961.65 C2060.17,962.77 2062.33,963.61 2065.9,965.01 C2069.47,966.41 2076.57,969.21 2078.7,970.05 L2078.7,977.31 C2076.57,976.47 2069.47,973.67 2065.9,972.27 C2062.33,970.87 2060.17,970.03 2057.3,968.91 C2054.43,967.79 2051.08,964.43 2048.7,965.55 C2046.32,966.67 2045.38,970.31 2043,975.63 C2040.62,980.95 2036.78,989.07 2034.4,997.47 C2032.02,1005.87 2030.37,1018.36 2028.7,1026.03 C2027.03,1033.7 2025.12,1040.59 2024.4,1043.5Z" fill="#555" fill-opacity="0.6"/><path d="M1818.6,1059.13 C1822.65,1057.23 1836,1051.77 1842.9,1047.71 C1849.8,1043.64 1855.23,1038.82 1860,1034.73 C1864.77,1030.64 1868.87,1028.05 1871.5,1023.17 C1874.13,1018.3 1873.9,1010.49 1875.8,1005.49 C1877.7,1000.48 1880.53,996.23 1882.9,993.15 C1885.27,990.06 1887.38,988.24 1890,986.99 C1892.62,985.73 1895.97,984.24 1898.6,985.64 C1901.23,987.04 1903.3,992.53 1905.8,995.39 C1908.3,998.24 1912.3,1001.55 1913.6,1002.78 L1913.6,1011.78 C1912.3,1010.55 1908.3,1007.25 1905.8,1004.39 C1903.3,1001.53 1901.23,996.05 1898.6,994.65 C1895.97,993.25 1892.62,994.89 1890,995.99 C1887.38,997.09 1885.27,998.62 1882.9,1001.25 C1880.53,1003.88 1877.7,1007.25 1875.8,1011.76 C1873.9,1016.28 1874.13,1024.15 1871.5,1028.35 C1868.87,1032.54 1864.77,1033.42 1860,1036.95 C1855.23,1040.47 1849.8,1045.51 1842.9,1049.51 C1836,1053.51 1822.65,1059.03 1818.6,1060.93Z" fill="#3dbb78" fill-opacity="0.65"/><path d="M1922.9,995.32 C1924.33,995.04 1928.4,992.97 1931.5,993.64 C1934.6,994.31 1937.68,995.99 1941.5,999.35 C1945.32,1002.71 1949.4,1008.31 1954.4,1013.8 C1959.4,1019.29 1966.27,1027.97 1971.5,1032.28 C1976.73,1036.59 1983.42,1038.44 1985.8,1039.67 L1985.8,1052.17 C1983.42,1050.94 1976.73,1049.09 1971.5,1044.78 C1966.27,1040.47 1959.4,1031.79 1954.4,1026.3 C1949.4,1020.81 1945.32,1015.21 1941.5,1011.85 C1937.68,1008.49 1934.6,1006.81 1931.5,1006.14 C1928.4,1005.47 1924.33,1007.54 1922.9,1007.82Z" fill="#3dbb78" fill-opacity="0.65"/><path d="M1994.4,1044.11 C1996.3,1043.88 2001.98,1043.94 2005.8,1042.76 C2009.62,1041.59 2015.38,1038 2017.3,1037.05 L2017.3,1046.05 C2015.38,1047.01 2009.62,1050.59 2005.8,1051.77 C2001.98,1052.94 1996.3,1052.89 1994.4,1053.11Z" fill="#3dbb78" fill-opacity="0.65"/><path d="M2024.4,1036.24 C2025.12,1032.94 2027.03,1024.48 2028.7,1016.42 C2030.37,1008.36 2032.02,995.98 2034.4,987.86 C2036.78,979.74 2040.62,972.96 2043,967.7 C2045.38,962.44 2046.32,957.45 2048.7,956.28 C2051.08,955.1 2054.43,959.19 2057.3,960.64 C2060.17,962.1 2062.33,962.6 2065.9,965.01 C2069.47,967.42 2076.57,973.41 2078.7,975.09 L2078.7,982.35 C2076.57,980.67 2069.47,974.68 2065.9,972.27 C2062.33,969.86 2060.17,969.36 2057.3,967.9 C2054.43,966.44 2051.08,962.36 2048.7,963.53 C2046.32,964.71 2045.38,969.69 2043,974.96 C2040.62,980.22 2036.78,987 2034.4,995.12 C2032.02,1003.24 2030.37,1015.61 2028.7,1023.68 C2027.03,1031.74 2025.12,1040.2 2024.4,1043.5Z" fill="#3dbb78" fill-opacity="0.65"/><path d="M1818.6,1060.03 C1822.65,1058.13 1836,1052.64 1842.9,1048.61 C1849.8,1044.58 1855.23,1039.65 1860,1035.84 C1864.77,1032.03 1868.87,1029.96 1871.5,1025.76 C1874.13,1021.56 1873.9,1014.84 1875.8,1010.64 C1877.7,1006.44 1880.53,1003.08 1882.9,1000.56 C1885.27,998.04 1887.38,996.36 1890,995.52 C1892.62,994.68 1895.97,994.12 1898.6,995.52 C1901.23,996.92 1903.3,1001.4 1905.8,1003.92 C1908.3,1006.44 1912.3,1009.52 1913.6,1010.64" fill="none" stroke="#000" stroke-width="3.8" stroke-linejoin="round"/><path d="M1922.9,1005.6 C1924.33,1005.32 1928.4,1003.36 1931.5,1003.92 C1934.6,1004.48 1937.68,1005.6 1941.5,1008.96 C1945.32,1012.32 1949.4,1018.48 1954.4,1024.08 C1959.4,1029.68 1966.27,1038.08 1971.5,1042.56 C1976.73,1047.04 1983.42,1049.56 1985.8,1050.96" fill="none" stroke="#000" stroke-width="3.8" stroke-linejoin="round"/><path d="M1994.4,1051.97 C1996.3,1051.74 2001.98,1051.8 2005.8,1050.62 C2009.62,1049.45 2015.38,1045.86 2017.3,1044.91" fill="none" stroke="#000" stroke-width="3.8" stroke-linejoin="round"/><path d="M2024.4,1039.87 C2025.12,1036.96 2027.03,1030.07 2028.7,1022.4 C2030.37,1014.73 2032.02,1002.24 2034.4,993.84 C2036.78,985.44 2040.62,977.32 2043,972 C2045.38,966.68 2046.32,963.04 2048.7,961.92 C2051.08,960.8 2054.43,964.16 2057.3,965.28 C2060.17,966.4 2062.33,967.24 2065.9,968.64 C2069.47,970.04 2076.57,972.84 2078.7,973.68" fill="none" stroke="#000" stroke-width="3.8" stroke-linejoin="round"/><path d="M1818.6,1060.03 C1822.65,1058.13 1836,1052.64 1842.9,1048.61 C1849.8,1044.58 1855.23,1039.65 1860,1035.84 C1864.77,1032.03 1868.87,1030.3 1871.5,1025.76 C1874.13,1021.22 1873.9,1013.38 1875.8,1008.62 C1877.7,1003.86 1880.53,1000.06 1882.9,997.2 C1885.27,994.34 1887.38,992.66 1890,991.49 C1892.62,990.31 1895.97,988.74 1898.6,990.14 C1901.23,991.54 1903.3,997.03 1905.8,999.89 C1908.3,1002.74 1912.3,1006.05 1913.6,1007.28" fill="none" stroke="#14a058" stroke-width="4" stroke-linejoin="round"/><path d="M1922.9,1001.57 C1924.33,1001.29 1928.4,999.22 1931.5,999.89 C1934.6,1000.56 1937.68,1002.24 1941.5,1005.6 C1945.32,1008.96 1949.4,1014.56 1954.4,1020.05 C1959.4,1025.54 1966.27,1034.22 1971.5,1038.53 C1976.73,1042.84 1983.42,1044.69 1985.8,1045.92" fill="none" stroke="#14a058" stroke-width="4" stroke-linejoin="round"/><path d="M1994.4,1048.61 C1996.3,1048.38 2001.98,1048.44 2005.8,1047.26 C2009.62,1046.09 2015.38,1042.5 2017.3,1041.55" fill="none" stroke="#14a058" stroke-width="4" stroke-linejoin="round"/><path d="M2024.4,1039.87 C2025.12,1036.57 2027.03,1028.11 2028.7,1020.05 C2030.37,1011.98 2032.02,999.61 2034.4,991.49 C2036.78,983.37 2040.62,976.59 2043,971.33 C2045.38,966.06 2046.32,961.08 2048.7,959.9 C2051.08,958.73 2054.43,962.82 2057.3,964.27 C2060.17,965.73 2062.33,966.23 2065.9,968.64 C2069.47,971.05 2076.57,977.04 2078.7,978.72" fill="none" stroke="#14a058" stroke-width="4" stroke-linejoin="round"/><line x1="1145" y1="935" x2="1145" y2="1116.5" stroke="#000" stroke-width="3.4"/><line x1="1137.5" y1="1089.6" x2="1145" y2="1089.6" stroke="#000" stroke-width="3"/><line x1="1137.5" y1="1056" x2="1145" y2="1056" stroke="#000" stroke-width="3"/><line x1="1137.5" y1="1022.4" x2="1145" y2="1022.4" stroke="#000" stroke-width="3"/><line x1="1137.5" y1="988.8" x2="1145" y2="988.8" stroke="#000" stroke-width="3"/><line x1="1137.5" y1="955.2" x2="1145" y2="955.2" stroke="#000" stroke-width="3"/><text x="1128" y="968.5" font-size="37.5" text-anchor="end" fill="#000">3</text><text x="1128" y="1035.7" font-size="37.5" text-anchor="end" fill="#000">1</text><text x="1128" y="1102.9" font-size="37.5" text-anchor="end" fill="#000">-1</text><text x="1091" y="1015" font-size="38" text-anchor="middle" fill="#000" transform="rotate(-90 1091 1015)">SDUs</text><text x="1384" y="272" font-size="37" text-anchor="start" fill="#000">Left HS</text><text x="1384" y="313.5" font-size="37" text-anchor="start" fill="#7aab3a">Right HS</text><line x1="1145" y1="1115" x2="1247.5" y2="1115" stroke="#000" stroke-width="2.9"/><line x1="1257.9" y1="1115" x2="1323.5" y2="1115" stroke="#000" stroke-width="2.9"/><line x1="1331.3" y1="1115" x2="1354.2" y2="1115" stroke="#000" stroke-width="2.9"/><line x1="1363.5" y1="1115" x2="1404.4" y2="1115" stroke="#000" stroke-width="2.9"/><line x1="1250" y1="1108" x2="1245" y2="1121.5" stroke="#000" stroke-width="2.5"/><line x1="1260.4" y1="1108" x2="1255.4" y2="1121.5" stroke="#000" stroke-width="2.5"/><line x1="1326" y1="1108" x2="1321" y2="1121.5" stroke="#000" stroke-width="2.5"/><line x1="1333.8" y1="1108" x2="1328.8" y2="1121.5" stroke="#000" stroke-width="2.5"/><line x1="1356.7" y1="1108" x2="1351.7" y2="1121.5" stroke="#000" stroke-width="2.5"/><line x1="1366" y1="1108" x2="1361" y2="1121.5" stroke="#000" stroke-width="2.5"/><line x1="1175.8" y1="1115" x2="1175.8" y2="1123.3" stroke="#000" stroke-width="2.8"/><line x1="1203.1" y1="1115" x2="1203.1" y2="1123.3" stroke="#000" stroke-width="2.8"/><line x1="1230.4" y1="1115" x2="1230.4" y2="1123.3" stroke="#000" stroke-width="2.8"/><line x1="1285" y1="1115" x2="1285" y2="1123.3" stroke="#000" stroke-width="2.8"/><line x1="1312.3" y1="1115" x2="1312.3" y2="1123.3" stroke="#000" stroke-width="2.8"/><line x1="1339.6" y1="1115" x2="1339.6" y2="1123.3" stroke="#000" stroke-width="2.8"/><line x1="1366.9" y1="1115" x2="1366.9" y2="1123.3" stroke="#000" stroke-width="2.8"/><line x1="1394.2" y1="1115" x2="1394.2" y2="1123.3" stroke="#000" stroke-width="2.8"/><text x="1201.9" y="1156.5" font-size="37.5" text-anchor="middle" fill="#000">-1</text><text x="1257.7" y="1156.5" font-size="37.5" text-anchor="middle" fill="#000">0</text><text x="1312.9" y="1156.5" font-size="37.5" text-anchor="middle" fill="#000">1</text><text x="1365.9" y="1156.5" font-size="37.5" text-anchor="middle" fill="#000">2</text><text x="1289.9" y="1192.3" font-size="37.5" text-anchor="middle" fill="#000">time (s)</text><line x1="1475.2" y1="1115" x2="1578.5" y2="1115" stroke="#000" stroke-width="2.9"/><line x1="1588.9" y1="1115" x2="1654.5" y2="1115" stroke="#000" stroke-width="2.9"/><line x1="1662.3" y1="1115" x2="1685.2" y2="1115" stroke="#000" stroke-width="2.9"/><line x1="1694.5" y1="1115" x2="1735.4" y2="1115" stroke="#000" stroke-width="2.9"/><line x1="1581" y1="1108" x2="1576" y2="1121.5" stroke="#000" stroke-width="2.5"/><line x1="1591.4" y1="1108" x2="1586.4" y2="1121.5" stroke="#000" stroke-width="2.5"/><line x1="1657" y1="1108" x2="1652" y2="1121.5" stroke="#000" stroke-width="2.5"/><line x1="1664.8" y1="1108" x2="1659.8" y2="1121.5" stroke="#000" stroke-width="2.5"/><line x1="1687.7" y1="1108" x2="1682.7" y2="1121.5" stroke="#000" stroke-width="2.5"/><line x1="1697" y1="1108" x2="1692" y2="1121.5" stroke="#000" stroke-width="2.5"/><line x1="1506.8" y1="1115" x2="1506.8" y2="1123.3" stroke="#000" stroke-width="2.8"/><line x1="1534.1" y1="1115" x2="1534.1" y2="1123.3" stroke="#000" stroke-width="2.8"/><line x1="1561.4" y1="1115" x2="1561.4" y2="1123.3" stroke="#000" stroke-width="2.8"/><line x1="1616" y1="1115" x2="1616" y2="1123.3" stroke="#000" stroke-width="2.8"/><line x1="1643.3" y1="1115" x2="1643.3" y2="1123.3" stroke="#000" stroke-width="2.8"/><line x1="1670.6" y1="1115" x2="1670.6" y2="1123.3" stroke="#000" stroke-width="2.8"/><line x1="1697.9" y1="1115" x2="1697.9" y2="1123.3" stroke="#000" stroke-width="2.8"/><line x1="1725.2" y1="1115" x2="1725.2" y2="1123.3" stroke="#000" stroke-width="2.8"/><text x="1532.9" y="1156.5" font-size="37.5" text-anchor="middle" fill="#000">-1</text><text x="1588.7" y="1156.5" font-size="37.5" text-anchor="middle" fill="#000">0</text><text x="1643.9" y="1156.5" font-size="37.5" text-anchor="middle" fill="#000">1</text><text x="1696.9" y="1156.5" font-size="37.5" text-anchor="middle" fill="#000">2</text><text x="1620.9" y="1192.3" font-size="37.5" text-anchor="middle" fill="#000">time (s)</text><line x1="1806.2" y1="1115" x2="1909.5" y2="1115" stroke="#000" stroke-width="2.9"/><line x1="1919.9" y1="1115" x2="1985.5" y2="1115" stroke="#000" stroke-width="2.9"/><line x1="1993.3" y1="1115" x2="2016.2" y2="1115" stroke="#000" stroke-width="2.9"/><line x1="2025.5" y1="1115" x2="2066.4" y2="1115" stroke="#000" stroke-width="2.9"/><line x1="1912" y1="1108" x2="1907" y2="1121.5" stroke="#000" stroke-width="2.5"/><line x1="1922.4" y1="1108" x2="1917.4" y2="1121.5" stroke="#000" stroke-width="2.5"/><line x1="1988" y1="1108" x2="1983" y2="1121.5" stroke="#000" stroke-width="2.5"/><line x1="1995.8" y1="1108" x2="1990.8" y2="1121.5" stroke="#000" stroke-width="2.5"/><line x1="2018.7" y1="1108" x2="2013.7" y2="1121.5" stroke="#000" stroke-width="2.5"/><line x1="2028" y1="1108" x2="2023" y2="1121.5" stroke="#000" stroke-width="2.5"/><line x1="1837.8" y1="1115" x2="1837.8" y2="1123.3" stroke="#000" stroke-width="2.8"/><line x1="1865.1" y1="1115" x2="1865.1" y2="1123.3" stroke="#000" stroke-width="2.8"/><line x1="1892.4" y1="1115" x2="1892.4" y2="1123.3" stroke="#000" stroke-width="2.8"/><line x1="1947" y1="1115" x2="1947" y2="1123.3" stroke="#000" stroke-width="2.8"/><line x1="1974.3" y1="1115" x2="1974.3" y2="1123.3" stroke="#000" stroke-width="2.8"/><line x1="2001.6" y1="1115" x2="2001.6" y2="1123.3" stroke="#000" stroke-width="2.8"/><line x1="2028.9" y1="1115" x2="2028.9" y2="1123.3" stroke="#000" stroke-width="2.8"/><line x1="2056.2" y1="1115" x2="2056.2" y2="1123.3" stroke="#000" stroke-width="2.8"/><text x="1863.9" y="1156.5" font-size="37.5" text-anchor="middle" fill="#000">-1</text><text x="1919.7" y="1156.5" font-size="37.5" text-anchor="middle" fill="#000">0</text><text x="1974.9" y="1156.5" font-size="37.5" text-anchor="middle" fill="#000">1</text><text x="2027.9" y="1156.5" font-size="37.5" text-anchor="middle" fill="#000">2</text><text x="1951.9" y="1192.3" font-size="37.5" text-anchor="middle" fill="#000">time (s)</text><text x="5" y="1309" font-size="77" text-anchor="start" fill="#000" font-weight="bold">c</text><text x="547" y="1305.3" font-size="46.3" text-anchor="middle" fill="#000">Movement</text><text x="596.5" y="1678.6" font-size="38.8" text-anchor="middle" fill="#000" font-weight="bold">Task</text><rect x="173.6" y="1336.4" width="312.4" height="271.6" fill="#fdf0f0"/><rect x="486" y="1336.4" width="228.6" height="271.6" fill="#f0fbf0"/><rect x="714.6" y="1336.4" width="228.4" height="271.6" fill="#f0f0fc"/><text x="371.5" y="1375.7" font-size="38" text-anchor="middle" fill="#e8141c" font-weight="bold">EMX</text><text x="601.9" y="1375.7" font-size="38" text-anchor="middle" fill="#22cc33" font-weight="bold">IT</text><text x="829.5" y="1375.7" font-size="38" text-anchor="middle" fill="#1010d8" font-weight="bold">PT</text><g transform="translate(366.2,1395.7)"><g clip-path="url(#bclip)"><g clip-path="url(#rtop)"><g filter="url(#inf5)"><rect x="-130" y="-40" width="260" height="120" fill="#dbdbdb"/><ellipse cx="-18" cy="15" rx="12" ry="10" fill="#ebebeb"/><ellipse cx="18" cy="15" rx="12" ry="10" fill="#ebebeb"/><ellipse cx="15" cy="22" rx="10" ry="10" fill="#d9d9d9"/><use href="#bpath" fill="none" stroke="#c2c2c2" stroke-width="6"/></g></g><g clip-path="url(#rbot)"><g filter="url(#inf5)"><rect x="-130" y="0" width="260" height="250" fill="#666666"/><ellipse cx="0" cy="48" rx="10" ry="8" fill="#cccccc"/><ellipse cx="-22" cy="62" rx="6" ry="16" fill="#9e9e9e"/><ellipse cx="22" cy="62" rx="6" ry="16" fill="#9e9e9e"/><ellipse cx="-40" cy="62" rx="12" ry="12" fill="#666666"/><ellipse cx="40" cy="62" rx="12" ry="12" fill="#666666"/><ellipse cx="-48" cy="82" rx="14" ry="12" fill="#b2b2b2"/><ellipse cx="48" cy="82" rx="14" ry="12" fill="#b2b2b2"/><ellipse cx="-44" cy="115" rx="28" ry="32" fill="#cccccc"/><ellipse cx="44" cy="115" rx="28" ry="32" fill="#cccccc"/><ellipse cx="-44" cy="116" rx="20" ry="23" fill="#ededed"/><ellipse cx="44" cy="116" rx="20" ry="23" fill="#ededed"/><ellipse cx="-43" cy="117" rx="12" ry="15" fill="#ffffff"/><ellipse cx="43" cy="117" rx="12" ry="15" fill="#ffffff"/><ellipse cx="-62" cy="140" rx="10" ry="9" fill="#adadad"/><ellipse cx="62" cy="140" rx="10" ry="9" fill="#adadad"/><ellipse cx="-6" cy="105" rx="6" ry="25" fill="#4c4c4c"/><ellipse cx="6" cy="105" rx="6" ry="25" fill="#4c4c4c"/><ellipse cx="-86" cy="118" rx="8" ry="16" fill="#666666"/><ellipse cx="86" cy="118" rx="8" ry="16" fill="#666666"/><ellipse cx="-74" cy="142" rx="8" ry="7" fill="#999999"/><ellipse cx="74" cy="142" rx="8" ry="7" fill="#999999"/><ellipse cx="-78" cy="164" rx="10" ry="10" fill="#6b6b6b"/><ellipse cx="78" cy="164" rx="10" ry="10" fill="#6b6b6b"/><ellipse cx="-50" cy="182" rx="20" ry="14" fill="#666666"/><ellipse cx="50" cy="182" rx="20" ry="14" fill="#666666"/><ellipse cx="-16" cy="172" rx="9" ry="26" fill="#333333"/><ellipse cx="16" cy="172" rx="9" ry="26" fill="#333333"/></g></g><use href="#atlas" stroke="#ffd8f0" stroke-width="1.1" stroke-opacity="0.9"/></g><use href="#bpath" fill="none" stroke="#000" stroke-width="1"/></g><g transform="translate(597,1395.7)"><g clip-path="url(#bclip)"><g clip-path="url(#rtop)"><g filter="url(#inf5)"><rect x="-130" y="-40" width="260" height="120" fill="#b2b2b2"/><ellipse cx="-30" cy="10" rx="10" ry="8" fill="#999999"/><ellipse cx="30" cy="10" rx="10" ry="8" fill="#999999"/><use href="#bpath" fill="none" stroke="#9e9e9e" stroke-width="6"/></g></g><g clip-path="url(#rbot)"><g filter="url(#inf5)"><rect x="-130" y="0" width="260" height="250" fill="#b2b2b2"/><ellipse cx="-30" cy="60" rx="20" ry="18" fill="#d1d1d1"/><ellipse cx="30" cy="60" rx="20" ry="18" fill="#d1d1d1"/><ellipse cx="-8" cy="80" rx="8" ry="20" fill="#bdbdbd"/><ellipse cx="8" cy="80" rx="8" ry="20" fill="#bdbdbd"/><ellipse cx="-40" cy="128" rx="30" ry="26" fill="#dbdbdb"/><ellipse cx="40" cy="128" rx="30" ry="26" fill="#dbdbdb"/><ellipse cx="-36" cy="132" rx="20" ry="17" fill="#f5f5f5"/><ellipse cx="36" cy="132" rx="20" ry="17" fill="#f5f5f5"/><ellipse cx="-14" cy="143" rx="14" ry="12" fill="#f0f0f0"/><ellipse cx="14" cy="143" rx="14" ry="12" fill="#f0f0f0"/><ellipse cx="-88" cy="110" rx="9" ry="24" fill="#9e9e9e"/><ellipse cx="88" cy="110" rx="9" ry="24" fill="#9e9e9e"/><ellipse cx="-55" cy="188" rx="24" ry="14" fill="#8f8f8f"/><ellipse cx="55" cy="188" rx="24" ry="14" fill="#8f8f8f"/><ellipse cx="-80" cy="160" rx="10" ry="12" fill="#999999"/><ellipse cx="80" cy="160" rx="10" ry="12" fill="#999999"/><ellipse cx="-20" cy="185" rx="10" ry="14" fill="#9e9e9e"/><ellipse cx="20" cy="185" rx="10" ry="14" fill="#9e9e9e"/><ellipse cx="-60" cy="75" rx="14" ry="14" fill="#c7c7c7"/><ellipse cx="60" cy="75" rx="14" ry="14" fill="#c7c7c7"/><ellipse cx="-70" cy="115" rx="8" ry="10" fill="#d1d1d1"/><ellipse cx="70" cy="115" rx="8" ry="10" fill="#d1d1d1"/></g></g><use href="#atlas" stroke="#ffd8f0" stroke-width="1.1" stroke-opacity="0.9"/></g><use href="#bpath" fill="none" stroke="#000" stroke-width="1"/></g><g transform="translate(822.9,1395.7)"><g clip-path="url(#bclip)"><g clip-path="url(#rtop)"><g filter="url(#inf5)"><rect x="-130" y="-40" width="260" height="120" fill="#9e9e9e"/><ellipse cx="-30" cy="12" rx="10" ry="8" fill="#8c8c8c"/><ellipse cx="30" cy="12" rx="10" ry="8" fill="#8c8c8c"/><use href="#bpath" fill="none" stroke="#8c8c8c" stroke-width="6"/></g></g><g clip-path="url(#rbot)"><g filter="url(#inf5)"><rect x="-130" y="0" width="260" height="250" fill="#adadad"/><ellipse cx="-25" cy="58" rx="22" ry="20" fill="#707070"/><ellipse cx="25" cy="58" rx="22" ry="20" fill="#707070"/><ellipse cx="-28" cy="55" rx="12" ry="10" fill="#5c5c5c"/><ellipse cx="28" cy="55" rx="12" ry="10" fill="#5c5c5c"/><ellipse cx="-8" cy="70" rx="6" ry="12" fill="#8c8c8c"/><ellipse cx="8" cy="70" rx="6" ry="12" fill="#8c8c8c"/><ellipse cx="-38" cy="136" rx="24" ry="20" fill="#dbdbdb"/><ellipse cx="38" cy="136" rx="24" ry="20" fill="#dbdbdb"/><ellipse cx="-30" cy="140" rx="15" ry="13" fill="#f7f7f7"/><ellipse cx="30" cy="140" rx="15" ry="13" fill="#f7f7f7"/><ellipse cx="0" cy="146" rx="13" ry="12" fill="#f2f2f2"/><ellipse cx="-82" cy="110" rx="10" ry="26" fill="#7a7a7a"/><ellipse cx="82" cy="110" rx="10" ry="26" fill="#7a7a7a"/><ellipse cx="-60" cy="100" rx="10" ry="12" fill="#9e9e9e"/><ellipse cx="60" cy="100" rx="10" ry="12" fill="#9e9e9e"/><ellipse cx="-75" cy="70" rx="10" ry="10" fill="#999999"/><ellipse cx="75" cy="70" rx="10" ry="10" fill="#999999"/><ellipse cx="-55" cy="186" rx="22" ry="12" fill="#c2c2c2"/><ellipse cx="55" cy="186" rx="22" ry="12" fill="#c2c2c2"/></g></g><use href="#atlas" stroke="#ffd8f0" stroke-width="1.1" stroke-opacity="0.9"/></g><path d="M-44,18 L-8,-2 L-50,-2 Z" fill="#f0f0fc"/><path d="M-42.8,17.5 C-42,11 -37,3.5 -27.5,0.6 C-20,-0.6 -13,0 -6.5,0.6" fill="none" stroke="#000" stroke-width="0.9"/><use href="#bpath" fill="none" stroke="#000" stroke-width="1"/></g><rect x="222.5" y="1457" width="13" height="104" fill="url(#inf)" stroke="#000" stroke-width="1.2"/><text x="228.5" y="1448" font-size="37.5" text-anchor="middle" fill="#000">0.3</text><text x="228.5" y="1596.7" font-size="37.5" text-anchor="middle" fill="#000">0</text><text x="213.5" y="1509.8" font-size="37.5" text-anchor="middle" fill="#000" transform="rotate(-90 213.5 1509.8)">&#916;R<tspan font-size="22" dy="-14">2</tspan></text><rect x="173.6" y="1693.7" width="312.4" height="272.3" fill="#fdf0f0"/><rect x="486" y="1693.7" width="228.6" height="272.3" fill="#f0fbf0"/><rect x="714.6" y="1693.7" width="228.4" height="272.3" fill="#f0f0fc"/><text x="371.5" y="1733" font-size="38" text-anchor="middle" fill="#e8141c" font-weight="bold">EMX</text><text x="601.9" y="1733" font-size="38" text-anchor="middle" fill="#22cc33" font-weight="bold">IT</text><text x="829.5" y="1733" font-size="38" text-anchor="middle" fill="#1010d8" font-weight="bold">PT</text><g transform="translate(366.2,1755.4)"><g clip-path="url(#bclip)"><g clip-path="url(#rtop)"><g filter="url(#inf5)"><rect x="-130" y="-40" width="260" height="120" fill="#3d3d3d"/><ellipse cx="-18" cy="16" rx="12" ry="10" fill="#2e2e2e"/><ellipse cx="18" cy="16" rx="12" ry="10" fill="#2e2e2e"/><use href="#bpath" fill="none" stroke="#474747" stroke-width="6"/></g></g><g clip-path="url(#rbot)"><g filter="url(#inf5)"><rect x="-130" y="0" width="260" height="250" fill="#707070"/><ellipse cx="-26" cy="63" rx="20" ry="17" fill="#cccccc"/><ellipse cx="26" cy="63" rx="20" ry="17" fill="#cccccc"/><ellipse cx="-26" cy="62" rx="12" ry="11" fill="#f5f5f5"/><ellipse cx="26" cy="62" rx="12" ry="11" fill="#f5f5f5"/><ellipse cx="-65" cy="85" rx="13" ry="12" fill="#b2b2b2"/><ellipse cx="65" cy="85" rx="13" ry="12" fill="#b2b2b2"/><ellipse cx="0" cy="80" rx="7" ry="18" fill="#999999"/><ellipse cx="-88" cy="115" rx="9" ry="20" fill="#999999"/><ellipse cx="88" cy="115" rx="9" ry="20" fill="#999999"/><ellipse cx="-80" cy="145" rx="9" ry="10" fill="#b2b2b2"/><ellipse cx="80" cy="145" rx="9" ry="10" fill="#b2b2b2"/><ellipse cx="-38" cy="120" rx="17" ry="19" fill="#383838"/><ellipse cx="38" cy="120" rx="17" ry="19" fill="#383838"/><ellipse cx="-20" cy="150" rx="10" ry="14" fill="#525252"/><ellipse cx="20" cy="150" rx="10" ry="14" fill="#525252"/><ellipse cx="-45" cy="182" rx="22" ry="14" fill="#5c5c5c"/><ellipse cx="45" cy="182" rx="22" ry="14" fill="#5c5c5c"/><ellipse cx="-10" cy="170" rx="7" ry="20" fill="#4c4c4c"/><ellipse cx="10" cy="170" rx="7" ry="20" fill="#4c4c4c"/></g></g><use href="#atlas" stroke="#ffd8f0" stroke-width="1.1" stroke-opacity="0.9"/></g><use href="#bpath" fill="none" stroke="#000" stroke-width="1"/></g><g transform="translate(597,1755.4)"><g clip-path="url(#bclip)"><g clip-path="url(#rtop)"><g filter="url(#inf5)"><rect x="-130" y="-40" width="260" height="120" fill="#bdbdbd"/><ellipse cx="-30" cy="12" rx="10" ry="8" fill="#adadad"/><ellipse cx="30" cy="12" rx="10" ry="8" fill="#adadad"/><use href="#bpath" fill="none" stroke="#b2b2b2" stroke-width="6"/></g></g><g clip-path="url(#rbot)"><g filter="url(#inf5)"><rect x="-130" y="0" width="260" height="250" fill="#b8b8b8"/><ellipse cx="-82" cy="125" rx="14" ry="24" fill="#ebebeb"/><ellipse cx="72" cy="82" rx="12" ry="14" fill="#dbdbdb"/><ellipse cx="-84" cy="125" rx="8" ry="12" fill="#f7f7f7"/><ellipse cx="-22" cy="130" rx="13" ry="15" fill="#a1a1a1"/><ellipse cx="22" cy="130" rx="13" ry="15" fill="#a1a1a1"/><ellipse cx="-55" cy="180" rx="22" ry="14" fill="#b2b2b2"/><ellipse cx="55" cy="180" rx="22" ry="14" fill="#b2b2b2"/><ellipse cx="-35" cy="70" rx="17" ry="15" fill="#cccccc"/><ellipse cx="35" cy="70" rx="17" ry="15" fill="#cccccc"/><ellipse cx="-50" cy="110" rx="11" ry="10" fill="#adadad"/><ellipse cx="50" cy="110" rx="11" ry="10" fill="#adadad"/><ellipse cx="-58" cy="160" rx="9" ry="9" fill="#d1d1d1"/><ellipse cx="58" cy="160" rx="9" ry="9" fill="#d1d1d1"/></g></g><use href="#atlas" stroke="#ffd8f0" stroke-width="1.1" stroke-opacity="0.9"/></g><use href="#bpath" fill="none" stroke="#000" stroke-width="1"/></g><g transform="translate(822.9,1755.4)"><g clip-path="url(#bclip)"><g clip-path="url(#rtop)"><g filter="url(#inf5)"><rect x="-130" y="-40" width="260" height="120" fill="#bfbfbf"/><ellipse cx="-30" cy="10" rx="10" ry="8" fill="#a8a8a8"/><ellipse cx="30" cy="10" rx="10" ry="8" fill="#a8a8a8"/><use href="#bpath" fill="none" stroke="#b2b2b2" stroke-width="6"/></g></g><g clip-path="url(#rbot)"><g filter="url(#inf5)"><rect x="-130" y="0" width="260" height="250" fill="#b2b2b2"/><ellipse cx="-20" cy="66" rx="26" ry="24" fill="#e0e0e0"/><ellipse cx="20" cy="66" rx="26" ry="24" fill="#e0e0e0"/><ellipse cx="-17" cy="63" rx="16" ry="15" fill="#f7f7f7"/><ellipse cx="17" cy="63" rx="16" ry="15" fill="#f7f7f7"/><ellipse cx="-40" cy="128" rx="16" ry="16" fill="#808080"/><ellipse cx="40" cy="128" rx="16" ry="16" fill="#808080"/><ellipse cx="-15" cy="150" rx="9" ry="13" fill="#999999"/><ellipse cx="15" cy="150" rx="9" ry="13" fill="#999999"/><ellipse cx="-85" cy="100" rx="9" ry="20" fill="#9e9e9e"/><ellipse cx="85" cy="100" rx="9" ry="20" fill="#9e9e9e"/><ellipse cx="-55" cy="182" rx="22" ry="14" fill="#c2c2c2"/><ellipse cx="55" cy="182" rx="22" ry="14" fill="#c2c2c2"/></g></g><use href="#atlas" stroke="#ffd8f0" stroke-width="1.1" stroke-opacity="0.9"/></g><path d="M-44,12 L-16,-2 L-50,-2 Z" fill="#f0f0fc"/><path d="M-42.8,17.5 C-42,11 -37,3.5 -27.5,0.6 C-20,-0.6 -13,0 -6.5,0.6" fill="none" stroke="#000" stroke-width="0.9"/><use href="#bpath" fill="none" stroke="#000" stroke-width="1"/></g><rect x="222.5" y="1814.7" width="13" height="104.6" fill="url(#inf)" stroke="#000" stroke-width="1.2"/><text x="228.5" y="1806" font-size="37.5" text-anchor="middle" fill="#000">0.03</text><text x="228.5" y="1954" font-size="37.5" text-anchor="middle" fill="#000">0</text><text x="213.5" y="1867" font-size="37.5" text-anchor="middle" fill="#000" transform="rotate(-90 213.5 1867)">&#916;R<tspan font-size="22" dy="-14">2</tspan></text><text x="1024" y="1309" font-size="73" text-anchor="start" fill="#000" font-weight="bold">d</text><text x="1099" y="1304" font-size="45.9" text-anchor="start" fill="#000">Task variables</text><rect x="1128.9" y="1342.1" width="43.74" height="34.15" fill="#fdfa9c"/><rect x="1172.04" y="1342.1" width="43.74" height="34.15" fill="#2b0b52"/><rect x="1215.18" y="1342.1" width="43.74" height="34.15" fill="#5f1270"/><rect x="1258.32" y="1342.1" width="43.74" height="34.15" fill="#f57a15"/><rect x="1301.46" y="1342.1" width="43.74" height="34.15" fill="#e05237"/><rect x="1128.9" y="1375.65" width="43.74" height="34.15" fill="#fdfa9c"/><rect x="1172.04" y="1375.65" width="43.74" height="34.15" fill="#140b2e"/><rect x="1215.18" y="1375.65" width="43.74" height="34.15" fill="#8e2268"/><rect x="1258.32" y="1375.65" width="43.74" height="34.15" fill="#fbf890"/><rect x="1301.46" y="1375.65" width="43.74" height="34.15" fill="#f57d18"/><rect x="1128.9" y="1409.21" width="43.74" height="34.15" fill="#fdfa9c"/><rect x="1172.04" y="1409.21" width="43.74" height="34.15" fill="#230b4c"/><rect x="1215.18" y="1409.21" width="43.74" height="34.15" fill="#b8325a"/><rect x="1258.32" y="1409.21" width="43.74" height="34.15" fill="#f37518"/><rect x="1301.46" y="1409.21" width="43.74" height="34.15" fill="#ec6825"/><rect x="1128.9" y="1442.76" width="43.74" height="34.15" fill="#fdfa9c"/><rect x="1172.04" y="1442.76" width="43.74" height="34.15" fill="#2a0b56"/><rect x="1215.18" y="1442.76" width="43.74" height="34.15" fill="#ae2d5c"/><rect x="1258.32" y="1442.76" width="43.74" height="34.15" fill="#fbf890"/><rect x="1301.46" y="1442.76" width="43.74" height="34.15" fill="#b8325a"/><rect x="1128.9" y="1476.32" width="43.74" height="34.15" fill="#cf404a"/><rect x="1172.04" y="1476.32" width="43.74" height="34.15" fill="#540f6e"/><rect x="1215.18" y="1476.32" width="43.74" height="34.15" fill="#912468"/><rect x="1258.32" y="1476.32" width="43.74" height="34.15" fill="#f9c02a"/><rect x="1301.46" y="1476.32" width="43.74" height="34.15" fill="#fcf894"/><rect x="1128.9" y="1509.87" width="43.74" height="34.15" fill="#8c2168"/><rect x="1172.04" y="1509.87" width="43.74" height="34.15" fill="#6a1670"/><rect x="1215.18" y="1509.87" width="43.74" height="34.15" fill="#fbf890"/><rect x="1258.32" y="1509.87" width="43.74" height="34.15" fill="#f8a510"/><rect x="1301.46" y="1509.87" width="43.74" height="34.15" fill="#eef27a"/><rect x="1128.9" y="1543.42" width="43.74" height="34.15" fill="#cf404a"/><rect x="1172.04" y="1543.42" width="43.74" height="34.15" fill="#621470"/><rect x="1215.18" y="1543.42" width="43.74" height="34.15" fill="#922468"/><rect x="1258.32" y="1543.42" width="43.74" height="34.15" fill="#f37020"/><rect x="1301.46" y="1543.42" width="43.74" height="34.15" fill="#f5d242"/><rect x="1128.9" y="1576.98" width="43.74" height="34.15" fill="#f8f594"/><rect x="1172.04" y="1576.98" width="43.74" height="34.15" fill="#5e1270"/><rect x="1215.18" y="1576.98" width="43.74" height="34.15" fill="#f5801a"/><rect x="1258.32" y="1576.98" width="43.74" height="34.15" fill="#fbf894"/><rect x="1301.46" y="1576.98" width="43.74" height="34.15" fill="#fbf894"/><rect x="1128.9" y="1610.53" width="43.74" height="34.15" fill="#f9a60f"/><rect x="1172.04" y="1610.53" width="43.74" height="34.15" fill="#540f6e"/><rect x="1215.18" y="1610.53" width="43.74" height="34.15" fill="#0f0a26"/><rect x="1258.32" y="1610.53" width="43.74" height="34.15" fill="#63126f"/><rect x="1301.46" y="1610.53" width="43.74" height="34.15" fill="#6a1670"/><rect x="1128.9" y="1644.08" width="43.74" height="34.15" fill="#fbf894"/><rect x="1172.04" y="1644.08" width="43.74" height="34.15" fill="#200b46"/><rect x="1215.18" y="1644.08" width="43.74" height="34.15" fill="#d8473f"/><rect x="1258.32" y="1644.08" width="43.74" height="34.15" fill="#5e1270"/><rect x="1301.46" y="1644.08" width="43.74" height="34.15" fill="#b8345a"/><rect x="1128.9" y="1677.64" width="43.74" height="34.15" fill="#f9b11c"/><rect x="1172.04" y="1677.64" width="43.74" height="34.15" fill="#1c0b40"/><rect x="1215.18" y="1677.64" width="43.74" height="34.15" fill="#8e2268"/><rect x="1258.32" y="1677.64" width="43.74" height="34.15" fill="#63126f"/><rect x="1301.46" y="1677.64" width="43.74" height="34.15" fill="#e85d2c"/><rect x="1128.9" y="1711.19" width="43.74" height="34.15" fill="#fbf894"/><rect x="1172.04" y="1711.19" width="43.74" height="34.15" fill="#520e6c"/><rect x="1215.18" y="1711.19" width="43.74" height="34.15" fill="#de5238"/><rect x="1258.32" y="1711.19" width="43.74" height="34.15" fill="#2e0b58"/><rect x="1301.46" y="1711.19" width="43.74" height="34.15" fill="#5c1270"/><rect x="1128.9" y="1744.75" width="43.74" height="34.15" fill="#fbf894"/><rect x="1172.04" y="1744.75" width="43.74" height="34.15" fill="#4c0e6a"/><rect x="1215.18" y="1744.75" width="43.74" height="34.15" fill="#ea6828"/><rect x="1258.32" y="1744.75" width="43.74" height="34.15" fill="#68156f"/><rect x="1301.46" y="1744.75" width="43.74" height="34.15" fill="#f89c10"/><line x1="1128.9" y1="1476.32" x2="1344.6" y2="1476.32" stroke="#fff" stroke-width="3"/><line x1="1128.9" y1="1610.53" x2="1344.6" y2="1610.53" stroke="#fff" stroke-width="3"/><rect x="1127.6" y="1340.8" width="218.3" height="438.8" fill="none" stroke="#000" stroke-width="2.6"/><text x="1113" y="1407" font-size="38" text-anchor="middle" fill="#e8141c" font-weight="bold" transform="rotate(-90 1113 1407)">EMX</text><text x="1113" y="1544.5" font-size="38" text-anchor="middle" fill="#22cc33" font-weight="bold" transform="rotate(-90 1113 1544.5)">IT</text><text x="1113" y="1691.5" font-size="38" text-anchor="middle" fill="#1010d8" font-weight="bold" transform="rotate(-90 1113 1691.5)">PT</text><rect x="1362" y="1424" width="13" height="105.5" fill="url(#inf)" stroke="#000" stroke-width="1.2"/><text x="1359" y="1373.7" font-size="37.5" text-anchor="start" fill="#000">x10<tspan font-size="24" dy="-15">-3</tspan></text><text x="1369.5" y="1415.8" font-size="37.5" text-anchor="middle" fill="#000">3</text><text x="1369.5" y="1562" font-size="37.5" text-anchor="middle" fill="#000">0</text><text x="1389.5" y="1477" font-size="37.5" text-anchor="middle" fill="#000" transform="rotate(90 1389.5 1477)">&#916;R<tspan font-size="22" dy="-14">2</tspan></text><text x="1153" y="1801" font-size="38.5" text-anchor="end" fill="#000" transform="rotate(-45 1153 1801)">Choice</text><text x="1202.3" y="1801" font-size="38.5" text-anchor="end" fill="#000" transform="rotate(-45 1202.3 1801)">Success</text><text x="1251.6" y="1801" font-size="38.5" text-anchor="end" fill="#000" transform="rotate(-45 1251.6 1801)">prev. Choice</text><text x="1300.9" y="1801" font-size="38.5" text-anchor="end" fill="#000" transform="rotate(-45 1300.9 1801)">prev. Success</text><text x="1350.2" y="1801" font-size="38.5" text-anchor="end" fill="#000" transform="rotate(-45 1350.2 1801)">Stimulus</text><text x="1484" y="1309" font-size="77" text-anchor="start" fill="#000" font-weight="bold">e</text><text x="1770.5" y="1304" font-size="46.2" text-anchor="middle" fill="#000">Choice</text><text x="1557" y="1343" font-size="37.5" text-anchor="start" fill="#000">x10<tspan font-size="24" dy="-15">-3</tspan></text><text x="1570.5" y="1424" font-size="37.5" text-anchor="middle" fill="#000" transform="rotate(-90 1570.5 1424)">&#916;R<tspan font-size="22" dy="-14">2</tspan></text><path d="M1629.3,1346.4 L1629.3,1587.3 L1923,1587.3" fill="none" stroke="#000" stroke-width="2.2"/><line x1="1622" y1="1560.4" x2="1629.3" y2="1560.4" stroke="#000" stroke-width="2"/><line x1="1622" y1="1533.7" x2="1629.3" y2="1533.7" stroke="#000" stroke-width="2"/><line x1="1622" y1="1507" x2="1629.3" y2="1507" stroke="#000" stroke-width="2"/><line x1="1622" y1="1480.3" x2="1629.3" y2="1480.3" stroke="#000" stroke-width="2"/><line x1="1622" y1="1453.6" x2="1629.3" y2="1453.6" stroke="#000" stroke-width="2"/><line x1="1622" y1="1426.9" x2="1629.3" y2="1426.9" stroke="#000" stroke-width="2"/><line x1="1622" y1="1400.2" x2="1629.3" y2="1400.2" stroke="#000" stroke-width="2"/><line x1="1622" y1="1373.5" x2="1629.3" y2="1373.5" stroke="#000" stroke-width="2"/><text x="1613.5" y="1573.9" font-size="37.5" text-anchor="end" fill="#000">0</text><text x="1613.5" y="1520.5" font-size="37.5" text-anchor="end" fill="#000">2</text><text x="1613.5" y="1467.1" font-size="37.5" text-anchor="end" fill="#000">4</text><text x="1613.5" y="1413.7" font-size="37.5" text-anchor="end" fill="#000">6</text><line x1="1631" y1="1560.4" x2="1919" y2="1560.4" stroke="#888" stroke-width="1.8" stroke-dasharray="7 6"/><text x="1677" y="1626.6" font-size="37.5" text-anchor="middle" fill="#000">EMX</text><text x="1776" y="1626.6" font-size="37.5" text-anchor="middle" fill="#000">IT</text><text x="1873" y="1626.6" font-size="37.5" text-anchor="middle" fill="#000">PT</text><path d="M1687.2,1535.04 C1687.45,1534.59 1687.7,1535.26 1688.7,1532.37 C1689.7,1529.47 1691.45,1524.13 1693.2,1517.68 C1694.95,1511.23 1697.2,1502.11 1699.2,1493.65 C1701.2,1485.2 1703.87,1474.52 1705.2,1466.95 C1706.53,1459.38 1707.2,1454.93 1707.2,1448.26 C1707.2,1441.59 1706.53,1434.02 1705.2,1426.9 C1703.87,1419.78 1701.53,1411.77 1699.2,1405.54 C1696.87,1399.31 1693.45,1393.53 1691.2,1389.52 C1688.95,1385.51 1686.87,1383.2 1685.7,1381.51 C1684.53,1379.82 1684.45,1379.73 1684.2,1379.37 L1672.2,1379.37 C1671.95,1379.73 1671.87,1379.82 1670.7,1381.51 C1669.53,1383.2 1667.45,1385.51 1665.2,1389.52 C1662.95,1393.53 1659.53,1399.31 1657.2,1405.54 C1654.87,1411.77 1652.53,1419.78 1651.2,1426.9 C1649.87,1434.02 1649.2,1441.59 1649.2,1448.26 C1649.2,1454.93 1649.87,1459.38 1651.2,1466.95 C1652.53,1474.52 1655.2,1485.2 1657.2,1493.65 C1659.2,1502.11 1661.45,1511.23 1663.2,1517.68 C1664.95,1524.13 1666.7,1529.47 1667.7,1532.37 C1668.7,1535.26 1668.95,1534.59 1669.2,1535.04Z" fill="#f3b3b5" stroke="#000" stroke-width="2.2" stroke-linejoin="round"/><g fill="#e06a70" fill-opacity="0.75"><circle cx="1669" cy="1410.71" r="1.6"/><circle cx="1697.47" cy="1448.86" r="1.6"/><circle cx="1688.65" cy="1480.17" r="1.6"/><circle cx="1675.06" cy="1438.18" r="1.6"/><circle cx="1696.16" cy="1443.05" r="1.6"/><circle cx="1691.87" cy="1469.17" r="1.6"/><circle cx="1664.06" cy="1498.38" r="1.6"/><circle cx="1685.27" cy="1403.79" r="1.6"/><circle cx="1682.19" cy="1467.92" r="1.6"/><circle cx="1663.49" cy="1435.96" r="1.6"/><circle cx="1690.44" cy="1458.04" r="1.6"/><circle cx="1698.36" cy="1469.75" r="1.6"/><circle cx="1677.54" cy="1446.5" r="1.6"/><circle cx="1688.95" cy="1430.21" r="1.6"/><circle cx="1670.54" cy="1522.01" r="1.6"/><circle cx="1664.91" cy="1409.47" r="1.6"/><circle cx="1693.03" cy="1492.44" r="1.6"/><circle cx="1672.01" cy="1384.7" r="1.6"/><circle cx="1673.64" cy="1477.46" r="1.6"/><circle cx="1683.1" cy="1430.45" r="1.6"/><circle cx="1661.09" cy="1467.99" r="1.6"/><circle cx="1685.93" cy="1474.23" r="1.6"/><circle cx="1673.85" cy="1386.11" r="1.6"/><circle cx="1675.87" cy="1491.73" r="1.6"/><circle cx="1671.58" cy="1533.69" r="1.6"/><circle cx="1688.36" cy="1422.64" r="1.6"/><circle cx="1672.35" cy="1532.93" r="1.6"/><circle cx="1683.03" cy="1394.88" r="1.6"/><circle cx="1661.57" cy="1439.96" r="1.6"/><circle cx="1682.14" cy="1533.81" r="1.6"/><circle cx="1687.02" cy="1387.27" r="1.6"/><circle cx="1682.46" cy="1435.23" r="1.6"/><circle cx="1681.74" cy="1409.19" r="1.6"/><circle cx="1675.67" cy="1444.84" r="1.6"/><circle cx="1682.11" cy="1379.64" r="1.6"/><circle cx="1681.37" cy="1534.59" r="1.6"/><circle cx="1679.95" cy="1397.09" r="1.6"/><circle cx="1693.93" cy="1451.29" r="1.6"/><circle cx="1666.43" cy="1520.07" r="1.6"/><circle cx="1687.47" cy="1420.15" r="1.6"/><circle cx="1680.07" cy="1381.3" r="1.6"/><circle cx="1678.71" cy="1519.72" r="1.6"/><circle cx="1695.38" cy="1445.8" r="1.6"/><circle cx="1680.8" cy="1379.57" r="1.6"/><circle cx="1679.22" cy="1395.28" r="1.6"/><circle cx="1663.91" cy="1483.62" r="1.6"/><circle cx="1688.48" cy="1460.72" r="1.6"/><circle cx="1667.45" cy="1431.61" r="1.6"/><circle cx="1674.46" cy="1494.08" r="1.6"/><circle cx="1683.02" cy="1388.48" r="1.6"/><circle cx="1697.53" cy="1459.2" r="1.6"/><circle cx="1678.09" cy="1445.6" r="1.6"/><circle cx="1673.86" cy="1495.58" r="1.6"/><circle cx="1682.79" cy="1531.4" r="1.6"/><circle cx="1679.12" cy="1534.01" r="1.6"/><circle cx="1682.23" cy="1458.57" r="1.6"/><circle cx="1697.75" cy="1482.35" r="1.6"/><circle cx="1663.45" cy="1456.01" r="1.6"/><circle cx="1667.39" cy="1490.48" r="1.6"/><circle cx="1676.69" cy="1381.2" r="1.6"/><circle cx="1679.58" cy="1382.9" r="1.6"/><circle cx="1684.26" cy="1403.16" r="1.6"/><circle cx="1661.84" cy="1430.78" r="1.6"/><circle cx="1672.4" cy="1455.69" r="1.6"/><circle cx="1657.24" cy="1453.53" r="1.6"/><circle cx="1668.71" cy="1529.06" r="1.6"/><circle cx="1667.24" cy="1400.24" r="1.6"/><circle cx="1679.5" cy="1407.55" r="1.6"/><circle cx="1692.68" cy="1413.93" r="1.6"/><circle cx="1672.8" cy="1533.28" r="1.6"/></g><line x1="1678.2" y1="1490.98" x2="1678.2" y2="1428.24" stroke="#000" stroke-width="4.2"/><circle cx="1678.2" cy="1461.61" r="7" fill="#fff" stroke="#000" stroke-width="1.8"/><path d="M1789,1552.39 C1789.5,1552.12 1789.83,1552.57 1792,1550.79 C1794.17,1549.01 1799.75,1545 1802,1541.71 C1804.25,1538.42 1805.83,1534.59 1805.5,1531.03 C1805.17,1527.47 1802.75,1523.91 1800,1520.35 C1797.25,1516.79 1791.92,1513.23 1789,1509.67 C1786.08,1506.11 1783.5,1502.99 1782.5,1498.99 C1781.5,1494.99 1783,1489.64 1783,1485.64 C1783,1481.64 1783.08,1478.3 1782.5,1474.96 C1781.92,1471.62 1780.32,1468.29 1779.5,1465.62 C1778.68,1462.94 1777.97,1461.39 1777.6,1458.94 C1777.23,1456.49 1777.35,1452.27 1777.3,1450.93 L1774.7,1450.93 C1774.65,1452.27 1774.77,1456.49 1774.4,1458.94 C1774.03,1461.39 1773.32,1462.94 1772.5,1465.62 C1771.68,1468.29 1770.08,1471.62 1769.5,1474.96 C1768.92,1478.3 1769,1481.64 1769,1485.64 C1769,1489.64 1770.5,1494.99 1769.5,1498.99 C1768.5,1502.99 1765.92,1506.11 1763,1509.67 C1760.08,1513.23 1754.75,1516.79 1752,1520.35 C1749.25,1523.91 1746.83,1527.47 1746.5,1531.03 C1746.17,1534.59 1747.75,1538.42 1750,1541.71 C1752.25,1545 1757.83,1549.01 1760,1550.79 C1762.17,1552.57 1762.5,1552.12 1763,1552.39Z" fill="#b3f2b0" stroke="#000" stroke-width="2.2" stroke-linejoin="round"/><g fill="#5ccc5c" fill-opacity="0.75"><circle cx="1755.21" cy="1535.63" r="1.6"/><circle cx="1781.4" cy="1546.29" r="1.6"/><circle cx="1792.54" cy="1530.03" r="1.6"/><circle cx="1768.38" cy="1550.89" r="1.6"/><circle cx="1775.21" cy="1507.2" r="1.6"/><circle cx="1785.77" cy="1510.45" r="1.6"/><circle cx="1784.54" cy="1519.06" r="1.6"/><circle cx="1776.56" cy="1493.46" r="1.6"/><circle cx="1784.53" cy="1551.64" r="1.6"/><circle cx="1753.95" cy="1539.91" r="1.6"/><circle cx="1792.11" cy="1526.71" r="1.6"/><circle cx="1776.82" cy="1504.77" r="1.6"/><circle cx="1788.96" cy="1520.98" r="1.6"/><circle cx="1756.61" cy="1535.83" r="1.6"/><circle cx="1762.11" cy="1550.03" r="1.6"/><circle cx="1780.51" cy="1517.68" r="1.6"/><circle cx="1771.38" cy="1506.57" r="1.6"/><circle cx="1766.11" cy="1534.7" r="1.6"/><circle cx="1772.88" cy="1504.37" r="1.6"/><circle cx="1769.17" cy="1505.17" r="1.6"/><circle cx="1770.34" cy="1488.08" r="1.6"/><circle cx="1783.91" cy="1525.43" r="1.6"/><circle cx="1758.6" cy="1519.01" r="1.6"/><circle cx="1794.36" cy="1542.99" r="1.6"/><circle cx="1753.06" cy="1537.27" r="1.6"/><circle cx="1786.07" cy="1551.44" r="1.6"/><circle cx="1769.03" cy="1520.16" r="1.6"/><circle cx="1770.24" cy="1528.18" r="1.6"/><circle cx="1777.13" cy="1549.58" r="1.6"/><circle cx="1768.92" cy="1516.42" r="1.6"/><circle cx="1772.09" cy="1547.88" r="1.6"/><circle cx="1781.66" cy="1532.86" r="1.6"/><circle cx="1770.94" cy="1476.06" r="1.6"/><circle cx="1759.44" cy="1520.22" r="1.6"/><circle cx="1767.96" cy="1512.75" r="1.6"/><circle cx="1786.45" cy="1509.25" r="1.6"/><circle cx="1773.04" cy="1512.59" r="1.6"/><circle cx="1792.75" cy="1522.64" r="1.6"/><circle cx="1786.25" cy="1508.8" r="1.6"/><circle cx="1787.72" cy="1519.91" r="1.6"/><circle cx="1793.05" cy="1526.74" r="1.6"/><circle cx="1782.91" cy="1550.59" r="1.6"/><circle cx="1768.3" cy="1540.63" r="1.6"/><circle cx="1766.98" cy="1531.19" r="1.6"/><circle cx="1789.27" cy="1535.88" r="1.6"/><circle cx="1759.41" cy="1529.13" r="1.6"/><circle cx="1767.89" cy="1552.29" r="1.6"/><circle cx="1779.75" cy="1516.1" r="1.6"/><circle cx="1767.67" cy="1525.84" r="1.6"/><circle cx="1792.48" cy="1527.7" r="1.6"/><circle cx="1795.93" cy="1540.05" r="1.6"/><circle cx="1779.37" cy="1551.6" r="1.6"/><circle cx="1778.64" cy="1492.11" r="1.6"/><circle cx="1769.94" cy="1551.55" r="1.6"/><circle cx="1799.32" cy="1531.36" r="1.6"/><circle cx="1788.43" cy="1520.66" r="1.6"/><circle cx="1771.5" cy="1529.76" r="1.6"/><circle cx="1771.34" cy="1544.79" r="1.6"/><circle cx="1775.32" cy="1474.92" r="1.6"/><circle cx="1766.89" cy="1522.11" r="1.6"/><circle cx="1785.12" cy="1511.46" r="1.6"/><circle cx="1792.88" cy="1535.89" r="1.6"/><circle cx="1766.32" cy="1524.94" r="1.6"/><circle cx="1778.95" cy="1542.58" r="1.6"/><circle cx="1780.67" cy="1512.84" r="1.6"/><circle cx="1770.81" cy="1527.19" r="1.6"/><circle cx="1760.49" cy="1536.78" r="1.6"/><circle cx="1785.13" cy="1534.34" r="1.6"/><circle cx="1758.2" cy="1521.57" r="1.6"/><circle cx="1775.24" cy="1526.84" r="1.6"/></g><line x1="1776" y1="1539.04" x2="1776" y2="1520.35" stroke="#000" stroke-width="4.2"/><circle cx="1776" cy="1528.36" r="7" fill="#fff" stroke="#000" stroke-width="1.8"/><path d="M1877.5,1559.07 C1877.92,1557.95 1878.25,1556.17 1880,1552.39 C1881.75,1548.61 1885.17,1541.71 1888,1536.37 C1890.83,1531.03 1894.5,1525.25 1897,1520.35 C1899.5,1515.46 1902.33,1511.45 1903,1507 C1903.67,1502.55 1902.67,1498.55 1901,1493.65 C1899.33,1488.76 1895.83,1483.42 1893,1477.63 C1890.17,1471.85 1886.5,1465.62 1884,1458.94 C1881.5,1452.27 1879.33,1445.59 1878,1437.58 C1876.67,1429.57 1876.5,1418.89 1876,1410.88 C1875.5,1402.87 1875.17,1393.08 1875,1389.52 L1873,1389.52 C1872.83,1393.08 1872.5,1402.87 1872,1410.88 C1871.5,1418.89 1871.33,1429.57 1870,1437.58 C1868.67,1445.59 1866.5,1452.27 1864,1458.94 C1861.5,1465.62 1857.83,1471.85 1855,1477.63 C1852.17,1483.42 1848.67,1488.76 1847,1493.65 C1845.33,1498.55 1844.33,1502.55 1845,1507 C1845.67,1511.45 1848.5,1515.46 1851,1520.35 C1853.5,1525.25 1857.17,1531.03 1860,1536.37 C1862.83,1541.71 1866.25,1548.61 1868,1552.39 C1869.75,1556.17 1870.08,1557.95 1870.5,1559.07Z" fill="#b3b3f5" stroke="#000" stroke-width="2.2" stroke-linejoin="round"/><g fill="#6a6ae0" fill-opacity="0.75"><circle cx="1851.51" cy="1503.64" r="1.6"/><circle cx="1885.87" cy="1520.35" r="1.6"/><circle cx="1858.58" cy="1527.39" r="1.6"/><circle cx="1867.89" cy="1490.87" r="1.6"/><circle cx="1890.91" cy="1481" r="1.6"/><circle cx="1889.3" cy="1494.65" r="1.6"/><circle cx="1888.88" cy="1483.05" r="1.6"/><circle cx="1889.98" cy="1502.95" r="1.6"/><circle cx="1877.67" cy="1507.04" r="1.6"/><circle cx="1869.21" cy="1540.3" r="1.6"/><circle cx="1893.39" cy="1507.75" r="1.6"/><circle cx="1894.89" cy="1511.37" r="1.6"/><circle cx="1856.55" cy="1524.6" r="1.6"/><circle cx="1890.95" cy="1520.82" r="1.6"/><circle cx="1885.46" cy="1501.01" r="1.6"/><circle cx="1878.99" cy="1528.8" r="1.6"/><circle cx="1883.95" cy="1480.22" r="1.6"/><circle cx="1879.4" cy="1447.94" r="1.6"/><circle cx="1869.58" cy="1457.37" r="1.6"/><circle cx="1864.53" cy="1535.8" r="1.6"/><circle cx="1869.71" cy="1548.53" r="1.6"/><circle cx="1880.81" cy="1518.95" r="1.6"/><circle cx="1860.64" cy="1511.21" r="1.6"/><circle cx="1876.36" cy="1469.68" r="1.6"/><circle cx="1884.47" cy="1475.74" r="1.6"/><circle cx="1875.29" cy="1553.64" r="1.6"/><circle cx="1872.01" cy="1552.3" r="1.6"/><circle cx="1875.59" cy="1548.32" r="1.6"/><circle cx="1869.89" cy="1478.28" r="1.6"/><circle cx="1878.63" cy="1501.73" r="1.6"/><circle cx="1874.51" cy="1551.25" r="1.6"/><circle cx="1858.51" cy="1486.62" r="1.6"/><circle cx="1880.64" cy="1475.83" r="1.6"/><circle cx="1895.8" cy="1504.74" r="1.6"/><circle cx="1867.26" cy="1530.08" r="1.6"/><circle cx="1888.09" cy="1513.24" r="1.6"/><circle cx="1878.25" cy="1458.35" r="1.6"/><circle cx="1871.8" cy="1444.51" r="1.6"/><circle cx="1881.15" cy="1508.73" r="1.6"/><circle cx="1864.4" cy="1505.98" r="1.6"/><circle cx="1890.04" cy="1498.28" r="1.6"/><circle cx="1875.65" cy="1544.24" r="1.6"/><circle cx="1867.09" cy="1523.59" r="1.6"/><circle cx="1875.1" cy="1507.67" r="1.6"/><circle cx="1877.19" cy="1552.67" r="1.6"/><circle cx="1871.24" cy="1461.62" r="1.6"/><circle cx="1871.7" cy="1486.32" r="1.6"/><circle cx="1884.43" cy="1500.84" r="1.6"/><circle cx="1854.55" cy="1507.94" r="1.6"/><circle cx="1889.19" cy="1514.09" r="1.6"/><circle cx="1868.9" cy="1516.76" r="1.6"/><circle cx="1878" cy="1489.15" r="1.6"/><circle cx="1853.71" cy="1499.9" r="1.6"/><circle cx="1895.95" cy="1501.72" r="1.6"/><circle cx="1890.9" cy="1486.59" r="1.6"/><circle cx="1858.5" cy="1478.26" r="1.6"/><circle cx="1890.51" cy="1490.97" r="1.6"/><circle cx="1884.46" cy="1477.47" r="1.6"/><circle cx="1873.95" cy="1530.61" r="1.6"/><circle cx="1861.16" cy="1523.81" r="1.6"/><circle cx="1863.23" cy="1489.64" r="1.6"/><circle cx="1894.48" cy="1510.63" r="1.6"/><circle cx="1884" cy="1470.42" r="1.6"/><circle cx="1862.2" cy="1500.89" r="1.6"/><circle cx="1870.88" cy="1490.12" r="1.6"/><circle cx="1855.33" cy="1519.49" r="1.6"/><circle cx="1874.23" cy="1423.1" r="1.6"/><circle cx="1856.04" cy="1518.91" r="1.6"/><circle cx="1880.71" cy="1511.99" r="1.6"/><circle cx="1867.49" cy="1518.03" r="1.6"/></g><line x1="1874" y1="1517.68" x2="1874" y2="1480.3" stroke="#000" stroke-width="4.2"/><circle cx="1874" cy="1501.66" r="7" fill="#fff" stroke="#000" stroke-width="1.8"/><path d="M1678.2,1373.4 L1678.2,1367.4 L1776,1367.4 L1776,1373.4" fill="none" stroke="#000" stroke-width="1.8"/><text x="1731" y="1369.5" font-size="27" text-anchor="middle" fill="#000">*</text><path d="M1678.2,1354.5 L1678.2,1348.5 L1874,1348.5 L1874,1354.5" fill="none" stroke="#000" stroke-width="1.8"/><text x="1731.7" y="1351" font-size="27" text-anchor="middle" fill="#000">*</text><path d="M1776,1339.7 L1776,1333.7 L1874,1333.7 L1874,1339.7" fill="none" stroke="#000" stroke-width="1.8"/><text x="1827" y="1336" font-size="27" text-anchor="middle" fill="#000">*</text><text x="1769.5" y="1708.6" font-size="46.2" text-anchor="middle" fill="#000">Stimulus</text><text x="1557" y="1738" font-size="37.5" text-anchor="start" fill="#000">x10<tspan font-size="24" dy="-15">-3</tspan></text><text x="1570.5" y="1820" font-size="37.5" text-anchor="middle" fill="#000" transform="rotate(-90 1570.5 1820)">&#916;R<tspan font-size="22" dy="-14">2</tspan></text><path d="M1629.3,1742.3 L1629.3,1982.4 L1923,1982.4" fill="none" stroke="#000" stroke-width="2.2"/><line x1="1622" y1="1955" x2="1629.3" y2="1955" stroke="#000" stroke-width="2"/><line x1="1622" y1="1928.5" x2="1629.3" y2="1928.5" stroke="#000" stroke-width="2"/><line x1="1622" y1="1902" x2="1629.3" y2="1902" stroke="#000" stroke-width="2"/><line x1="1622" y1="1875.5" x2="1629.3" y2="1875.5" stroke="#000" stroke-width="2"/><line x1="1622" y1="1849" x2="1629.3" y2="1849" stroke="#000" stroke-width="2"/><line x1="1622" y1="1822.5" x2="1629.3" y2="1822.5" stroke="#000" stroke-width="2"/><line x1="1622" y1="1796" x2="1629.3" y2="1796" stroke="#000" stroke-width="2"/><line x1="1622" y1="1769.5" x2="1629.3" y2="1769.5" stroke="#000" stroke-width="2"/><text x="1613.5" y="1968.5" font-size="37.5" text-anchor="end" fill="#000">0</text><text x="1613.5" y="1915.5" font-size="37.5" text-anchor="end" fill="#000">2</text><text x="1613.5" y="1862.5" font-size="37.5" text-anchor="end" fill="#000">4</text><text x="1613.5" y="1809.5" font-size="37.5" text-anchor="end" fill="#000">6</text><line x1="1631" y1="1955" x2="1919" y2="1955" stroke="#888" stroke-width="1.8" stroke-dasharray="7 6"/><text x="1677" y="2021.7" font-size="37.5" text-anchor="middle" fill="#000">EMX</text><text x="1776" y="2021.7" font-size="37.5" text-anchor="middle" fill="#000">IT</text><text x="1873" y="2021.7" font-size="37.5" text-anchor="middle" fill="#000">PT</text><path d="M1679.7,1958.97 C1679.95,1957.87 1679.95,1955.66 1681.2,1952.35 C1682.45,1949.04 1684.53,1943.52 1687.2,1939.1 C1689.87,1934.68 1694.28,1929.82 1697.2,1925.85 C1700.12,1921.88 1703.03,1918.56 1704.7,1915.25 C1706.37,1911.94 1707.62,1909.51 1707.2,1905.97 C1706.78,1902.44 1704.53,1898.25 1702.2,1894.05 C1699.87,1889.85 1696.03,1885.22 1693.2,1880.8 C1690.37,1876.38 1686.95,1871.52 1685.2,1867.55 C1683.45,1863.58 1683.12,1860.26 1682.7,1856.95 C1682.28,1853.64 1682.7,1849.22 1682.7,1847.67 L1673.7,1847.67 C1673.7,1849.22 1674.12,1853.64 1673.7,1856.95 C1673.28,1860.26 1672.95,1863.58 1671.2,1867.55 C1669.45,1871.52 1666.03,1876.38 1663.2,1880.8 C1660.37,1885.22 1656.53,1889.85 1654.2,1894.05 C1651.87,1898.25 1649.62,1902.44 1649.2,1905.97 C1648.78,1909.51 1650.03,1911.94 1651.7,1915.25 C1653.37,1918.56 1656.28,1921.88 1659.2,1925.85 C1662.12,1929.82 1666.53,1934.68 1669.2,1939.1 C1671.87,1943.52 1673.95,1949.04 1675.2,1952.35 C1676.45,1955.66 1676.45,1957.87 1676.7,1958.97Z" fill="#f3b3b5" stroke="#000" stroke-width="2.2" stroke-linejoin="round"/><g fill="#e06a70" fill-opacity="0.75"><circle cx="1679.19" cy="1909.19" r="1.6"/><circle cx="1683.25" cy="1905.44" r="1.6"/><circle cx="1685.81" cy="1911.01" r="1.6"/><circle cx="1657.85" cy="1915.57" r="1.6"/><circle cx="1665.9" cy="1910.28" r="1.6"/><circle cx="1657.29" cy="1915.57" r="1.6"/><circle cx="1679.82" cy="1907.66" r="1.6"/><circle cx="1697.47" cy="1895.09" r="1.6"/><circle cx="1674.39" cy="1915.8" r="1.6"/><circle cx="1679.1" cy="1918.63" r="1.6"/><circle cx="1673.85" cy="1928.8" r="1.6"/><circle cx="1661.14" cy="1891.09" r="1.6"/><circle cx="1673.7" cy="1903.08" r="1.6"/><circle cx="1657.54" cy="1910.43" r="1.6"/><circle cx="1670.78" cy="1873.71" r="1.6"/><circle cx="1674.45" cy="1906.92" r="1.6"/><circle cx="1667.11" cy="1922.43" r="1.6"/><circle cx="1672.35" cy="1882.77" r="1.6"/><circle cx="1682.3" cy="1915.4" r="1.6"/><circle cx="1697" cy="1891.3" r="1.6"/><circle cx="1673.74" cy="1921.36" r="1.6"/><circle cx="1664.56" cy="1925.11" r="1.6"/><circle cx="1678.17" cy="1910.92" r="1.6"/><circle cx="1671.14" cy="1911.5" r="1.6"/><circle cx="1677.12" cy="1910.77" r="1.6"/><circle cx="1690.67" cy="1896.42" r="1.6"/><circle cx="1670.17" cy="1915.1" r="1.6"/><circle cx="1668.33" cy="1885.96" r="1.6"/><circle cx="1675.9" cy="1891.51" r="1.6"/><circle cx="1681.48" cy="1895.6" r="1.6"/><circle cx="1687.97" cy="1889.75" r="1.6"/><circle cx="1677.68" cy="1859.01" r="1.6"/><circle cx="1682.12" cy="1867.74" r="1.6"/><circle cx="1673.6" cy="1894.58" r="1.6"/><circle cx="1682.31" cy="1946.61" r="1.6"/><circle cx="1676.34" cy="1930.62" r="1.6"/><circle cx="1682.68" cy="1925.32" r="1.6"/><circle cx="1692.98" cy="1896.01" r="1.6"/><circle cx="1673.3" cy="1886.13" r="1.6"/><circle cx="1690.11" cy="1920.64" r="1.6"/><circle cx="1686.33" cy="1881.21" r="1.6"/><circle cx="1695.01" cy="1908.54" r="1.6"/><circle cx="1686.19" cy="1915.14" r="1.6"/><circle cx="1659.13" cy="1919.25" r="1.6"/><circle cx="1687.77" cy="1883.3" r="1.6"/><circle cx="1659.09" cy="1896.03" r="1.6"/><circle cx="1685.37" cy="1938.85" r="1.6"/><circle cx="1682.27" cy="1923.23" r="1.6"/><circle cx="1667.43" cy="1898.03" r="1.6"/><circle cx="1674.07" cy="1946.25" r="1.6"/><circle cx="1683.94" cy="1896.32" r="1.6"/><circle cx="1670.6" cy="1920.17" r="1.6"/><circle cx="1678.82" cy="1892.05" r="1.6"/><circle cx="1671.49" cy="1932.88" r="1.6"/><circle cx="1659.06" cy="1897.17" r="1.6"/><circle cx="1676.08" cy="1938.66" r="1.6"/><circle cx="1670.85" cy="1875.13" r="1.6"/><circle cx="1684.07" cy="1886.85" r="1.6"/><circle cx="1686.26" cy="1916.7" r="1.6"/><circle cx="1665.78" cy="1883.61" r="1.6"/><circle cx="1671.46" cy="1941.03" r="1.6"/><circle cx="1681.71" cy="1930.3" r="1.6"/><circle cx="1665.59" cy="1922.31" r="1.6"/><circle cx="1674.74" cy="1875.28" r="1.6"/><circle cx="1695.98" cy="1910.6" r="1.6"/><circle cx="1688.42" cy="1927.52" r="1.6"/><circle cx="1669.52" cy="1880.92" r="1.6"/><circle cx="1677.33" cy="1946.77" r="1.6"/><circle cx="1662.38" cy="1910.04" r="1.6"/><circle cx="1675.65" cy="1906.23" r="1.6"/></g><line x1="1678.2" y1="1919.22" x2="1678.2" y2="1892.72" stroke="#000" stroke-width="4.2"/><circle cx="1678.2" cy="1905.97" r="7" fill="#fff" stroke="#000" stroke-width="1.8"/><path d="M1786,1931.15 C1786.33,1930.8 1786.17,1931.68 1788,1929.03 C1789.83,1926.38 1794.42,1920.64 1797,1915.25 C1799.58,1909.86 1802.08,1902.88 1803.5,1896.7 C1804.92,1890.52 1806.08,1883.89 1805.5,1878.15 C1804.92,1872.41 1802.75,1867.55 1800,1862.25 C1797.25,1856.95 1792.17,1851.65 1789,1846.35 C1785.83,1841.05 1782.58,1836.63 1781,1830.45 C1779.42,1824.27 1779.75,1816.76 1779.5,1809.25 C1779.25,1801.74 1779.42,1792.03 1779.5,1785.4 C1779.58,1778.78 1779.92,1772.15 1780,1769.5 L1772,1769.5 C1772.08,1772.15 1772.42,1778.78 1772.5,1785.4 C1772.58,1792.03 1772.75,1801.74 1772.5,1809.25 C1772.25,1816.76 1772.58,1824.27 1771,1830.45 C1769.42,1836.63 1766.17,1841.05 1763,1846.35 C1759.83,1851.65 1754.75,1856.95 1752,1862.25 C1749.25,1867.55 1747.08,1872.41 1746.5,1878.15 C1745.92,1883.89 1747.08,1890.52 1748.5,1896.7 C1749.92,1902.88 1752.42,1909.86 1755,1915.25 C1757.58,1920.64 1762.17,1926.38 1764,1929.03 C1765.83,1931.68 1765.67,1930.8 1766,1931.15Z" fill="#b3f2b0" stroke="#000" stroke-width="2.2" stroke-linejoin="round"/><g fill="#5ccc5c" fill-opacity="0.75"><circle cx="1782.15" cy="1893.27" r="1.6"/><circle cx="1760.96" cy="1913.5" r="1.6"/><circle cx="1770.5" cy="1928.21" r="1.6"/><circle cx="1777.79" cy="1929.5" r="1.6"/><circle cx="1775.99" cy="1887.07" r="1.6"/><circle cx="1789.63" cy="1922.73" r="1.6"/><circle cx="1767.56" cy="1919.28" r="1.6"/><circle cx="1756.45" cy="1877.68" r="1.6"/><circle cx="1791.28" cy="1917.36" r="1.6"/><circle cx="1755.61" cy="1882.26" r="1.6"/><circle cx="1793.13" cy="1862.01" r="1.6"/><circle cx="1759.09" cy="1910.68" r="1.6"/><circle cx="1771.76" cy="1907.47" r="1.6"/><circle cx="1779.18" cy="1775.19" r="1.6"/><circle cx="1781.32" cy="1888.51" r="1.6"/><circle cx="1762.44" cy="1872.01" r="1.6"/><circle cx="1781.72" cy="1896.41" r="1.6"/><circle cx="1779.45" cy="1897.46" r="1.6"/><circle cx="1784.01" cy="1843.44" r="1.6"/><circle cx="1764.35" cy="1874.36" r="1.6"/><circle cx="1771.63" cy="1882.81" r="1.6"/><circle cx="1769.84" cy="1895.58" r="1.6"/><circle cx="1773.55" cy="1769.93" r="1.6"/><circle cx="1767.76" cy="1929.88" r="1.6"/><circle cx="1763.55" cy="1922.79" r="1.6"/><circle cx="1759.44" cy="1860.9" r="1.6"/><circle cx="1776" cy="1831.34" r="1.6"/><circle cx="1773.56" cy="1785.2" r="1.6"/><circle cx="1767.38" cy="1930.49" r="1.6"/><circle cx="1774.44" cy="1825.03" r="1.6"/><circle cx="1787.15" cy="1851.76" r="1.6"/><circle cx="1780.46" cy="1855.81" r="1.6"/><circle cx="1780.13" cy="1880.37" r="1.6"/><circle cx="1770.5" cy="1858.91" r="1.6"/><circle cx="1774.78" cy="1865.08" r="1.6"/><circle cx="1776.99" cy="1881.29" r="1.6"/><circle cx="1773.03" cy="1778.21" r="1.6"/><circle cx="1754.28" cy="1874.38" r="1.6"/><circle cx="1786.61" cy="1881.42" r="1.6"/><circle cx="1774.05" cy="1819.11" r="1.6"/><circle cx="1786.28" cy="1915.56" r="1.6"/><circle cx="1774.93" cy="1930.41" r="1.6"/><circle cx="1774.15" cy="1833.63" r="1.6"/><circle cx="1791.98" cy="1888.55" r="1.6"/><circle cx="1752.16" cy="1889.07" r="1.6"/><circle cx="1773.98" cy="1783.46" r="1.6"/><circle cx="1775.42" cy="1819.32" r="1.6"/><circle cx="1781.63" cy="1929.19" r="1.6"/><circle cx="1767.64" cy="1931.07" r="1.6"/><circle cx="1781.65" cy="1873.03" r="1.6"/><circle cx="1776.79" cy="1788.29" r="1.6"/><circle cx="1768.4" cy="1879.73" r="1.6"/><circle cx="1792.57" cy="1909.39" r="1.6"/><circle cx="1756.09" cy="1882.26" r="1.6"/><circle cx="1770.71" cy="1894.24" r="1.6"/><circle cx="1787.33" cy="1911.53" r="1.6"/><circle cx="1785.98" cy="1860.41" r="1.6"/><circle cx="1783.28" cy="1922.39" r="1.6"/><circle cx="1763.62" cy="1911.73" r="1.6"/><circle cx="1781.3" cy="1921.04" r="1.6"/><circle cx="1774.94" cy="1918.49" r="1.6"/><circle cx="1789.96" cy="1862.04" r="1.6"/><circle cx="1770.78" cy="1907.68" r="1.6"/><circle cx="1790.27" cy="1885.48" r="1.6"/><circle cx="1777.21" cy="1837.29" r="1.6"/><circle cx="1786.59" cy="1849.45" r="1.6"/><circle cx="1793.73" cy="1900.14" r="1.6"/><circle cx="1758.74" cy="1907.72" r="1.6"/><circle cx="1789.64" cy="1857.45" r="1.6"/><circle cx="1779.27" cy="1872.78" r="1.6"/></g><line x1="1776" y1="1899.35" x2="1776" y2="1859.6" stroke="#000" stroke-width="4.2"/><circle cx="1776" cy="1875.5" r="7" fill="#fff" stroke="#000" stroke-width="1.8"/><path d="M1881,1958.18 C1881.5,1957.43 1882.17,1956.41 1884,1953.67 C1885.83,1950.94 1889.5,1945.95 1892,1941.75 C1894.5,1937.55 1897.08,1933.36 1899,1928.5 C1900.92,1923.64 1903.5,1917.46 1903.5,1912.6 C1903.5,1907.74 1901.25,1904.21 1899,1899.35 C1896.75,1894.49 1892.83,1888.75 1890,1883.45 C1887.17,1878.15 1884.17,1872.41 1882,1867.55 C1879.83,1862.69 1878.2,1857.83 1877,1854.3 C1875.8,1850.77 1875.17,1847.67 1874.8,1846.35 L1873.2,1846.35 C1872.83,1847.67 1872.2,1850.77 1871,1854.3 C1869.8,1857.83 1868.17,1862.69 1866,1867.55 C1863.83,1872.41 1860.83,1878.15 1858,1883.45 C1855.17,1888.75 1851.25,1894.49 1849,1899.35 C1846.75,1904.21 1844.5,1907.74 1844.5,1912.6 C1844.5,1917.46 1847.08,1923.64 1849,1928.5 C1850.92,1933.36 1853.5,1937.55 1856,1941.75 C1858.5,1945.95 1862.17,1950.94 1864,1953.67 C1865.83,1956.41 1866.5,1957.43 1867,1958.18Z" fill="#b3b3f5" stroke="#000" stroke-width="2.2" stroke-linejoin="round"/><g fill="#6a6ae0" fill-opacity="0.75"><circle cx="1868.95" cy="1897.08" r="1.6"/><circle cx="1890.48" cy="1904.07" r="1.6"/><circle cx="1857.41" cy="1919.62" r="1.6"/><circle cx="1880.85" cy="1870.76" r="1.6"/><circle cx="1872.9" cy="1868.4" r="1.6"/><circle cx="1869.33" cy="1955.29" r="1.6"/><circle cx="1883.02" cy="1907.88" r="1.6"/><circle cx="1867.26" cy="1911.09" r="1.6"/><circle cx="1878.7" cy="1882.93" r="1.6"/><circle cx="1862.5" cy="1944.69" r="1.6"/><circle cx="1866.23" cy="1912.11" r="1.6"/><circle cx="1891.52" cy="1894.87" r="1.6"/><circle cx="1879.17" cy="1916.31" r="1.6"/><circle cx="1858.6" cy="1938.55" r="1.6"/><circle cx="1875.23" cy="1904.13" r="1.6"/><circle cx="1866.28" cy="1904.43" r="1.6"/><circle cx="1851.31" cy="1916.83" r="1.6"/><circle cx="1879.97" cy="1955.05" r="1.6"/><circle cx="1873.29" cy="1881.25" r="1.6"/><circle cx="1877.92" cy="1902.52" r="1.6"/><circle cx="1878.11" cy="1874.49" r="1.6"/><circle cx="1869.07" cy="1920.01" r="1.6"/><circle cx="1856.02" cy="1927.36" r="1.6"/><circle cx="1866.44" cy="1897.1" r="1.6"/><circle cx="1891.23" cy="1931.68" r="1.6"/><circle cx="1878.9" cy="1896.55" r="1.6"/><circle cx="1869.83" cy="1942.42" r="1.6"/><circle cx="1865.1" cy="1901.35" r="1.6"/><circle cx="1878.26" cy="1896.77" r="1.6"/><circle cx="1853.26" cy="1921.18" r="1.6"/><circle cx="1887.31" cy="1922.02" r="1.6"/><circle cx="1882.48" cy="1887.23" r="1.6"/><circle cx="1873.25" cy="1889.29" r="1.6"/><circle cx="1881.1" cy="1870.67" r="1.6"/><circle cx="1855.19" cy="1896.99" r="1.6"/><circle cx="1873.64" cy="1908.1" r="1.6"/><circle cx="1878.66" cy="1870.5" r="1.6"/><circle cx="1893.12" cy="1911.15" r="1.6"/><circle cx="1889.21" cy="1930.37" r="1.6"/><circle cx="1878.57" cy="1955.68" r="1.6"/><circle cx="1865.1" cy="1925.9" r="1.6"/><circle cx="1876.31" cy="1912.89" r="1.6"/><circle cx="1876.77" cy="1955.45" r="1.6"/><circle cx="1871.21" cy="1889.27" r="1.6"/><circle cx="1871.33" cy="1937.13" r="1.6"/><circle cx="1867.37" cy="1892.62" r="1.6"/><circle cx="1866.6" cy="1922.29" r="1.6"/><circle cx="1873.42" cy="1897.09" r="1.6"/><circle cx="1863.53" cy="1932.88" r="1.6"/><circle cx="1860.34" cy="1893.22" r="1.6"/><circle cx="1854.82" cy="1909.26" r="1.6"/><circle cx="1867.14" cy="1907.59" r="1.6"/><circle cx="1879.76" cy="1913.55" r="1.6"/><circle cx="1879.38" cy="1937.82" r="1.6"/><circle cx="1875" cy="1882.77" r="1.6"/><circle cx="1856.67" cy="1931.24" r="1.6"/><circle cx="1857.39" cy="1925.52" r="1.6"/><circle cx="1895.58" cy="1919.12" r="1.6"/><circle cx="1884.04" cy="1924.7" r="1.6"/><circle cx="1856.38" cy="1893.7" r="1.6"/><circle cx="1872.5" cy="1874.27" r="1.6"/><circle cx="1889.72" cy="1926.18" r="1.6"/><circle cx="1868.28" cy="1900.25" r="1.6"/><circle cx="1888.95" cy="1926.5" r="1.6"/><circle cx="1874.94" cy="1944.24" r="1.6"/><circle cx="1888.58" cy="1928.97" r="1.6"/><circle cx="1873.92" cy="1956.22" r="1.6"/><circle cx="1875.37" cy="1885.97" r="1.6"/><circle cx="1874.02" cy="1851.12" r="1.6"/><circle cx="1878.43" cy="1869.13" r="1.6"/></g><line x1="1874" y1="1929.83" x2="1874" y2="1899.35" stroke="#000" stroke-width="4.2"/><circle cx="1874" cy="1912.6" r="7" fill="#fff" stroke="#000" stroke-width="1.8"/><path d="M1678.2,1761.8 L1678.2,1755.8 L1776,1755.8 L1776,1761.8" fill="none" stroke="#000" stroke-width="1.8"/><text x="1717.8" y="1757.5" font-size="27" text-anchor="middle" fill="#000">*</text><path d="M1776,1747 L1776,1741 L1874,1741 L1874,1747" fill="none" stroke="#000" stroke-width="1.8"/><text x="1813.8" y="1743" font-size="27" text-anchor="middle" fill="#000">*</text></svg></body></html>
